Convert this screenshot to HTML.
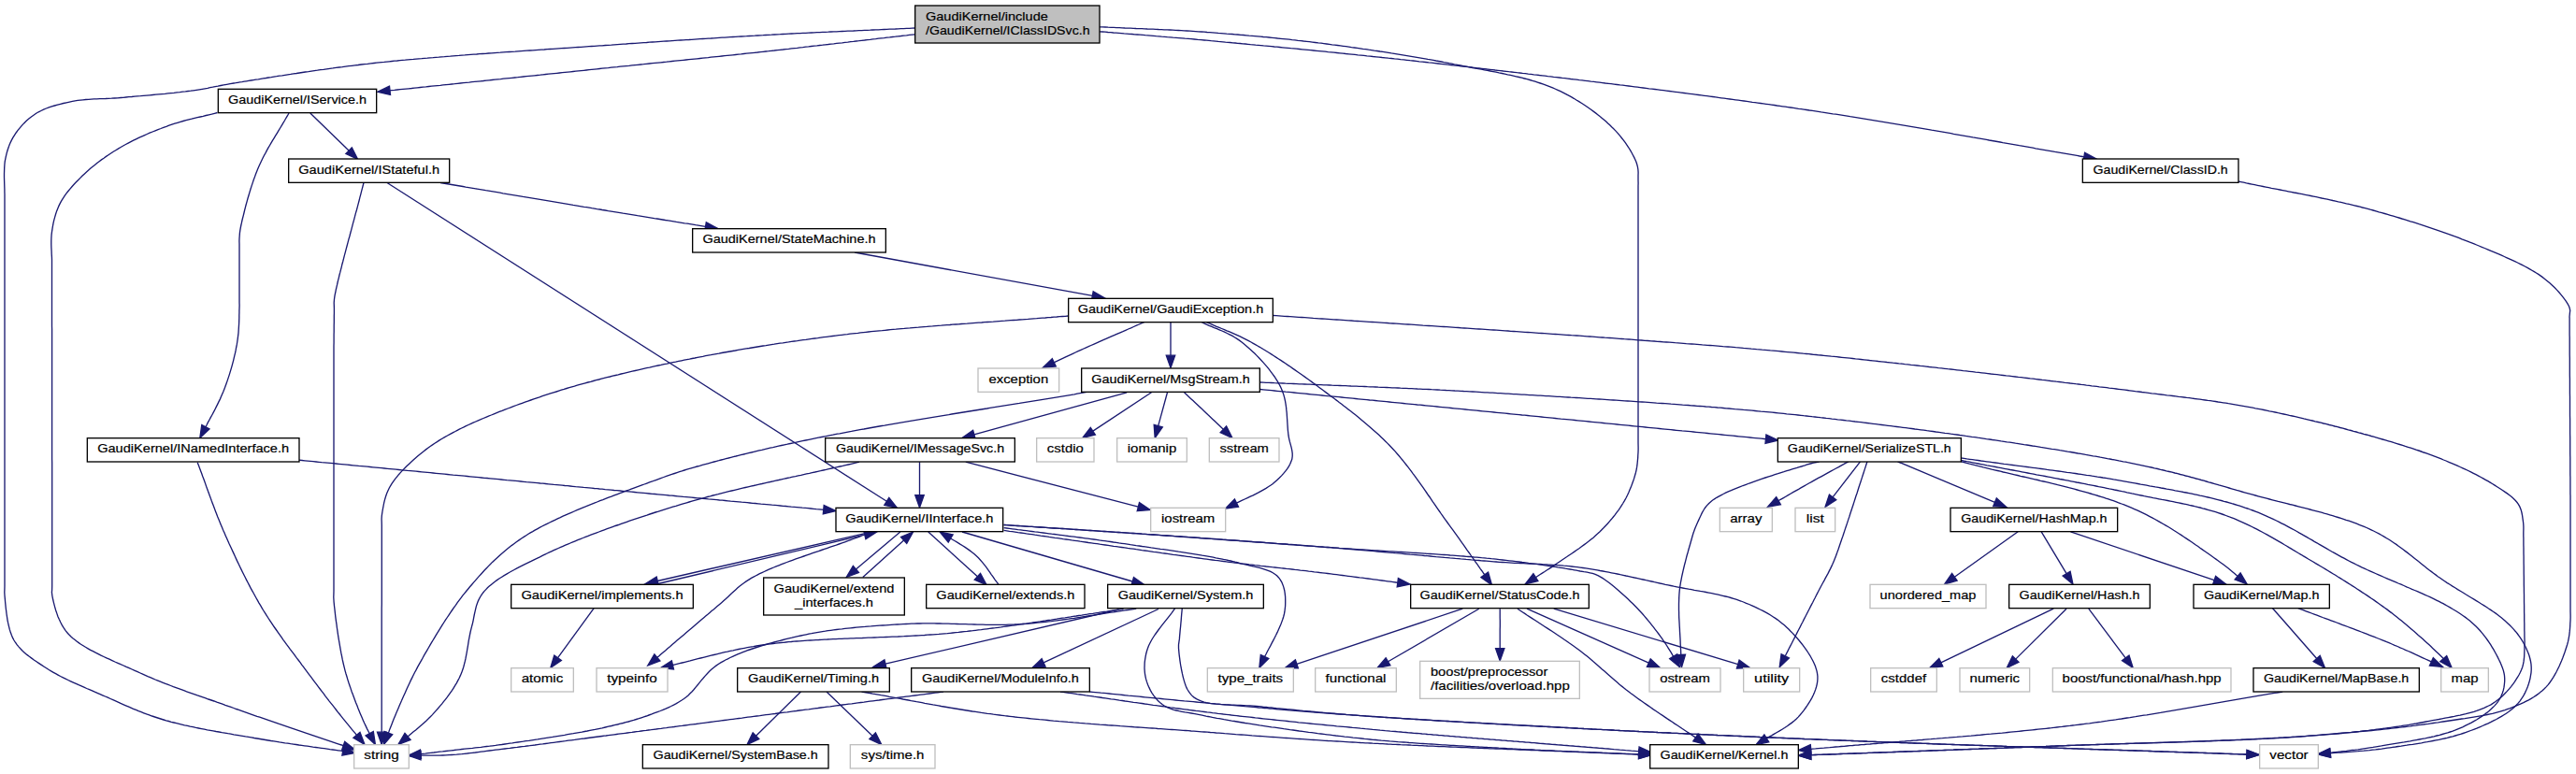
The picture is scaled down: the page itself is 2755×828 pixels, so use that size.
<!DOCTYPE html>
<html><head><meta charset="utf-8"><title>IClassIDSvc.h include graph</title>
<style>
html,body{margin:0;padding:0;background:#fff;}
body{width:2755px;height:828px;overflow:hidden;}
svg{display:block;}
text{font-family:"Liberation Sans",sans-serif;font-size:13.60px;fill:#000;stroke:#000;stroke-width:0.2px;}
rect{stroke-width:1.33;}
.e path{fill:none;stroke:#191970;stroke-width:1.33;}
.e polygon{fill:#191970;stroke:#191970;stroke-width:1.33;stroke-linejoin:miter;}
</style></head>
<body>
<svg width="2755" height="828" viewBox="0 0 2755 828">
<rect x="0" y="0" width="2755" height="828" fill="#ffffff" stroke="none"/>
<g class="e">
<path d="M978.5,30.0 975.5,30.1 972.5,30.3 969.5,30.4 966.5,30.6 963.5,30.7 960.5,30.8 957.5,31.0 954.5,31.1 951.5,31.2 948.5,31.4 945.5,31.5 942.5,31.6 939.5,31.8 936.6,31.9 933.6,32.0 930.6,32.2 927.6,32.3 924.6,32.4 921.6,32.6 918.6,32.7 915.6,32.8 912.7,33.0 909.7,33.1 906.7,33.2 903.7,33.4 900.7,33.5 897.7,33.6 894.7,33.8 891.7,33.9 888.7,34.0 885.7,34.2 882.7,34.3 879.7,34.4 876.7,34.6 873.7,34.7 870.7,34.9 867.7,35.0 864.7,35.1 861.7,35.3 858.6,35.4 855.6,35.6 852.6,35.7 849.5,35.9 846.5,36.0 843.5,36.2 840.4,36.4 837.4,36.5 834.3,36.7 831.3,36.8 828.2,37.0 825.1,37.2 822.1,37.3 819.0,37.5 816.1,37.7 813.1,37.8 810.2,38.0 807.2,38.2 804.3,38.3 801.4,38.5 798.4,38.7 795.5,38.8 792.6,39.0 789.7,39.2 786.7,39.4 783.8,39.5 780.9,39.7 778.0,39.9 775.0,40.1 772.1,40.2 769.2,40.4 766.2,40.6 763.3,40.8 760.4,41.0 757.4,41.1 754.5,41.3 751.6,41.5 748.6,41.7 745.7,41.9 742.7,42.1 739.7,42.3 736.8,42.5 733.8,42.6 730.8,42.8 727.9,43.0 724.9,43.2 721.9,43.4 718.9,43.6 715.9,43.8 712.9,44.0 709.8,44.2 706.8,44.4 703.8,44.6 700.7,44.8 697.7,45.0 694.6,45.2 691.5,45.5 688.4,45.7 685.3,45.9 682.2,46.1 679.1,46.3 676.0,46.5 672.8,46.7 669.7,47.0 666.5,47.2 663.3,47.4 660.2,47.6 657.0,47.8 653.7,48.1 650.5,48.3 647.3,48.5 644.0,48.8 641.2,48.9 638.4,49.1 635.6,49.3 632.8,49.5 629.9,49.7 627.1,49.9 624.2,50.1 621.3,50.3 618.3,50.5 615.4,50.7 612.4,50.9 609.5,51.1 606.5,51.3 603.5,51.5 600.5,51.7 597.4,51.9 594.4,52.1 591.3,52.3 588.3,52.5 585.2,52.7 582.1,53.0 579.0,53.2 575.9,53.4 572.8,53.6 569.7,53.8 566.6,54.0 563.4,54.2 560.3,54.4 557.2,54.6 554.0,54.8 550.9,55.1 547.7,55.3 544.5,55.5 541.4,55.7 538.2,55.9 535.0,56.2 531.9,56.4 528.7,56.6 525.5,56.8 522.4,57.0 519.2,57.3 516.0,57.5 512.9,57.7 509.7,58.0 506.6,58.2 503.4,58.4 500.3,58.6 497.1,58.9 494.0,59.1 490.9,59.4 487.7,59.6 484.6,59.8 481.5,60.1 478.4,60.3 475.3,60.6 472.2,60.8 469.2,61.1 466.1,61.3 463.1,61.6 460.0,61.8 457.0,62.1 454.0,62.3 451.0,62.6 448.0,62.8 445.0,63.1 442.1,63.4 439.1,63.6 436.2,63.9 433.3,64.2 430.4,64.4 427.6,64.7 424.7,65.0 421.9,65.2 419.1,65.5 416.3,65.8 413.5,66.1 410.8,66.4 408.0,66.6 405.3,66.9 402.7,67.2 400.0,67.5 396.6,67.9 393.2,68.3 389.9,68.6 386.5,69.0 383.1,69.5 379.7,69.9 376.3,70.3 372.9,70.7 369.6,71.1 366.2,71.6 362.8,72.0 359.5,72.4 356.1,72.9 352.8,73.3 349.4,73.8 346.1,74.3 342.8,74.7 339.5,75.2 336.3,75.6 333.0,76.1 329.8,76.6 326.5,77.0 323.4,77.5 320.2,78.0 317.0,78.5 313.9,78.9 310.8,79.4 307.8,79.8 304.7,80.3 301.7,80.8 298.7,81.2 295.8,81.7 292.9,82.1 290.0,82.6 287.2,83.0 284.4,83.5 281.6,83.9 278.9,84.3 276.3,84.8 273.6,85.2 271.0,85.6 268.5,86.0 266.0,86.4 263.6,86.8 261.2,87.2 258.8,87.6 256.5,87.9 254.3,88.3 252.1,88.7 250.0,89.0 246.1,89.6 242.5,90.3 239.2,90.9 236.1,91.5 233.1,92.1 230.2,92.6 227.5,93.2 224.7,93.7 222.0,94.3 219.2,94.8 216.3,95.3 213.2,95.8 210.0,96.3 206.6,96.8 203.9,97.2 201.1,97.5 198.3,97.9 195.3,98.2 192.3,98.6 189.2,98.9 186.1,99.3 182.9,99.6 179.7,99.9 176.5,100.3 173.2,100.6 169.9,100.9 166.6,101.2 163.3,101.5 160.1,101.8 156.8,102.1 153.5,102.4 150.3,102.7 147.1,102.9 144.0,103.2 140.9,103.5 137.8,103.7 134.8,104.0 131.9,104.3 129.1,104.5 125.8,104.8 122.5,105.0 119.3,105.2 116.1,105.3 112.9,105.5 109.8,105.6 106.7,105.7 103.6,105.8 100.6,105.9 97.6,106.1 94.7,106.3 91.7,106.5 88.8,106.8 86.0,107.1 83.1,107.4 80.3,107.9 77.5,108.4 74.3,109.1 71.0,109.8 67.8,110.5 64.6,111.3 61.5,112.1 58.4,113.0 55.3,113.9 52.3,114.9 49.4,116.0 46.6,117.2 43.9,118.5 41.2,119.8 38.7,121.3 35.9,123.2 33.1,125.2 30.5,127.3 28.0,129.6 25.6,131.9 23.3,134.4 21.2,136.9 19.1,139.4 17.2,142.0 15.5,144.6 13.9,147.2 12.4,149.9 11.1,152.6 9.9,155.4 8.9,158.2 7.9,161.2 7.1,164.1 6.4,167.2 5.7,170.4 5.2,173.2 4.9,176.2 4.7,179.4 4.6,182.7 4.5,186.1 4.5,189.5 4.6,192.9 4.7,196.2 4.8,199.4 4.9,202.5 4.9,205.3 5.0,207.8 5.0,210.0 5.0,213.3 5.0,215.8 5.0,220.0 5.0,220.9 5.0,221.8 5.0,222.9 5.0,224.0 5.0,225.3 5.0,226.6 5.0,228.0 5.0,229.5 5.0,231.1 5.0,232.8 5.0,234.6 5.0,236.4 5.0,238.3 5.0,240.3 5.0,242.4 5.0,244.6 5.0,246.8 5.0,249.1 5.0,251.5 5.0,253.9 5.0,256.5 5.0,259.0 5.0,261.7 5.0,264.4 5.0,267.2 5.0,270.0 5.0,272.9 5.0,275.9 5.0,278.9 5.0,282.0 5.0,285.1 5.0,288.3 5.0,291.5 5.0,294.8 5.0,298.1 5.0,301.5 5.0,304.9 5.0,308.3 5.0,311.8 5.0,315.4 5.0,319.0 5.0,322.6 5.0,326.3 5.0,330.0 5.0,333.7 5.0,337.5 5.0,341.2 5.0,345.1 5.0,348.9 5.0,352.8 5.0,356.7 5.0,360.6 5.0,364.6 5.0,368.6 5.0,372.5 5.0,376.6 5.0,380.6 5.0,384.6 5.0,388.7 5.0,392.7 5.0,396.8 5.0,400.9 5.0,405.0 5.0,409.1 5.0,413.2 5.0,417.3 5.0,421.4 5.0,425.6 5.0,429.7 5.0,433.8 5.0,437.9 5.0,442.0 5.0,446.1 5.0,450.2 5.0,454.3 5.0,458.3 5.0,462.4 5.0,466.4 5.0,470.4 5.0,474.5 5.0,478.4 5.0,482.4 5.0,486.4 5.0,490.3 5.0,494.2 5.0,498.1 5.0,501.9 5.0,505.8 5.0,509.5 5.0,513.3 5.0,517.0 5.0,520.7 5.0,524.4 5.0,528.0 5.0,531.6 5.0,535.2 5.0,538.7 5.0,542.1 5.0,545.5 5.0,548.9 5.0,552.2 5.0,555.5 5.0,558.7 5.0,561.9 5.0,565.0 5.0,568.1 5.0,571.1 5.0,574.1 5.0,577.0 5.0,579.8 5.0,582.6 5.0,585.3 5.0,588.0 5.0,590.5 5.0,593.1 5.0,595.5 5.0,597.9 5.0,600.2 5.0,602.4 5.0,604.6 5.0,606.7 5.0,608.7 5.0,610.6 5.0,612.4 5.0,614.2 5.0,615.9 5.0,617.5 5.0,619.0 5.0,620.4 5.0,621.7 5.0,623.0 5.0,624.1 5.0,625.2 5.0,626.1 5.0,627.0 4.9,631.1 4.8,633.7 5.0,637.0 5.2,639.1 5.4,641.4 5.6,644.0 5.9,646.9 6.2,650.0 6.6,653.2 7.0,656.5 7.5,659.9 8.0,663.3 8.7,666.7 9.5,670.1 10.3,673.4 11.3,676.6 12.4,679.6 13.6,682.4 15.0,685.0 16.6,687.5 18.3,689.9 20.2,692.1 22.2,694.3 24.3,696.4 26.5,698.4 28.8,700.4 31.3,702.3 33.8,704.1 36.3,706.0 39.0,707.8 41.7,709.6 44.4,711.4 47.2,713.2 50.0,715.0 52.3,716.5 54.6,717.9 57.1,719.3 59.6,720.7 62.1,722.1 64.7,723.5 67.4,724.8 70.1,726.2 72.8,727.5 75.6,728.8 78.4,730.1 81.3,731.4 84.1,732.7 87.0,733.9 89.8,735.2 92.7,736.5 95.6,737.7 98.5,738.9 101.3,740.2 104.1,741.4 107.0,742.6 109.7,743.8 112.5,745.0 115.3,746.2 118.1,747.5 120.8,748.7 123.6,749.9 126.3,751.1 129.0,752.4 131.7,753.6 134.5,754.8 137.2,755.9 139.9,757.1 142.6,758.3 145.4,759.4 148.2,760.6 151.0,761.7 153.8,762.8 156.7,763.9 159.6,764.9 162.6,766.0 165.6,767.0 168.7,768.0 171.8,769.0 175.0,770.0 177.7,770.8 180.4,771.5 183.1,772.3 185.9,773.0 188.7,773.7 191.6,774.4 194.5,775.1 197.4,775.8 200.4,776.4 203.3,777.1 206.3,777.7 209.4,778.4 212.4,779.0 215.5,779.6 218.6,780.2 221.7,780.8 224.8,781.3 227.9,781.9 231.1,782.5 234.2,783.0 237.4,783.6 240.5,784.1 243.7,784.7 246.8,785.2 250.0,785.8 253.2,786.3 256.3,786.8 259.4,787.3 262.6,787.9 265.7,788.4 268.8,788.9 271.9,789.5 275.0,790.0 278.0,790.5 280.9,791.0 283.9,791.5 286.8,792.0 289.8,792.5 292.8,792.9 295.8,793.4 298.8,793.9 301.7,794.3 304.7,794.8 307.7,795.2 310.7,795.7 313.7,796.1 316.7,796.5 319.7,797.0 322.7,797.4 325.7,797.8 328.7,798.2 331.7,798.6 334.7,799.1 337.7,799.5 340.7,799.9 343.8,800.3 346.8,800.7 349.8,801.1 352.8,801.6 355.8,802.0 358.8,802.4 361.8,802.8 364.8,803.2 366.6,803.5"/>
<polygon points="365.9,808.1 379.8,805.4 367.3,798.9"/>
<path d="M978.5,36.8 975.5,37.1 972.5,37.4 969.5,37.8 966.5,38.1 963.5,38.5 960.5,38.8 957.5,39.2 954.5,39.5 951.5,39.9 948.5,40.2 945.5,40.6 942.5,40.9 939.5,41.2 936.6,41.6 933.6,41.9 930.6,42.3 927.6,42.6 924.6,43.0 921.6,43.3 918.6,43.7 915.7,44.0 912.7,44.4 909.7,44.7 906.7,45.1 903.7,45.4 900.7,45.8 897.7,46.1 894.7,46.4 891.7,46.8 888.7,47.1 885.7,47.5 882.7,47.8 879.7,48.2 876.7,48.5 873.7,48.9 870.7,49.2 867.7,49.5 864.7,49.9 861.7,50.2 858.6,50.6 855.6,50.9 852.6,51.3 849.6,51.6 846.5,51.9 843.5,52.3 840.4,52.6 837.4,53.0 834.3,53.3 831.3,53.6 828.2,54.0 825.1,54.3 822.1,54.7 819.0,55.0 816.1,55.3 813.1,55.6 810.2,56.0 807.2,56.3 804.3,56.6 801.4,56.9 798.4,57.2 795.5,57.5 792.6,57.9 789.7,58.2 786.7,58.5 783.8,58.8 780.9,59.1 777.9,59.4 775.0,59.7 772.1,60.0 769.1,60.3 766.2,60.6 763.3,60.9 760.3,61.2 757.4,61.6 754.5,61.9 751.5,62.2 748.6,62.5 745.6,62.8 742.6,63.1 739.7,63.4 736.7,63.7 733.7,64.0 730.8,64.3 727.8,64.6 724.8,64.9 721.8,65.2 718.8,65.5 715.8,65.8 712.8,66.2 709.7,66.5 706.7,66.8 703.7,67.1 700.6,67.4 697.6,67.7 694.5,68.0 691.4,68.3 688.3,68.7 685.3,69.0 682.1,69.3 679.0,69.6 675.9,69.9 672.8,70.3 669.6,70.6 666.5,70.9 663.3,71.2 660.1,71.6 656.9,71.9 653.7,72.2 650.5,72.6 647.2,72.9 644.0,73.2 641.2,73.5 638.4,73.8 635.7,74.1 632.8,74.4 630.0,74.7 627.2,75.0 624.4,75.3 621.5,75.6 618.7,75.9 615.8,76.2 612.9,76.5 610.0,76.8 607.1,77.1 604.2,77.4 601.3,77.7 598.4,78.0 595.5,78.3 592.5,78.6 589.6,78.9 586.6,79.2 583.6,79.5 580.7,79.8 577.7,80.2 574.7,80.5 571.7,80.8 568.7,81.1 565.7,81.4 562.7,81.7 559.7,82.0 556.7,82.3 553.7,82.7 550.6,83.0 547.6,83.3 544.6,83.6 541.5,83.9 538.5,84.2 535.4,84.6 532.4,84.9 529.3,85.2 526.2,85.5 523.2,85.8 520.1,86.1 517.0,86.5 514.0,86.8 510.9,87.1 507.8,87.4 504.8,87.7 501.7,88.1 498.6,88.4 495.5,88.7 492.4,89.0 489.3,89.3 486.3,89.7 483.2,90.0 480.1,90.3 477.0,90.6 473.9,90.9 470.9,91.3 467.8,91.6 464.7,91.9 461.6,92.2 458.6,92.5 455.5,92.9 452.4,93.2 449.3,93.5 446.3,93.8 443.2,94.1 440.2,94.5 437.1,94.8 434.0,95.1 431.0,95.4 427.9,95.7 424.9,96.0 421.9,96.4 418.8,96.7 417.0,96.9"/>
<polygon points="416.5,92.2 403.8,98.2 417.5,101.5"/>
<path d="M1176.0,28.8 1179.0,28.9 1182.0,29.0 1185.1,29.2 1188.1,29.3 1191.1,29.4 1194.1,29.6 1197.1,29.7 1200.1,29.8 1203.1,30.0 1206.1,30.1 1209.1,30.2 1212.1,30.3 1215.1,30.5 1218.1,30.6 1221.1,30.7 1224.1,30.8 1227.1,31.0 1230.1,31.1 1233.1,31.2 1236.1,31.3 1239.2,31.5 1242.2,31.6 1245.2,31.8 1248.2,31.9 1251.2,32.0 1254.3,32.2 1257.3,32.4 1260.3,32.5 1263.4,32.7 1266.4,32.9 1269.5,33.0 1272.6,33.2 1275.6,33.4 1278.7,33.6 1281.8,33.8 1284.9,34.0 1288.0,34.2 1291.0,34.5 1293.9,34.7 1296.9,34.9 1299.9,35.1 1302.9,35.4 1305.9,35.6 1308.9,35.8 1311.9,36.1 1314.8,36.3 1317.9,36.5 1320.9,36.8 1323.9,37.0 1326.9,37.3 1329.9,37.5 1332.9,37.8 1335.9,38.1 1339.0,38.3 1342.0,38.6 1345.0,38.9 1348.1,39.2 1351.1,39.5 1354.2,39.7 1357.2,40.0 1360.3,40.3 1363.4,40.6 1366.4,41.0 1369.5,41.3 1372.6,41.6 1375.7,41.9 1378.7,42.2 1381.8,42.6 1384.9,42.9 1388.0,43.3 1391.1,43.6 1394.2,44.0 1397.4,44.3 1400.5,44.7 1403.6,45.1 1406.7,45.5 1409.9,45.9 1413.0,46.2 1415.9,46.6 1418.8,47.0 1421.7,47.4 1424.6,47.8 1427.6,48.1 1430.5,48.5 1433.5,48.9 1436.5,49.3 1439.5,49.7 1442.5,50.1 1445.5,50.6 1448.5,51.0 1451.5,51.4 1454.6,51.8 1457.6,52.3 1460.6,52.7 1463.7,53.2 1466.7,53.6 1469.8,54.1 1472.8,54.5 1475.9,55.0 1478.9,55.4 1482.0,55.9 1485.0,56.4 1488.1,56.9 1491.1,57.3 1494.1,57.8 1497.2,58.3 1500.2,58.8 1503.2,59.3 1506.2,59.8 1509.2,60.3 1512.2,60.8 1515.2,61.3 1518.2,61.8 1521.1,62.3 1524.1,62.8 1527.0,63.4 1530.0,63.9 1532.9,64.4 1535.8,65.0 1538.6,65.5 1541.5,66.0 1544.3,66.6 1547.2,67.1 1550.0,67.7 1552.7,68.2 1555.5,68.8 1558.7,69.4 1561.9,70.0 1565.1,70.6 1568.3,71.2 1571.6,71.9 1574.8,72.5 1578.0,73.0 1581.1,73.6 1584.3,74.2 1587.5,74.8 1590.7,75.4 1593.8,76.0 1597.0,76.6 1600.1,77.2 1603.2,77.9 1606.3,78.5 1609.4,79.1 1612.4,79.8 1615.5,80.4 1618.5,81.1 1621.5,81.8 1624.5,82.5 1627.4,83.2 1630.4,84.0 1633.2,84.7 1636.1,85.5 1639.0,86.4 1641.8,87.2 1644.5,88.1 1647.3,89.0 1650.0,89.9 1652.7,90.8 1655.3,91.8 1657.9,92.8 1660.5,93.9 1663.0,95.0 1666.0,96.3 1668.9,97.7 1671.8,99.2 1674.7,100.7 1677.6,102.2 1680.4,103.7 1683.2,105.3 1685.9,107.0 1688.7,108.6 1691.3,110.3 1694.0,112.0 1696.6,113.8 1699.1,115.5 1701.6,117.3 1704.1,119.1 1706.5,120.9 1708.8,122.7 1711.1,124.6 1713.4,126.4 1715.6,128.3 1717.7,130.1 1719.7,132.0 1721.7,133.8 1723.6,135.7 1725.5,137.5 1727.8,139.9 1730.1,142.4 1732.2,144.9 1734.3,147.5 1736.4,150.1 1738.3,152.7 1740.1,155.4 1741.9,158.0 1743.5,160.6 1745.0,163.2 1746.3,165.7 1747.6,168.1 1748.7,170.5 1749.7,172.8 1750.5,175.0 1751.4,178.3 1751.9,181.5 1752.1,184.6 1752.0,187.6 1752.0,190.4 1752.0,193.0 1752.1,196.0 1752.0,198.8 1752.0,203.0 1752.0,204.0 1752.0,205.2 1752.0,206.5 1752.0,207.9 1752.0,209.5 1752.0,211.2 1752.0,213.0 1752.0,214.9 1752.0,216.9 1752.0,219.0 1752.0,221.2 1752.0,223.6 1752.0,226.0 1752.0,228.5 1752.0,231.2 1752.0,233.9 1752.0,236.7 1752.0,239.6 1752.0,242.5 1752.0,245.6 1752.0,248.7 1752.0,251.9 1752.0,255.2 1752.0,258.5 1752.0,261.9 1752.0,265.4 1752.0,268.9 1752.0,272.4 1752.0,276.1 1752.0,279.7 1752.0,283.4 1752.0,287.2 1752.0,291.0 1752.0,294.8 1752.0,298.7 1752.0,302.6 1752.0,306.5 1752.0,310.5 1752.0,314.4 1752.0,318.4 1752.0,322.4 1752.0,326.4 1752.0,330.4 1752.0,334.5 1752.0,338.5 1752.0,342.5 1752.0,346.6 1752.0,350.6 1752.0,354.6 1752.0,358.6 1752.0,362.6 1752.0,366.5 1752.0,370.5 1752.0,374.4 1752.0,378.3 1752.0,382.2 1752.0,386.0 1752.0,389.8 1752.0,393.6 1752.0,397.3 1752.0,400.9 1752.0,404.6 1752.0,408.1 1752.0,411.6 1752.0,415.1 1752.0,418.5 1752.0,421.8 1752.0,425.1 1752.0,428.3 1752.0,431.4 1752.0,434.5 1752.0,437.4 1752.0,440.3 1752.0,443.1 1752.0,445.8 1752.0,448.5 1752.0,451.0 1752.0,453.4 1752.0,455.8 1752.0,458.0 1752.0,460.1 1752.0,462.1 1752.0,464.0 1752.0,465.8 1752.0,467.5 1752.0,469.1 1752.0,470.5 1752.0,471.8 1752.0,473.0 1752.0,474.0 1752.1,478.2 1752.1,480.9 1752.0,484.0 1751.8,486.7 1751.7,489.6 1751.4,492.7 1751.1,495.9 1750.7,499.2 1750.1,502.6 1749.3,506.0 1748.5,508.8 1747.7,511.6 1746.7,514.6 1745.6,517.5 1744.5,520.6 1743.2,523.6 1741.9,526.7 1740.5,529.7 1739.0,532.7 1737.4,535.6 1735.7,538.5 1734.2,540.9 1732.6,543.4 1730.9,545.8 1729.1,548.2 1727.3,550.6 1725.4,553.0 1723.5,555.3 1721.5,557.6 1719.5,560.0 1717.4,562.2 1715.2,564.5 1713.0,566.7 1710.8,568.9 1708.5,571.1 1706.3,573.1 1704.0,575.2 1701.6,577.1 1699.1,579.1 1696.6,581.0 1694.0,582.9 1691.4,584.8 1688.8,586.7 1686.1,588.5 1683.5,590.4 1680.8,592.2 1678.1,594.0 1675.5,595.8 1672.9,597.5 1670.3,599.3 1667.8,601.0 1665.1,602.8 1662.5,604.6 1659.9,606.4 1657.3,608.1 1654.6,609.8 1652.0,611.5 1649.4,613.1 1646.8,614.8 1644.2,616.5 1642.4,617.6"/>
<polygon points="1639.9,613.7 1631.2,624.8 1644.9,621.5"/>
<path d="M1176.0,33.8 1179.0,34.0 1182.0,34.2 1184.9,34.5 1187.9,34.7 1190.8,35.0 1193.7,35.2 1196.5,35.4 1199.4,35.6 1202.3,35.9 1205.1,36.1 1207.9,36.3 1210.8,36.5 1213.6,36.8 1216.4,37.0 1219.2,37.2 1222.1,37.4 1224.9,37.7 1227.8,37.9 1230.7,38.1 1233.6,38.3 1236.5,38.6 1239.4,38.8 1242.4,39.1 1245.4,39.3 1248.4,39.6 1251.5,39.8 1254.5,40.1 1257.7,40.3 1260.8,40.6 1264.1,40.9 1267.3,41.2 1270.6,41.4 1274.0,41.7 1277.4,42.0 1280.9,42.4 1284.4,42.7 1288.0,43.0 1290.4,43.2 1292.9,43.4 1295.3,43.7 1297.8,43.9 1300.3,44.1 1302.9,44.4 1305.4,44.6 1308.0,44.8 1310.6,45.1 1313.2,45.3 1315.8,45.5 1318.4,45.8 1321.1,46.0 1323.7,46.3 1326.4,46.5 1329.1,46.8 1331.9,47.0 1334.6,47.3 1337.4,47.6 1340.1,47.8 1342.9,48.1 1345.7,48.3 1348.6,48.6 1351.4,48.9 1354.2,49.1 1357.1,49.4 1360.0,49.7 1362.9,50.0 1365.8,50.2 1368.7,50.5 1371.7,50.8 1374.6,51.1 1377.6,51.4 1380.6,51.7 1383.6,51.9 1386.6,52.2 1389.6,52.5 1392.6,52.8 1395.7,53.1 1398.7,53.4 1401.8,53.7 1404.8,54.0 1407.9,54.3 1411.0,54.6 1414.1,54.9 1417.3,55.2 1420.4,55.6 1423.5,55.9 1426.7,56.2 1429.8,56.5 1433.0,56.8 1436.2,57.1 1439.4,57.5 1442.6,57.8 1445.8,58.1 1449.0,58.4 1452.2,58.8 1455.4,59.1 1458.7,59.4 1461.9,59.8 1465.2,60.1 1468.4,60.5 1471.7,60.8 1474.9,61.1 1478.2,61.5 1481.5,61.8 1484.8,62.2 1488.1,62.5 1491.4,62.9 1494.7,63.2 1498.0,63.6 1501.3,63.9 1504.6,64.3 1508.0,64.7 1511.3,65.0 1514.6,65.4 1517.9,65.8 1521.3,66.1 1524.6,66.5 1528.0,66.9 1531.3,67.2 1534.7,67.6 1538.0,68.0 1540.7,68.3 1543.3,68.6 1546.0,68.9 1548.7,69.2 1551.4,69.5 1554.1,69.8 1556.8,70.1 1559.6,70.4 1562.3,70.8 1565.1,71.1 1567.9,71.4 1570.7,71.7 1573.5,72.0 1576.3,72.3 1579.1,72.7 1581.9,73.0 1584.8,73.3 1587.6,73.6 1590.5,74.0 1593.3,74.3 1596.2,74.6 1599.1,75.0 1602.0,75.3 1604.9,75.6 1607.8,76.0 1610.7,76.3 1613.6,76.7 1616.6,77.0 1619.5,77.3 1622.5,77.7 1625.4,78.0 1628.4,78.4 1631.4,78.7 1634.4,79.1 1637.4,79.4 1640.4,79.8 1643.4,80.1 1646.4,80.5 1649.4,80.8 1652.4,81.2 1655.4,81.6 1658.5,81.9 1661.5,82.3 1664.5,82.6 1667.6,83.0 1670.6,83.4 1673.7,83.7 1676.8,84.1 1679.8,84.5 1682.9,84.8 1686.0,85.2 1689.1,85.6 1692.1,85.9 1695.2,86.3 1698.3,86.7 1701.4,87.1 1704.5,87.4 1707.6,87.8 1710.7,88.2 1713.8,88.6 1716.9,89.0 1720.0,89.3 1723.1,89.7 1726.2,90.1 1729.4,90.5 1732.5,90.9 1735.6,91.2 1738.7,91.6 1741.8,92.0 1744.9,92.4 1748.1,92.8 1751.2,93.2 1754.3,93.6 1757.4,94.0 1760.5,94.4 1763.6,94.8 1766.8,95.1 1769.9,95.5 1773.0,95.9 1776.1,96.3 1779.2,96.7 1782.3,97.1 1785.4,97.5 1788.5,97.9 1791.7,98.3 1794.8,98.7 1797.9,99.1 1801.0,99.5 1804.0,99.9 1807.1,100.3 1810.2,100.7 1813.3,101.1 1816.4,101.5 1819.5,101.9 1822.6,102.3 1825.6,102.7 1828.7,103.1 1831.8,103.5 1834.8,103.9 1837.9,104.4 1840.9,104.8 1844.0,105.2 1847.0,105.6 1850.0,106.0 1853.1,106.4 1856.1,106.8 1859.1,107.2 1862.1,107.6 1865.1,108.0 1868.1,108.4 1871.1,108.8 1874.1,109.3 1877.0,109.7 1880.0,110.1 1883.0,110.5 1885.9,110.9 1888.9,111.3 1891.8,111.7 1894.7,112.1 1897.7,112.5 1900.6,113.0 1903.5,113.4 1906.4,113.8 1909.3,114.2 1912.1,114.6 1915.0,115.0 1917.9,115.4 1920.7,115.8 1923.5,116.3 1926.4,116.7 1929.2,117.1 1932.0,117.5 1935.2,118.0 1938.3,118.4 1941.5,118.9 1944.6,119.4 1947.7,119.9 1950.9,120.3 1954.0,120.8 1957.1,121.3 1960.2,121.8 1963.3,122.2 1966.4,122.7 1969.5,123.2 1972.6,123.7 1975.7,124.2 1978.7,124.7 1981.8,125.1 1984.9,125.6 1987.9,126.1 1991.0,126.6 1994.0,127.1 1997.1,127.6 2000.1,128.1 2003.1,128.6 2006.1,129.1 2009.2,129.6 2012.2,130.1 2015.2,130.6 2018.2,131.1 2021.2,131.6 2024.2,132.1 2027.2,132.6 2030.2,133.1 2033.2,133.6 2036.2,134.1 2039.2,134.6 2042.1,135.1 2045.1,135.6 2048.1,136.1 2051.0,136.6 2054.0,137.1 2057.0,137.6 2059.9,138.1 2062.9,138.6 2065.8,139.2 2068.8,139.7 2071.7,140.2 2074.7,140.7 2077.6,141.2 2080.6,141.7 2083.5,142.2 2086.5,142.7 2089.4,143.3 2092.3,143.8 2095.3,144.3 2098.2,144.8 2101.1,145.3 2104.0,145.8 2107.0,146.3 2109.9,146.9 2112.8,147.4 2115.7,147.9 2118.7,148.4 2121.6,148.9 2124.5,149.4 2127.4,150.0 2130.3,150.5 2133.3,151.0 2136.2,151.5 2139.1,152.0 2142.0,152.6 2144.9,153.1 2147.9,153.6 2150.8,154.1 2153.7,154.6 2156.6,155.1 2159.6,155.7 2162.5,156.2 2165.4,156.7 2168.3,157.2 2171.2,157.7 2174.2,158.2 2177.1,158.8 2180.0,159.3 2183.0,159.8 2185.9,160.3 2188.8,160.8 2191.8,161.3 2194.7,161.8 2197.6,162.4 2200.6,162.9 2203.5,163.4 2206.5,163.9 2209.4,164.4 2212.4,164.9 2215.3,165.4 2218.3,165.9 2221.2,166.4 2224.2,167.0 2227.1,167.5 2228.9,167.8"/>
<polygon points="2228.1,172.4 2242.0,170.0 2229.6,163.2"/>
<path d="M232.5,120.5 229.5,121.3 226.4,122.1 223.4,122.8 220.3,123.5 217.2,124.3 214.2,125.0 211.1,125.7 208.1,126.4 205.0,127.2 202.0,127.9 198.9,128.7 195.9,129.5 192.9,130.4 189.8,131.3 186.8,132.2 183.8,133.2 180.8,134.2 177.9,135.3 174.9,136.3 172.0,137.5 169.0,138.6 166.0,139.8 163.1,141.0 160.1,142.2 157.2,143.5 154.2,144.8 151.3,146.1 148.4,147.4 145.5,148.8 142.7,150.2 139.9,151.6 137.1,153.1 134.4,154.5 131.7,156.0 129.1,157.5 126.4,159.1 123.8,160.7 121.2,162.3 118.6,164.0 116.0,165.7 113.5,167.4 111.0,169.2 108.5,170.9 106.1,172.7 103.7,174.5 101.4,176.4 99.1,178.2 96.9,180.1 94.7,182.0 92.5,184.0 90.4,185.9 88.1,188.1 85.8,190.4 83.5,192.7 81.2,195.0 79.1,197.3 76.9,199.7 74.9,202.1 72.9,204.5 71.0,206.9 69.2,209.4 67.6,211.9 66.0,214.4 64.6,216.9 63.1,219.9 61.8,222.9 60.6,225.9 59.6,229.0 58.7,232.1 57.8,235.3 57.1,238.4 56.5,241.6 56.0,244.7 55.5,247.9 55.1,251.1 54.9,254.5 54.8,258.0 54.8,261.5 54.9,265.0 55.1,268.4 55.2,271.7 55.4,274.7 55.5,277.5 55.5,280.0 55.5,283.2 55.5,285.8 55.5,290.0 55.5,290.9 55.5,292.0 55.5,293.2 55.5,294.4 55.5,295.8 55.5,297.3 55.5,298.9 55.5,300.5 55.5,302.3 55.5,304.2 55.5,306.2 55.5,308.2 55.5,310.4 55.5,312.6 55.5,314.9 55.5,317.3 55.5,319.8 55.5,322.4 55.5,325.0 55.5,327.7 55.5,330.5 55.5,333.4 55.5,336.3 55.5,339.3 55.5,342.4 55.5,345.5 55.5,348.7 55.6,351.9 55.6,355.2 55.6,358.6 55.6,362.0 55.6,365.5 55.6,369.0 55.6,372.5 55.6,376.1 55.6,379.8 55.6,383.5 55.6,387.2 55.6,391.0 55.6,394.7 55.6,398.6 55.6,402.4 55.6,406.3 55.6,410.2 55.6,414.2 55.6,418.1 55.6,422.1 55.6,426.1 55.6,430.1 55.6,434.1 55.6,438.2 55.6,442.2 55.6,446.3 55.6,450.4 55.6,454.4 55.6,458.5 55.6,462.6 55.6,466.6 55.6,470.7 55.6,474.8 55.6,478.8 55.6,482.9 55.6,486.9 55.6,490.9 55.7,494.9 55.7,498.9 55.7,502.8 55.7,506.8 55.7,510.7 55.7,514.6 55.7,518.4 55.7,522.3 55.7,526.0 55.7,529.8 55.7,533.5 55.7,537.2 55.7,540.9 55.7,544.5 55.7,548.0 55.7,551.5 55.7,555.0 55.7,558.4 55.7,561.8 55.7,565.1 55.7,568.3 55.7,571.5 55.7,574.6 55.7,577.7 55.7,580.7 55.7,583.6 55.7,586.5 55.7,589.3 55.7,592.0 55.7,594.6 55.7,597.2 55.7,599.7 55.7,602.1 55.7,604.4 55.7,606.6 55.7,608.8 55.7,610.8 55.7,612.8 55.7,614.7 55.7,616.5 55.7,618.1 55.7,619.7 55.7,621.2 55.7,622.6 55.7,623.8 55.7,625.0 55.7,626.1 55.7,627.0 55.6,631.2 55.4,633.7 55.8,637.0 56.2,639.1 56.7,641.5 57.3,644.1 58.0,646.9 58.8,649.9 59.7,653.0 60.8,656.1 61.9,659.4 63.3,662.6 64.8,665.8 66.4,668.9 68.3,671.9 70.3,674.8 72.5,677.5 74.2,679.3 75.9,681.0 77.8,682.7 79.9,684.3 82.0,686.0 84.2,687.6 86.5,689.2 89.0,690.7 91.5,692.3 94.1,693.8 96.7,695.3 99.4,696.7 102.2,698.2 105.1,699.6 108.0,701.1 110.9,702.5 113.9,703.9 116.9,705.2 119.9,706.6 122.9,708.0 126.0,709.3 129.0,710.7 132.1,712.0 135.1,713.4 138.1,714.7 141.1,716.0 144.1,717.3 147.1,718.7 150.0,720.0 152.6,721.2 155.3,722.4 158.0,723.6 160.7,724.7 163.4,725.8 166.1,727.0 168.8,728.1 171.5,729.2 174.3,730.3 177.0,731.4 179.8,732.4 182.6,733.5 185.4,734.6 188.2,735.6 191.1,736.7 193.9,737.7 196.7,738.7 199.6,739.8 202.5,740.8 205.4,741.8 208.3,742.8 211.2,743.9 214.1,744.9 217.0,745.9 220.0,746.9 222.9,748.0 225.9,749.0 228.9,750.0 231.9,751.1 234.9,752.1 237.9,753.2 240.9,754.3 243.9,755.3 247.0,756.4 250.0,757.5 252.7,758.5 255.4,759.4 258.1,760.4 260.9,761.4 263.7,762.4 266.4,763.3 269.2,764.3 272.0,765.3 274.8,766.3 277.7,767.2 280.5,768.2 283.4,769.2 286.2,770.2 289.1,771.2 292.0,772.2 294.9,773.2 297.8,774.2 300.7,775.1 303.6,776.1 306.5,777.1 309.4,778.1 312.3,779.1 315.3,780.1 318.2,781.1 321.2,782.1 324.1,783.1 327.0,784.1 330.0,785.1 332.9,786.1 335.9,787.1 338.8,788.1 341.8,789.1 344.7,790.1 347.7,791.1 350.6,792.1 353.6,793.1 356.5,794.1 359.4,795.1 362.4,796.1 365.3,797.0 367.2,797.7"/>
<polygon points="365.7,802.1 379.8,802.0 368.7,793.3"/>
<path d="M309.0,121.0 307.5,123.7 305.9,126.3 304.4,129.0 302.8,131.7 301.2,134.3 299.6,137.0 298.0,139.6 296.4,142.3 294.8,144.9 293.2,147.6 291.6,150.2 290.0,152.9 288.5,155.5 286.9,158.2 285.4,160.9 284.0,163.6 282.5,166.3 281.1,169.0 279.8,171.7 278.5,174.5 277.2,177.2 276.0,180.0 274.8,182.9 273.6,186.0 272.5,189.1 271.3,192.3 270.2,195.6 269.1,198.9 268.0,202.3 267.0,205.6 266.0,209.0 265.0,212.3 264.1,215.6 263.2,218.8 262.4,221.9 261.6,225.0 260.9,228.0 260.2,230.8 259.5,233.5 258.9,236.0 258.4,238.4 257.9,240.5 257.5,242.5 256.8,246.3 256.4,249.4 256.2,252.2 256.0,255.0 255.9,258.1 256.0,261.1 256.0,265.0 256.0,267.0 256.0,269.4 256.0,272.1 256.0,275.1 256.0,278.3 256.0,281.7 256.0,285.2 256.0,288.8 256.0,292.5 256.0,296.2 256.0,299.8 256.0,303.3 256.0,306.7 256.0,309.9 256.0,312.9 256.0,315.6 256.0,318.0 256.0,320.0 256.0,323.7 256.1,326.5 256.0,330.0 255.9,332.2 255.9,334.7 255.8,337.3 255.8,340.2 255.7,343.2 255.6,346.3 255.4,349.5 255.2,352.8 255.0,356.1 254.6,359.4 254.2,362.7 253.7,366.0 253.3,368.7 252.7,371.5 252.2,374.4 251.6,377.3 250.9,380.2 250.2,383.1 249.5,386.1 248.7,389.1 247.9,392.1 247.0,395.1 246.1,398.1 245.2,401.1 244.2,404.1 243.2,407.1 242.2,410.1 241.1,413.1 240.0,416.0 238.9,418.8 237.7,421.6 236.5,424.3 235.3,427.1 233.9,429.9 232.6,432.6 231.2,435.4 229.8,438.2 228.4,440.9 226.9,443.7 225.4,446.4 223.9,449.2 222.4,451.9 221.0,454.7 219.9,456.7"/>
<polygon points="215.8,454.5 213.8,468.5 224.0,458.8"/>
<path d="M331.8,121.0 373.0,161.1"/>
<polygon points="369.8,164.5 382.6,170.4 376.3,157.8"/>
<path d="M389.0,195.5 388.2,198.5 387.4,201.6 386.6,204.7 385.8,207.9 384.9,211.2 384.1,214.5 383.2,217.9 382.3,221.3 381.4,224.7 380.4,228.1 379.5,231.6 378.6,235.1 377.6,238.6 376.7,242.1 375.8,245.6 374.8,249.2 373.9,252.7 372.9,256.1 372.0,259.6 371.1,263.0 370.2,266.4 369.3,269.8 368.4,273.1 367.6,276.3 366.8,279.5 365.9,282.7 365.2,285.8 364.4,288.8 363.7,291.7 362.9,294.5 362.3,297.3 361.6,299.9 361.0,302.5 360.5,304.9 359.9,307.3 359.4,309.5 359.0,311.6 358.6,313.5 358.2,315.4 357.9,317.1 357.7,318.6 357.5,320.0 357.2,323.9 357.3,326.6 357.4,330.0 357.4,332.4 357.4,335.1 357.3,338.1 357.3,341.4 357.3,344.8 357.2,348.2 357.2,351.6 357.2,354.9 357.1,357.9 357.1,360.6 357.1,363.0 357.1,366.8 357.0,369.9 357.0,373.0 357.0,375.8 357.0,378.7 357.0,383.0 357.0,384.1 357.0,385.3 357.0,386.6 357.0,388.1 357.0,389.7 357.0,391.5 357.0,393.4 357.0,395.3 357.0,397.5 357.0,399.7 357.0,402.0 357.0,404.4 357.0,407.0 357.0,409.6 357.0,412.3 357.0,415.2 357.0,418.1 357.0,421.1 357.0,424.2 357.0,427.3 357.0,430.6 357.0,433.9 357.0,437.2 357.0,440.7 357.0,444.2 357.0,447.7 357.0,451.3 357.0,455.0 357.0,458.7 357.0,462.5 357.0,466.2 357.0,470.1 357.0,473.9 357.0,477.8 357.0,481.7 357.0,485.7 357.0,489.6 357.0,493.6 357.0,497.6 357.0,501.6 357.0,505.6 357.0,509.6 357.0,513.6 357.0,517.6 357.0,521.6 357.0,525.6 357.0,529.5 357.0,533.5 357.0,537.4 357.0,541.3 357.0,545.1 357.0,549.0 357.0,552.7 357.0,556.5 357.0,560.2 357.0,563.9 357.0,567.5 357.0,571.0 357.0,574.5 357.0,578.0 357.0,581.3 357.0,584.6 357.0,587.9 357.0,591.0 357.0,594.1 357.0,597.1 357.0,600.0 357.0,602.9 357.0,605.6 357.0,608.2 357.0,610.8 357.0,613.2 357.0,615.5 357.0,617.7 357.0,619.9 357.0,621.8 357.0,623.7 357.0,625.5 357.0,627.1 357.0,628.6 357.0,629.9 357.0,631.1 357.0,632.2 356.9,636.2 356.8,638.7 357.0,642.2 357.1,644.0 357.3,645.9 357.5,648.1 357.8,650.5 358.1,653.1 358.4,655.9 358.7,658.8 359.1,661.8 359.5,664.9 360.0,668.1 360.4,671.5 360.9,674.8 361.4,678.3 361.9,681.7 362.5,685.2 363.1,688.7 363.7,692.1 364.3,695.6 364.9,698.9 365.6,702.2 366.2,705.4 366.9,708.5 367.6,711.5 368.3,714.4 369.1,717.6 370.0,720.8 371.0,724.0 371.9,727.1 372.9,730.3 374.0,733.5 375.1,736.6 376.1,739.7 377.3,742.8 378.4,745.8 379.5,748.8 380.6,751.8 381.8,754.6 382.9,757.5 384.0,760.2 385.1,762.9 386.2,765.5 387.3,768.0 388.3,770.4 389.8,773.8 391.3,776.9 392.7,779.9 394.2,782.7 395.2,784.7"/>
<polygon points="391.1,786.9 401.4,796.5 399.3,782.5"/>
<path d="M414.0,195.5 948.3,536.3"/>
<polygon points="945.8,540.3 959.5,543.5 950.8,532.4"/>
<path d="M471.0,195.5 474.0,196.0 477.0,196.5 480.0,197.0 483.0,197.5 486.0,198.0 489.0,198.5 492.1,199.0 495.1,199.5 498.1,200.1 501.2,200.6 504.2,201.1 507.3,201.6 510.3,202.1 513.4,202.6 516.5,203.1 519.5,203.7 522.6,204.2 525.6,204.7 528.7,205.2 531.8,205.7 534.8,206.2 537.9,206.8 541.0,207.3 544.0,207.8 547.1,208.3 550.2,208.8 553.2,209.3 556.3,209.8 559.3,210.4 562.3,210.9 565.4,211.4 568.4,211.9 571.4,212.4 574.5,212.9 577.5,213.4 580.5,213.9 583.5,214.4 586.5,214.9 589.5,215.4 592.4,215.9 595.4,216.4 598.4,216.9 601.3,217.4 604.2,217.9 607.2,218.4 610.1,218.9 613.0,219.4 615.9,219.8 618.8,220.3 621.6,220.8 624.5,221.3 627.3,221.7 630.1,222.2 632.9,222.7 635.7,223.1 638.5,223.6 641.3,224.0 644.0,224.5 647.3,225.0 650.5,225.6 653.7,226.1 656.9,226.6 660.1,227.1 663.2,227.6 666.3,228.2 669.4,228.7 672.5,229.2 675.6,229.7 678.7,230.2 681.7,230.7 684.8,231.1 687.8,231.6 690.8,232.1 693.8,232.6 696.8,233.1 699.8,233.6 702.7,234.0 705.7,234.5 708.6,235.0 711.6,235.5 714.5,235.9 717.5,236.4 720.4,236.9 723.4,237.4 726.3,237.8 729.2,238.3 732.2,238.8 735.1,239.2 738.0,239.7 741.0,240.2 743.9,240.7 746.9,241.1 749.8,241.6 752.8,242.1 754.6,242.4"/>
<polygon points="753.8,247.0 767.8,244.5 755.3,237.8"/>
<path d="M2393.6,194.0 2396.5,194.6 2399.5,195.2 2402.5,195.9 2405.4,196.5 2408.4,197.1 2411.4,197.7 2414.4,198.3 2417.3,198.9 2420.3,199.5 2423.3,200.1 2426.3,200.7 2429.3,201.3 2432.3,201.8 2435.3,202.4 2438.3,203.0 2441.3,203.6 2444.3,204.2 2447.3,204.8 2450.3,205.4 2453.3,206.0 2456.3,206.5 2459.3,207.1 2462.3,207.7 2465.3,208.3 2468.3,208.9 2471.3,209.5 2474.2,210.1 2477.2,210.7 2480.2,211.3 2483.1,212.0 2486.1,212.6 2489.0,213.2 2492.0,213.8 2494.9,214.5 2497.8,215.1 2500.8,215.8 2503.7,216.4 2506.6,217.1 2509.5,217.8 2512.3,218.4 2515.2,219.1 2518.1,219.8 2520.9,220.5 2523.8,221.2 2526.6,222.0 2529.4,222.7 2532.2,223.4 2535.0,224.2 2538.1,225.0 2541.1,225.9 2544.2,226.8 2547.3,227.6 2550.4,228.5 2553.5,229.4 2556.5,230.3 2559.6,231.2 2562.7,232.1 2565.7,233.0 2568.8,234.0 2571.9,234.9 2574.9,235.8 2577.9,236.8 2581.0,237.7 2584.0,238.7 2587.0,239.7 2590.0,240.6 2593.0,241.6 2595.9,242.6 2598.9,243.6 2601.8,244.6 2604.8,245.6 2607.7,246.6 2610.6,247.6 2613.4,248.6 2616.3,249.6 2619.1,250.6 2621.9,251.6 2624.7,252.7 2627.5,253.7 2630.2,254.7 2632.9,255.8 2635.6,256.8 2638.3,257.8 2640.9,258.9 2643.5,259.9 2646.1,260.9 2648.7,262.0 2651.2,263.0 2654.3,264.3 2657.3,265.5 2660.4,266.8 2663.4,268.1 2666.5,269.4 2669.5,270.6 2672.5,271.9 2675.4,273.2 2678.3,274.5 2681.2,275.8 2684.1,277.1 2686.9,278.4 2689.7,279.7 2692.5,281.0 2695.2,282.3 2697.8,283.7 2700.4,285.0 2703.0,286.4 2705.5,287.8 2707.9,289.2 2710.3,290.6 2712.5,292.0 2714.8,293.4 2716.9,294.9 2719.0,296.4 2721.0,297.9 2723.8,300.2 2726.6,302.6 2729.3,305.0 2732.0,307.6 2734.5,310.1 2736.9,312.7 2739.1,315.3 2741.1,317.8 2743.0,320.3 2744.6,322.6 2746.0,324.9 2747.2,327.0 2748.0,328.9 2748.7,332.0 2748.4,334.8 2748.0,338.9 2748.1,340.1 2748.1,341.5 2748.1,343.1 2748.1,344.8 2748.1,346.7 2748.1,348.7 2748.1,350.9 2748.1,353.2 2748.1,355.7 2748.1,358.3 2748.2,361.0 2748.2,363.9 2748.2,366.8 2748.2,369.8 2748.2,373.0 2748.2,376.3 2748.2,379.6 2748.3,383.0 2748.3,386.5 2748.3,390.1 2748.3,393.7 2748.3,397.4 2748.3,401.2 2748.4,405.0 2748.4,408.8 2748.4,412.7 2748.4,416.6 2748.4,420.5 2748.5,424.5 2748.5,428.5 2748.5,432.5 2748.5,436.4 2748.5,440.4 2748.5,444.4 2748.6,448.4 2748.6,452.3 2748.6,456.2 2748.6,460.1 2748.6,463.9 2748.7,467.7 2748.7,471.5 2748.7,475.2 2748.7,478.8 2748.7,482.4 2748.7,485.9 2748.8,489.3 2748.8,492.6 2748.8,495.9 2748.8,499.1 2748.8,502.1 2748.8,505.0 2748.8,507.9 2748.9,510.6 2748.9,513.2 2748.9,515.7 2748.9,518.0 2748.9,520.2 2748.9,522.2 2748.9,524.1 2748.9,525.8 2748.9,527.4 2748.9,528.8 2749.0,530.0 2749.0,534.3 2749.0,537.1 2749.0,540.0 2749.0,542.9 2749.0,545.9 2749.0,550.0 2749.0,551.6 2749.0,553.4 2749.0,555.5 2749.0,557.9 2749.0,560.4 2749.0,563.2 2749.0,566.1 2749.0,569.3 2749.0,572.5 2749.0,575.9 2749.0,579.4 2749.0,583.0 2749.0,586.7 2749.0,590.5 2749.0,594.3 2749.0,598.1 2749.0,602.0 2749.0,605.9 2749.0,609.7 2749.0,613.5 2749.0,617.3 2749.0,621.0 2749.0,624.6 2749.0,628.1 2749.0,631.5 2749.0,634.7 2749.0,637.9 2749.0,640.8 2749.0,643.6 2749.0,646.1 2749.0,648.5 2749.0,650.6 2749.0,652.4 2749.0,654.0 2749.1,657.9 2749.1,660.7 2749.0,664.0 2748.8,666.6 2748.7,669.5 2748.5,672.6 2748.2,675.9 2747.8,679.3 2747.2,682.8 2746.5,686.4 2745.5,690.0 2744.7,692.5 2743.8,695.2 2742.9,698.0 2741.8,700.9 2740.7,703.9 2739.5,706.9 2738.2,709.9 2736.9,713.0 2735.4,716.0 2733.9,719.0 2732.3,721.9 2730.7,724.7 2728.9,727.4 2727.1,730.0 2725.3,732.4 2723.3,734.6 2721.2,736.7 2719.1,738.7 2716.8,740.6 2714.5,742.4 2712.1,744.1 2709.6,745.8 2707.0,747.3 2704.4,748.8 2701.7,750.2 2698.9,751.6 2696.0,752.9 2693.1,754.1 2690.1,755.4 2687.1,756.6 2684.0,757.8 2681.5,758.7 2679.0,759.6 2676.4,760.4 2673.8,761.2 2671.2,761.9 2668.5,762.6 2665.7,763.3 2663.0,763.9 2660.1,764.5 2657.3,765.1 2654.4,765.6 2651.4,766.1 2648.4,766.6 2645.4,767.1 2642.3,767.6 2639.2,768.1 2636.1,768.6 2632.9,769.0 2629.6,769.5 2626.3,770.0 2623.0,770.5 2619.6,771.0 2616.2,771.5 2612.7,772.0 2610.2,772.4 2607.6,772.8 2605.1,773.1 2602.5,773.5 2599.9,773.9 2597.2,774.3 2594.6,774.6 2591.9,775.0 2589.2,775.3 2586.4,775.7 2583.7,776.1 2580.9,776.4 2578.1,776.8 2575.3,777.1 2572.4,777.5 2569.5,777.8 2566.6,778.2 2563.7,778.5 2560.8,778.8 2557.8,779.2 2554.9,779.5 2551.9,779.8 2548.8,780.2 2545.8,780.5 2542.7,780.8 2539.6,781.1 2536.5,781.5 2533.4,781.8 2530.2,782.1 2527.0,782.4 2523.9,782.7 2520.6,783.0 2517.4,783.3 2514.1,783.6 2510.9,783.9 2507.6,784.2 2504.3,784.5 2500.9,784.8 2497.6,785.0 2494.2,785.3 2490.8,785.6 2487.4,785.9 2483.9,786.1 2480.5,786.4 2477.0,786.7 2473.5,786.9 2470.0,787.2 2467.5,787.4 2464.9,787.6 2462.3,787.7 2459.7,787.9 2457.1,788.1 2454.5,788.3 2451.8,788.4 2449.2,788.6 2446.5,788.8 2443.8,788.9 2441.1,789.1 2438.3,789.2 2435.6,789.4 2432.8,789.5 2430.0,789.7 2427.2,789.8 2424.4,790.0 2421.5,790.1 2418.7,790.3 2415.8,790.4 2413.0,790.5 2410.1,790.7 2407.2,790.8 2404.2,790.9 2401.3,791.1 2398.4,791.2 2395.4,791.3 2392.4,791.4 2389.5,791.6 2386.5,791.7 2383.5,791.8 2380.5,791.9 2377.5,792.0 2374.4,792.2 2371.4,792.3 2368.3,792.4 2365.3,792.5 2362.2,792.6 2359.1,792.7 2356.1,792.8 2353.0,792.9 2349.9,793.1 2346.8,793.2 2343.7,793.3 2340.6,793.4 2337.5,793.5 2334.3,793.6 2331.2,793.7 2328.1,793.8 2324.9,793.9 2321.8,794.0 2318.7,794.1 2315.5,794.2 2312.4,794.3 2309.2,794.4 2306.1,794.5 2302.9,794.6 2299.7,794.7 2296.6,794.8 2293.4,794.9 2290.3,795.0 2287.1,795.1 2283.9,795.2 2280.8,795.3 2277.6,795.4 2274.5,795.5 2271.3,795.6 2268.2,795.7 2265.0,795.8 2261.9,795.9 2258.7,796.0 2255.6,796.1 2252.4,796.2 2249.3,796.3 2246.2,796.4 2243.1,796.5 2239.9,796.6 2236.8,796.7 2233.7,796.8 2230.6,796.9 2227.5,797.0 2224.4,797.1 2221.3,797.2 2218.3,797.3 2215.2,797.4 2212.1,797.5 2209.1,797.7 2206.1,797.8 2203.0,797.9 2200.0,798.0 2197.0,798.1 2194.0,798.2 2191.0,798.3 2188.0,798.5 2185.0,798.6 2182.1,798.7 2179.1,798.8 2176.1,798.9 2173.1,799.0 2170.1,799.1 2167.1,799.3 2164.1,799.4 2161.1,799.5 2158.1,799.6 2155.1,799.7 2152.1,799.8 2149.1,799.9 2146.1,800.0 2143.1,800.2 2140.1,800.3 2137.1,800.4 2134.1,800.5 2131.1,800.6 2128.1,800.7 2125.1,800.8 2122.1,800.9 2119.1,801.0 2116.1,801.2 2113.1,801.3 2110.1,801.4 2107.0,801.5 2104.0,801.6 2101.0,801.7 2098.0,801.8 2095.0,801.9 2092.0,802.0 2089.0,802.2 2086.0,802.3 2083.0,802.4 2080.0,802.5 2077.0,802.6 2074.0,802.7 2070.9,802.8 2067.9,802.9 2064.9,803.0 2061.9,803.1 2058.9,803.3 2055.9,803.4 2052.9,803.5 2049.9,803.6 2046.9,803.7 2043.8,803.8 2040.8,803.9 2037.8,804.0 2034.8,804.1 2031.8,804.2 2028.8,804.4 2025.8,804.5 2022.8,804.6 2019.7,804.7 2016.7,804.8 2013.7,804.9 2010.7,805.0 2007.7,805.1 2004.7,805.2 2001.7,805.3 1998.7,805.4 1995.6,805.6 1992.6,805.7 1989.6,805.8 1986.6,805.9 1983.6,806.0 1980.6,806.1 1977.6,806.2 1974.6,806.3 1971.5,806.4 1968.5,806.5 1965.5,806.7 1962.5,806.8 1959.5,806.9 1956.5,807.0 1953.5,807.1 1950.5,807.2 1947.5,807.3 1944.5,807.4 1941.4,807.5 1938.4,807.6 1936.7,807.7"/>
<polygon points="1936.5,803.0 1923.4,808.2 1936.9,812.4"/>
<path d="M914.0,270.0 1168.4,316.4"/>
<polygon points="1167.5,321.0 1181.5,318.8 1169.2,311.8"/>
<path d="M1142.2,338.0 1139.2,338.3 1136.2,338.5 1133.2,338.7 1130.1,339.0 1127.1,339.2 1124.0,339.5 1120.9,339.7 1117.9,340.0 1114.8,340.2 1111.7,340.4 1108.7,340.7 1105.6,340.9 1102.5,341.1 1099.4,341.4 1096.3,341.6 1093.2,341.8 1090.2,342.0 1087.1,342.3 1084.0,342.5 1080.9,342.7 1077.8,342.9 1074.7,343.2 1071.6,343.4 1068.5,343.6 1065.4,343.8 1062.2,344.1 1059.1,344.3 1056.0,344.5 1052.9,344.7 1049.8,345.0 1046.7,345.2 1043.6,345.4 1040.5,345.6 1037.4,345.8 1034.3,346.1 1031.2,346.3 1028.1,346.5 1025.1,346.8 1022.0,347.0 1018.9,347.2 1015.8,347.5 1012.7,347.7 1009.7,347.9 1006.6,348.2 1003.5,348.4 1000.5,348.6 997.4,348.9 994.3,349.1 991.3,349.4 988.3,349.6 985.2,349.8 982.2,350.1 979.2,350.3 976.2,350.6 973.1,350.9 970.1,351.1 967.1,351.4 964.1,351.6 961.2,351.9 958.2,352.2 955.2,352.4 952.3,352.7 949.3,353.0 946.4,353.3 943.4,353.6 940.5,353.8 937.6,354.1 934.7,354.4 931.8,354.7 928.9,355.0 926.0,355.3 923.2,355.6 920.3,355.9 917.5,356.3 914.6,356.6 911.8,356.9 909.0,357.2 906.2,357.6 903.4,357.9 900.2,358.3 896.9,358.7 893.7,359.1 890.5,359.5 887.3,359.9 884.1,360.3 880.9,360.7 877.7,361.1 874.5,361.6 871.4,362.0 868.2,362.4 865.1,362.8 862.0,363.3 858.9,363.7 855.7,364.1 852.6,364.6 849.5,365.0 846.5,365.4 843.4,365.9 840.3,366.3 837.3,366.8 834.2,367.2 831.2,367.7 828.1,368.2 825.1,368.6 822.1,369.1 819.1,369.6 816.1,370.0 813.1,370.5 810.1,371.0 807.1,371.5 804.1,372.0 801.2,372.5 798.2,372.9 795.2,373.4 792.3,373.9 789.4,374.4 786.4,375.0 783.5,375.5 780.6,376.0 777.7,376.5 774.7,377.0 771.8,377.5 768.9,378.1 766.1,378.6 763.2,379.1 760.3,379.7 757.4,380.2 754.5,380.7 751.7,381.3 748.8,381.8 745.9,382.4 743.1,383.0 740.2,383.5 737.4,384.1 734.6,384.6 731.7,385.2 728.9,385.8 725.8,386.4 722.6,387.1 719.5,387.7 716.3,388.4 713.2,389.1 710.1,389.7 707.0,390.4 703.9,391.0 700.8,391.7 697.7,392.4 694.6,393.1 691.5,393.7 688.5,394.4 685.4,395.1 682.3,395.8 679.3,396.5 676.2,397.2 673.2,397.9 670.2,398.6 667.2,399.3 664.2,400.0 661.2,400.8 658.2,401.5 655.2,402.2 652.2,403.0 649.2,403.7 646.3,404.4 643.3,405.2 640.4,406.0 637.5,406.7 634.6,407.5 631.7,408.3 628.8,409.0 625.9,409.8 623.0,410.6 620.1,411.4 617.3,412.2 614.4,413.1 611.6,413.9 608.8,414.7 606.0,415.5 603.2,416.4 600.4,417.2 597.6,418.1 594.9,419.0 592.1,419.8 589.4,420.7 586.3,421.7 583.2,422.7 580.1,423.7 577.0,424.8 573.9,425.8 570.8,426.9 567.7,428.0 564.6,429.1 561.5,430.2 558.4,431.3 555.3,432.4 552.3,433.5 549.2,434.7 546.2,435.8 543.1,437.0 540.1,438.1 537.1,439.3 534.1,440.4 531.2,441.6 528.3,442.8 525.4,444.0 522.5,445.1 519.7,446.3 516.9,447.5 514.2,448.7 511.4,449.8 508.8,451.0 506.1,452.2 503.5,453.4 501.0,454.5 498.5,455.7 496.1,456.9 493.7,458.0 491.3,459.2 489.1,460.3 486.9,461.5 484.7,462.6 481.5,464.3 478.5,466.0 475.6,467.6 472.8,469.3 470.1,470.9 467.5,472.6 464.9,474.2 462.5,475.9 460.1,477.5 457.7,479.2 455.5,480.9 453.2,482.7 451.0,484.4 448.8,486.2 446.6,488.1 444.4,490.0 442.1,492.1 439.7,494.2 437.4,496.4 435.1,498.6 432.9,500.8 430.6,503.1 428.5,505.4 426.4,507.7 424.5,510.1 422.6,512.4 420.8,514.8 419.2,517.2 417.7,519.6 416.3,522.0 414.9,525.0 413.6,528.1 412.5,531.3 411.5,534.6 410.7,537.8 410.1,541.0 409.5,544.1 409.0,547.0 408.6,549.6 408.3,552.0 408.1,555.3 408.2,557.9 408.3,562.0 408.3,563.3 408.3,564.7 408.3,566.4 408.3,568.2 408.3,570.2 408.3,572.3 408.3,574.6 408.3,577.1 408.3,579.7 408.3,582.4 408.3,585.3 408.3,588.2 408.3,591.3 408.3,594.5 408.3,597.8 408.3,601.2 408.3,604.6 408.3,608.2 408.3,611.8 408.3,615.5 408.3,619.2 408.3,623.0 408.3,626.9 408.3,630.8 408.3,634.7 408.3,638.6 408.3,642.6 408.3,646.5 408.2,650.5 408.2,654.4 408.2,658.4 408.2,662.3 408.2,666.2 408.2,670.1 408.2,674.0 408.2,677.8 408.2,681.5 408.2,685.2 408.2,688.8 408.2,692.4 408.2,695.8 408.2,699.2 408.2,702.5 408.2,705.7 408.2,708.8 408.2,711.7 408.2,714.6 408.2,717.3 408.2,719.9 408.2,722.4 408.2,724.7 408.2,726.8 408.2,728.8 408.2,730.6 408.2,732.3 408.2,733.7 408.2,735.0 408.2,739.2 408.2,742.1 408.2,745.0 408.2,748.1 408.2,751.3 408.2,755.0 408.2,757.5 408.2,760.5 408.2,763.7 408.2,767.2 408.2,770.8 408.2,774.3 408.2,777.8 408.2,781.0 408.2,783.2"/>
<polygon points="403.5,783.2 408.2,796.5 412.9,783.2"/>
<path d="M1224.0,344.5 1221.2,345.7 1218.3,347.0 1215.4,348.2 1212.5,349.5 1209.6,350.8 1206.7,352.0 1203.8,353.3 1200.9,354.6 1198.0,355.8 1195.0,357.1 1192.1,358.4 1189.2,359.6 1186.3,360.9 1183.5,362.1 1180.6,363.4 1177.8,364.6 1175.0,365.9 1172.3,367.1 1169.5,368.3 1166.8,369.5 1164.2,370.7 1161.6,371.8 1159.0,373.0 1156.0,374.4 1153.1,375.7 1150.2,377.0 1147.4,378.3 1144.7,379.6 1141.9,380.9 1139.2,382.2 1136.6,383.4 1133.9,384.7 1131.3,385.9 1128.6,387.2 1127.3,387.8"/>
<polygon points="1125.3,383.6 1115.2,393.5 1129.3,392.0"/>
<path d="M1252.0,344.5 1252.0,347.6 1252.0,350.8 1252.0,354.5 1252.0,357.1 1252.0,360.2 1252.0,363.6 1252.0,367.2 1252.0,370.8 1252.0,374.4 1252.0,377.8 1252.0,380.2"/>
<polygon points="1247.3,380.2 1252.0,393.5 1256.7,380.2"/>
<path d="M1285.0,344.5 1287.7,345.8 1290.4,347.1 1293.1,348.3 1295.9,349.4 1298.6,350.6 1301.4,351.7 1304.1,352.8 1306.9,354.0 1309.6,355.2 1312.3,356.5 1315.0,357.8 1317.7,359.2 1320.3,360.8 1322.9,362.4 1325.5,364.1 1328.0,366.0 1330.2,367.8 1332.5,369.7 1334.8,371.7 1337.1,373.7 1339.5,375.9 1341.8,378.1 1344.1,380.4 1346.4,382.8 1348.7,385.2 1350.9,387.6 1353.1,390.1 1355.3,392.6 1357.3,395.2 1359.3,397.8 1361.2,400.4 1363.1,403.0 1364.8,405.6 1366.4,408.2 1367.9,410.8 1369.3,413.4 1370.5,416.0 1371.7,419.0 1372.8,422.1 1373.7,425.3 1374.4,428.5 1375.0,431.8 1375.5,435.1 1375.8,438.4 1376.2,441.7 1376.4,445.0 1376.6,448.3 1376.8,451.5 1377.0,454.6 1377.2,457.6 1377.4,460.5 1377.7,463.3 1378.0,466.0 1378.7,469.6 1379.5,472.9 1380.4,476.1 1381.2,479.2 1381.8,482.2 1382.2,485.1 1382.2,488.0 1381.8,491.0 1380.9,493.6 1379.8,496.3 1378.4,498.8 1376.8,501.4 1374.9,503.9 1372.8,506.4 1370.6,508.9 1368.2,511.3 1365.6,513.7 1363.0,516.0 1361.0,517.7 1358.8,519.3 1356.4,520.8 1354.0,522.4 1351.4,523.9 1348.7,525.4 1345.9,526.9 1343.1,528.3 1340.2,529.8 1337.2,531.2 1334.2,532.6 1331.2,534.0 1328.1,535.4 1325.1,536.8 1322.4,538.1"/>
<polygon points="1320.4,533.9 1310.5,544.0 1324.5,542.3"/>
<path d="M1290.0,344.5 1292.8,345.7 1295.6,346.9 1298.4,348.1 1301.1,349.3 1303.9,350.4 1306.6,351.5 1309.4,352.6 1312.1,353.8 1314.9,354.9 1317.7,356.1 1320.5,357.3 1323.3,358.6 1326.2,359.9 1329.0,361.3 1332.0,362.8 1335.0,364.4 1338.0,366.0 1340.3,367.3 1342.6,368.6 1345.0,370.0 1347.3,371.3 1349.7,372.8 1352.2,374.3 1354.6,375.8 1357.1,377.3 1359.6,378.9 1362.1,380.5 1364.6,382.1 1367.1,383.7 1369.7,385.4 1372.3,387.1 1374.8,388.8 1377.4,390.6 1380.0,392.3 1382.5,394.1 1385.1,395.9 1387.7,397.7 1390.3,399.5 1392.8,401.3 1395.4,403.1 1398.0,405.0 1400.5,406.8 1403.0,408.6 1405.6,410.5 1408.1,412.3 1410.5,414.2 1413.0,416.0 1415.4,417.8 1417.8,419.6 1420.2,421.4 1422.6,423.2 1425.1,425.0 1427.5,426.8 1429.9,428.6 1432.3,430.5 1434.8,432.3 1437.2,434.2 1439.6,436.0 1442.0,437.9 1444.5,439.8 1446.9,441.7 1449.3,443.6 1451.7,445.5 1454.1,447.5 1456.4,449.4 1458.8,451.4 1461.2,453.4 1463.5,455.4 1465.8,457.4 1468.1,459.4 1470.4,461.4 1472.7,463.5 1475.0,465.6 1477.2,467.7 1479.4,469.8 1481.6,472.0 1483.8,474.1 1485.9,476.3 1488.0,478.5 1490.1,480.7 1492.1,482.9 1494.1,485.2 1496.1,487.5 1498.0,489.8 1500.0,492.2 1501.9,494.6 1503.8,497.0 1505.7,499.4 1507.6,501.8 1509.5,504.3 1511.3,506.8 1513.2,509.3 1515.0,511.8 1516.8,514.3 1518.6,516.8 1520.4,519.4 1522.2,521.9 1523.9,524.4 1525.7,527.0 1527.4,529.5 1529.2,532.0 1530.9,534.6 1532.6,537.1 1534.4,539.6 1536.1,542.1 1537.8,544.6 1539.5,547.0 1541.2,549.5 1542.9,551.9 1544.6,554.3 1546.3,556.7 1548.0,559.0 1549.9,561.6 1551.7,564.1 1553.6,566.7 1555.4,569.2 1557.2,571.7 1559.0,574.2 1560.8,576.7 1562.5,579.2 1564.3,581.7 1566.1,584.1 1567.8,586.6 1569.5,589.1 1571.3,591.5 1573.0,594.0 1574.7,596.4 1576.5,598.8 1578.2,601.3 1579.9,603.7 1581.6,606.1 1583.3,608.6 1585.1,611.0 1586.8,613.5 1587.8,614.9"/>
<polygon points="1584.0,617.6 1595.5,625.8 1591.6,612.2"/>
<path d="M1361.8,337.5 1364.8,337.7 1367.8,337.9 1370.8,338.1 1373.8,338.3 1376.9,338.5 1379.9,338.7 1383.0,338.9 1386.0,339.1 1389.1,339.3 1392.2,339.5 1395.3,339.7 1398.4,339.9 1401.4,340.1 1404.5,340.4 1407.7,340.6 1410.8,340.8 1413.9,341.0 1417.0,341.2 1420.1,341.4 1423.3,341.6 1426.4,341.8 1429.6,342.0 1432.7,342.2 1435.9,342.4 1439.0,342.6 1442.2,342.8 1445.4,343.0 1448.5,343.3 1451.7,343.5 1454.9,343.7 1458.0,343.9 1461.2,344.1 1464.4,344.3 1467.6,344.5 1470.8,344.7 1474.0,344.9 1477.1,345.1 1480.3,345.3 1483.5,345.5 1486.7,345.8 1489.9,346.0 1493.1,346.2 1496.3,346.4 1499.5,346.6 1502.7,346.8 1505.9,347.0 1509.1,347.2 1512.3,347.4 1515.5,347.6 1518.6,347.8 1521.8,348.1 1525.0,348.3 1528.2,348.5 1531.4,348.7 1534.6,348.9 1537.7,349.1 1540.9,349.3 1544.1,349.5 1547.3,349.7 1550.4,349.9 1553.6,350.1 1556.7,350.3 1559.9,350.5 1563.1,350.8 1566.2,351.0 1569.3,351.2 1572.5,351.4 1575.6,351.6 1578.7,351.8 1581.9,352.0 1585.0,352.2 1588.1,352.4 1591.2,352.6 1594.3,352.8 1597.4,353.0 1600.5,353.2 1603.6,353.4 1606.6,353.6 1609.7,353.8 1612.8,354.0 1615.8,354.3 1618.9,354.5 1621.9,354.7 1624.9,354.9 1628.0,355.1 1631.0,355.3 1634.0,355.5 1637.0,355.7 1640.0,355.9 1642.9,356.1 1645.9,356.3 1648.9,356.5 1651.8,356.7 1654.7,356.9 1657.7,357.1 1660.6,357.3 1663.5,357.5 1666.4,357.7 1669.3,357.9 1672.1,358.1 1675.0,358.3 1677.8,358.5 1680.7,358.7 1683.5,358.8 1686.3,359.0 1689.1,359.2 1691.9,359.4 1694.7,359.6 1697.4,359.8 1700.2,360.0 1702.9,360.2 1705.6,360.4 1708.3,360.6 1711.0,360.8 1713.7,361.0 1716.4,361.2 1719.0,361.3 1721.7,361.5 1724.3,361.7 1726.9,361.9 1729.5,362.1 1732.0,362.3 1734.6,362.5 1737.1,362.7 1739.6,362.8 1742.1,363.0 1744.6,363.2 1747.1,363.4 1749.6,363.6 1752.0,363.8 1755.5,364.0 1759.0,364.3 1762.5,364.5 1765.9,364.8 1769.2,365.0 1772.5,365.3 1775.8,365.5 1779.0,365.8 1782.2,366.0 1785.3,366.2 1788.4,366.4 1791.5,366.7 1794.5,366.9 1797.5,367.1 1800.5,367.3 1803.4,367.6 1806.3,367.8 1809.2,368.0 1812.1,368.2 1814.9,368.4 1817.8,368.6 1820.6,368.9 1823.4,369.1 1826.2,369.3 1828.9,369.5 1831.7,369.7 1834.4,369.9 1837.2,370.1 1839.9,370.3 1842.7,370.6 1845.4,370.8 1848.1,371.0 1850.9,371.2 1853.6,371.4 1856.3,371.7 1859.1,371.9 1861.9,372.1 1864.6,372.4 1867.4,372.6 1870.2,372.8 1873.0,373.1 1875.9,373.3 1878.7,373.6 1881.6,373.8 1884.5,374.1 1887.4,374.3 1890.4,374.6 1893.4,374.9 1896.4,375.1 1899.4,375.4 1902.5,375.7 1905.6,376.0 1908.8,376.3 1911.9,376.6 1915.2,376.9 1918.4,377.2 1921.8,377.5 1925.1,377.8 1928.5,378.2 1932.0,378.5 1934.5,378.7 1937.1,379.0 1939.7,379.3 1942.3,379.5 1944.9,379.8 1947.6,380.0 1950.3,380.3 1953.0,380.6 1955.7,380.9 1958.5,381.2 1961.3,381.4 1964.1,381.7 1966.9,382.0 1969.8,382.3 1972.7,382.6 1975.6,382.9 1978.5,383.2 1981.4,383.5 1984.4,383.9 1987.4,384.2 1990.4,384.5 1993.4,384.8 1996.4,385.1 1999.5,385.5 2002.6,385.8 2005.7,386.1 2008.8,386.5 2011.9,386.8 2015.0,387.1 2018.1,387.5 2021.3,387.8 2024.5,388.2 2027.7,388.5 2030.8,388.9 2034.0,389.2 2037.3,389.6 2040.5,389.9 2043.7,390.3 2047.0,390.6 2050.2,391.0 2053.5,391.4 2056.7,391.7 2060.0,392.1 2063.3,392.5 2066.6,392.8 2069.9,393.2 2073.1,393.6 2076.4,393.9 2079.7,394.3 2083.0,394.7 2086.3,395.0 2089.7,395.4 2093.0,395.8 2096.3,396.2 2099.6,396.6 2102.9,396.9 2106.2,397.3 2109.5,397.7 2112.8,398.1 2116.1,398.4 2119.4,398.8 2122.7,399.2 2126.0,399.6 2129.3,400.0 2132.5,400.3 2135.8,400.7 2139.1,401.1 2142.3,401.5 2145.6,401.9 2148.8,402.2 2152.1,402.6 2155.3,403.0 2158.5,403.4 2161.7,403.7 2164.9,404.1 2168.1,404.5 2171.3,404.9 2174.4,405.2 2177.6,405.6 2180.7,406.0 2183.9,406.4 2187.0,406.7 2190.0,407.1 2193.1,407.5 2196.2,407.8 2199.2,408.2 2202.2,408.5 2205.3,408.9 2208.2,409.3 2211.2,409.6 2214.2,410.0 2217.1,410.3 2220.0,410.7 2222.9,411.0 2225.8,411.4 2228.6,411.7 2231.4,412.1 2234.2,412.4 2237.0,412.8 2239.7,413.1 2242.5,413.4 2245.2,413.8 2247.8,414.1 2250.5,414.4 2253.1,414.7 2255.7,415.1 2258.3,415.4 2260.8,415.7 2263.3,416.0 2265.8,416.3 2268.2,416.6 2270.7,416.9 2273.0,417.2 2275.4,417.5 2277.7,417.8 2280.0,418.1 2283.7,418.6 2287.3,419.0 2290.9,419.5 2294.4,419.9 2297.9,420.3 2301.3,420.8 2304.6,421.2 2307.9,421.6 2311.2,422.0 2314.4,422.4 2317.5,422.8 2320.7,423.1 2323.7,423.5 2326.8,423.9 2329.8,424.3 2332.7,424.6 2335.7,425.0 2338.6,425.4 2341.5,425.7 2344.4,426.1 2347.2,426.5 2350.0,426.8 2352.8,427.2 2355.6,427.6 2358.4,428.0 2361.2,428.4 2363.9,428.7 2366.7,429.1 2369.5,429.5 2372.2,430.0 2375.0,430.4 2377.8,430.8 2380.5,431.2 2383.3,431.7 2386.1,432.1 2388.9,432.6 2391.8,433.1 2394.6,433.6 2397.5,434.1 2400.4,434.6 2403.3,435.1 2406.2,435.6 2409.2,436.2 2412.2,436.8 2415.1,437.3 2418.1,437.9 2421.1,438.5 2424.1,439.1 2427.2,439.8 2430.2,440.4 2433.2,441.0 2436.3,441.7 2439.3,442.3 2442.4,443.0 2445.5,443.7 2448.5,444.4 2451.6,445.0 2454.7,445.7 2457.7,446.4 2460.8,447.1 2463.9,447.9 2466.9,448.6 2470.0,449.3 2473.0,450.0 2476.1,450.8 2479.1,451.5 2482.1,452.2 2485.1,453.0 2488.1,453.7 2491.1,454.5 2494.0,455.2 2497.0,456.0 2499.9,456.7 2502.8,457.5 2505.7,458.2 2508.6,459.0 2511.5,459.8 2514.3,460.5 2517.1,461.3 2519.9,462.0 2522.6,462.8 2525.3,463.5 2528.0,464.3 2530.7,465.0 2533.3,465.7 2535.9,466.5 2538.5,467.2 2541.7,468.1 2545.0,469.1 2548.1,470.0 2551.3,470.9 2554.4,471.8 2557.5,472.7 2560.5,473.7 2563.5,474.6 2566.5,475.5 2569.5,476.4 2572.4,477.4 2575.3,478.3 2578.2,479.2 2581.1,480.1 2583.9,481.1 2586.7,482.0 2589.5,483.0 2592.2,484.0 2595.0,484.9 2597.7,485.9 2600.4,486.9 2603.0,487.9 2605.7,488.9 2608.3,489.9 2610.9,490.9 2613.4,492.0 2616.0,493.0 2619.0,494.3 2622.1,495.6 2625.1,496.9 2628.0,498.2 2631.0,499.5 2633.9,500.8 2636.8,502.2 2639.7,503.5 2642.5,504.9 2645.3,506.3 2648.0,507.7 2650.7,509.1 2653.3,510.5 2655.8,511.9 2658.3,513.3 2660.8,514.7 2663.2,516.1 2665.5,517.5 2667.7,518.9 2670.6,520.7 2673.4,522.5 2676.1,524.3 2678.8,526.1 2681.4,527.9 2683.9,529.8 2686.2,531.6 2688.3,533.5 2690.3,535.5 2692.0,537.5 2693.5,539.6 2695.0,542.4 2696.2,545.4 2697.0,548.5 2697.6,551.6 2698.0,554.6 2698.4,557.4 2698.7,560.0 2698.9,563.2 2698.9,566.0 2698.8,570.0 2698.8,571.5 2698.8,573.4 2698.9,575.4 2698.9,577.7 2698.9,580.2 2698.9,582.9 2699.0,585.7 2699.0,588.8 2699.0,592.0 2699.1,595.3 2699.1,598.7 2699.1,602.3 2699.2,605.9 2699.2,609.7 2699.2,613.4 2699.3,617.3 2699.3,621.1 2699.3,625.0 2699.4,628.9 2699.4,632.7 2699.5,636.6 2699.5,640.3 2699.5,644.1 2699.6,647.7 2699.6,651.3 2699.6,654.7 2699.7,658.0 2699.7,661.2 2699.7,664.3 2699.8,667.1 2699.8,669.8 2699.8,672.3 2699.8,674.6 2699.9,676.6 2699.9,678.5 2699.9,680.0 2700.0,684.0 2700.1,686.7 2700.0,690.0 2699.9,692.4 2699.9,695.1 2699.8,698.0 2699.7,701.0 2699.5,704.2 2699.1,707.4 2698.5,710.6 2697.7,713.7 2696.5,716.8 2695.4,719.2 2694.1,721.7 2692.7,724.2 2691.1,726.7 2689.4,729.3 2687.6,731.9 2685.7,734.4 2683.6,736.9 2681.4,739.4 2679.1,741.8 2676.7,744.2 2674.2,746.4 2671.6,748.5 2669.0,750.5 2666.2,752.4 2664.0,753.8 2661.6,755.0 2659.2,756.2 2656.7,757.4 2654.1,758.4 2651.5,759.4 2648.7,760.4 2645.9,761.3 2643.1,762.1 2640.2,762.9 2637.2,763.7 2634.1,764.4 2631.1,765.1 2627.9,765.7 2624.8,766.4 2621.5,767.0 2618.3,767.6 2615.0,768.2 2611.7,768.8 2608.4,769.5 2605.0,770.1 2601.6,770.7 2598.2,771.3 2594.8,772.0 2592.2,772.5 2589.6,773.0 2586.9,773.5 2584.3,774.0 2581.6,774.4 2578.9,774.9 2576.2,775.4 2573.5,775.8 2570.7,776.2 2567.9,776.7 2565.2,777.1 2562.4,777.5 2559.5,777.9 2556.7,778.3 2553.8,778.7 2550.9,779.1 2548.0,779.5 2545.1,779.8 2542.1,780.2 2539.2,780.6 2536.1,780.9 2533.1,781.3 2530.1,781.6 2527.0,781.9 2523.9,782.3 2520.7,782.6 2517.6,782.9 2514.4,783.3 2511.1,783.6 2507.9,783.9 2504.6,784.2 2501.3,784.5 2497.9,784.8 2494.6,785.1 2491.2,785.4 2487.7,785.7 2484.2,786.0 2480.7,786.3 2477.2,786.6 2473.6,786.9 2470.0,787.2 2467.6,787.4 2465.1,787.6 2462.6,787.8 2460.1,788.0 2457.6,788.1 2455.0,788.3 2452.4,788.5 2449.8,788.7 2447.2,788.8 2444.6,789.0 2441.9,789.2 2439.2,789.3 2436.5,789.5 2433.8,789.6 2431.0,789.8 2428.3,789.9 2425.5,790.1 2422.7,790.2 2419.9,790.4 2417.0,790.5 2414.2,790.7 2411.3,790.8 2408.4,790.9 2405.5,791.1 2402.6,791.2 2399.7,791.3 2396.7,791.5 2393.7,791.6 2390.8,791.7 2387.8,791.8 2384.8,792.0 2381.8,792.1 2378.7,792.2 2375.7,792.3 2372.7,792.4 2369.6,792.5 2366.5,792.6 2363.5,792.8 2360.4,792.9 2357.3,793.0 2354.2,793.1 2351.1,793.2 2347.9,793.3 2344.8,793.4 2341.7,793.5 2338.5,793.6 2335.4,793.7 2332.2,793.8 2329.1,793.9 2325.9,794.0 2322.7,794.1 2319.6,794.2 2316.4,794.3 2313.2,794.4 2310.0,794.5 2306.8,794.6 2303.6,794.7 2300.5,794.8 2297.3,794.9 2294.1,795.0 2290.9,795.1 2287.7,795.1 2284.5,795.2 2281.3,795.3 2278.1,795.4 2274.9,795.5 2271.7,795.6 2268.6,795.7 2265.4,795.8 2262.2,795.9 2259.0,796.0 2255.9,796.1 2252.7,796.2 2249.5,796.3 2246.4,796.4 2243.2,796.5 2240.1,796.6 2237.0,796.7 2233.8,796.8 2230.7,796.9 2227.6,797.0 2224.5,797.1 2221.4,797.2 2218.3,797.3 2215.2,797.4 2212.2,797.5 2209.1,797.7 2206.1,797.8 2203.0,797.9 2200.0,798.0 2197.0,798.1 2194.0,798.2 2191.0,798.3 2188.0,798.5 2185.0,798.6 2182.1,798.7 2179.1,798.8 2176.1,798.9 2173.1,799.0 2170.1,799.1 2167.1,799.3 2164.1,799.4 2161.1,799.5 2158.1,799.6 2155.1,799.7 2152.1,799.8 2149.1,799.9 2146.1,800.0 2143.1,800.2 2140.1,800.3 2137.1,800.4 2134.1,800.5 2131.1,800.6 2128.1,800.7 2125.1,800.8 2122.1,800.9 2119.1,801.0 2116.1,801.2 2113.1,801.3 2110.1,801.4 2107.0,801.5 2104.0,801.6 2101.0,801.7 2098.0,801.8 2095.0,801.9 2092.0,802.0 2089.0,802.2 2086.0,802.3 2083.0,802.4 2080.0,802.5 2077.0,802.6 2074.0,802.7 2070.9,802.8 2067.9,802.9 2064.9,803.0 2061.9,803.1 2058.9,803.3 2055.9,803.4 2052.9,803.5 2049.9,803.6 2046.9,803.7 2043.8,803.8 2040.8,803.9 2037.8,804.0 2034.8,804.1 2031.8,804.2 2028.8,804.4 2025.8,804.5 2022.8,804.6 2019.7,804.7 2016.7,804.8 2013.7,804.9 2010.7,805.0 2007.7,805.1 2004.7,805.2 2001.7,805.3 1998.7,805.4 1995.6,805.6 1992.6,805.7 1989.6,805.8 1986.6,805.9 1983.6,806.0 1980.6,806.1 1977.6,806.2 1974.6,806.3 1971.5,806.4 1968.5,806.5 1965.5,806.7 1962.5,806.8 1959.5,806.9 1956.5,807.0 1953.5,807.1 1950.5,807.2 1947.5,807.3 1944.5,807.4 1941.4,807.5 1938.4,807.6 1936.7,807.7"/>
<polygon points="1936.5,803.0 1923.4,808.2 1936.9,812.4"/>
<path d="M1164.0,419.2 1161.0,419.7 1158.1,420.2 1155.1,420.7 1152.1,421.2 1149.1,421.8 1146.0,422.3 1143.0,422.8 1140.0,423.3 1136.9,423.8 1133.8,424.3 1130.8,424.8 1127.7,425.3 1124.6,425.8 1121.5,426.3 1118.4,426.8 1115.3,427.3 1112.2,427.8 1109.1,428.3 1105.9,428.8 1102.8,429.3 1099.7,429.8 1096.5,430.3 1093.4,430.8 1090.2,431.4 1087.1,431.9 1083.9,432.4 1080.8,432.9 1077.6,433.4 1074.5,433.9 1071.3,434.4 1068.1,434.9 1065.0,435.4 1061.8,435.9 1058.7,436.4 1055.5,437.0 1052.3,437.5 1049.2,438.0 1046.0,438.5 1042.9,439.0 1039.7,439.5 1036.6,440.0 1033.5,440.5 1030.3,441.0 1027.2,441.5 1024.1,442.0 1020.9,442.5 1017.8,443.0 1014.7,443.6 1011.6,444.1 1008.5,444.6 1005.4,445.1 1002.4,445.6 999.3,446.1 996.2,446.6 993.2,447.1 990.2,447.6 987.1,448.1 984.1,448.6 981.1,449.1 978.1,449.6 975.1,450.1 972.1,450.6 969.2,451.1 966.2,451.6 963.3,452.1 960.4,452.6 957.5,453.1 954.6,453.6 951.7,454.1 948.8,454.6 946.0,455.1 943.2,455.5 940.4,456.0 937.6,456.5 934.8,457.0 932.0,457.5 929.3,458.0 926.6,458.5 923.9,459.0 921.2,459.4 918.5,459.9 915.9,460.4 913.2,460.9 910.6,461.4 908.1,461.8 905.5,462.3 903.0,462.8 900.5,463.3 898.0,463.8 895.5,464.2 893.1,464.7 890.7,465.2 888.3,465.6 885.9,466.1 882.3,466.8 878.8,467.5 875.3,468.2 871.8,468.9 868.4,469.6 865.0,470.3 861.6,471.0 858.3,471.7 855.0,472.4 851.7,473.1 848.5,473.8 845.2,474.5 842.1,475.2 838.9,475.8 835.8,476.5 832.7,477.2 829.7,477.9 826.6,478.6 823.6,479.2 820.7,479.9 817.7,480.6 814.8,481.3 811.9,481.9 809.0,482.6 806.2,483.3 803.4,484.0 800.6,484.6 797.8,485.3 795.1,486.0 792.3,486.6 789.6,487.3 787.0,488.0 784.3,488.6 781.7,489.3 779.1,490.0 776.5,490.6 773.9,491.3 771.3,492.0 768.8,492.7 766.3,493.3 763.8,494.0 760.5,494.9 757.3,495.8 754.2,496.6 751.2,497.4 748.3,498.3 745.5,499.0 742.7,499.8 740.0,500.6 737.3,501.4 734.6,502.2 732.0,503.0 729.3,503.9 726.7,504.7 724.0,505.6 721.3,506.5 718.5,507.4 715.6,508.4 712.7,509.4 709.7,510.5 706.6,511.6 703.4,512.8 700.0,514.0 697.7,514.9 695.3,515.7 692.9,516.6 690.4,517.5 687.9,518.5 685.3,519.4 682.6,520.4 679.9,521.4 677.2,522.4 674.4,523.4 671.6,524.5 668.7,525.5 665.8,526.6 662.9,527.7 659.9,528.8 656.9,529.9 653.9,531.1 650.9,532.2 647.8,533.4 644.8,534.6 641.7,535.7 638.6,537.0 635.6,538.2 632.5,539.4 629.4,540.6 626.3,541.9 623.2,543.1 620.2,544.4 617.1,545.7 614.1,547.0 611.0,548.3 608.0,549.6 605.1,550.9 602.1,552.2 599.2,553.6 596.3,554.9 593.4,556.3 590.6,557.6 587.8,559.0 585.1,560.3 582.4,561.7 579.7,563.0 577.1,564.4 574.6,565.8 572.1,567.2 569.7,568.6 567.3,569.9 565.0,571.3 562.8,572.7 560.6,574.1 557.7,576.0 555.0,577.9 552.3,579.8 549.7,581.7 547.1,583.6 544.6,585.6 542.2,587.5 539.8,589.4 537.5,591.4 535.2,593.4 533.0,595.4 530.8,597.4 528.6,599.4 526.5,601.4 524.5,603.5 522.4,605.6 520.4,607.7 518.4,609.8 516.4,612.0 514.4,614.2 512.4,616.4 510.4,618.6 508.5,620.9 506.5,623.1 504.5,625.5 502.5,627.8 500.5,630.2 498.6,632.5 496.7,634.8 494.8,637.2 493.0,639.7 491.1,642.2 489.2,644.7 487.4,647.3 485.5,649.9 483.7,652.5 481.9,655.1 480.1,657.8 478.3,660.5 476.5,663.2 474.7,666.0 473.0,668.7 471.3,671.4 469.6,674.2 467.9,676.9 466.2,679.6 464.6,682.3 463.0,685.0 461.4,687.7 459.8,690.4 458.3,693.0 456.8,695.6 455.3,698.2 453.8,700.7 452.4,703.2 451.1,705.7 449.7,708.1 448.4,710.4 446.7,713.4 445.2,716.4 443.6,719.3 442.1,722.2 440.7,725.1 439.3,727.9 438.0,730.7 436.7,733.5 435.4,736.2 434.2,739.0 433.0,741.7 431.8,744.3 430.6,747.0 429.5,749.6 428.3,752.2 427.2,754.8 426.1,757.4 425.0,760.0 423.7,763.0 422.5,765.9 421.3,768.8 420.2,771.6 419.1,774.4 418.0,777.2 416.9,779.9 415.9,782.7 415.3,784.1"/>
<polygon points="411.0,782.4 410.5,796.5 419.7,785.8"/>
<path d="M1205.2,419.8 1041.8,464.9"/>
<polygon points="1040.6,460.4 1029.0,468.5 1043.1,469.4"/>
<path d="M1231.5,419.8 1168.9,461.1"/>
<polygon points="1166.3,457.3 1157.8,468.5 1171.4,465.0"/>
<path d="M1248.5,419.8 1238.7,455.6"/>
<polygon points="1234.2,454.4 1235.2,468.5 1243.3,456.9"/>
<path d="M1266.5,419.8 1268.9,422.0 1271.2,424.2 1273.5,426.4 1275.9,428.6 1278.2,430.8 1280.6,433.0 1283.0,435.3 1285.5,437.6 1288.0,440.0 1290.1,442.0 1292.3,444.1 1294.6,446.2 1296.9,448.4 1299.2,450.6 1301.5,452.8 1303.9,455.1 1306.2,457.3 1308.3,459.3"/>
<polygon points="1305.1,462.7 1318.0,468.5 1311.6,455.9"/>
<path d="M1348.0,416.5 1351.0,416.8 1354.0,417.1 1357.0,417.4 1360.0,417.7 1363.0,418.0 1366.0,418.3 1369.0,418.6 1372.0,418.9 1375.0,419.2 1378.0,419.4 1381.0,419.7 1384.0,420.0 1387.0,420.3 1390.0,420.6 1393.0,420.9 1396.0,421.2 1399.0,421.5 1402.0,421.8 1405.0,422.1 1408.0,422.4 1411.0,422.7 1414.0,423.0 1417.0,423.3 1420.0,423.6 1423.0,423.8 1425.9,424.1 1428.9,424.4 1431.9,424.7 1434.9,425.0 1437.9,425.3 1440.9,425.6 1443.9,425.9 1446.9,426.2 1449.9,426.5 1452.9,426.8 1455.8,427.1 1458.8,427.4 1461.8,427.7 1464.8,428.0 1467.8,428.2 1470.8,428.5 1473.8,428.8 1476.8,429.1 1479.8,429.4 1482.8,429.7 1485.8,430.0 1488.8,430.3 1491.8,430.6 1494.8,430.9 1497.8,431.2 1500.8,431.5 1503.8,431.8 1506.8,432.1 1509.8,432.4 1512.8,432.7 1515.8,433.0 1518.8,433.2 1521.8,433.5 1524.8,433.8 1527.8,434.1 1530.9,434.4 1533.9,434.7 1536.9,435.0 1539.9,435.3 1542.9,435.6 1546.0,435.9 1549.0,436.2 1552.0,436.5 1555.0,436.8 1558.1,437.1 1561.1,437.4 1564.1,437.7 1567.2,438.0 1570.2,438.3 1573.2,438.6 1576.3,438.9 1579.3,439.2 1582.4,439.5 1585.4,439.8 1588.5,440.1 1591.5,440.4 1594.6,440.7 1597.7,441.0 1600.7,441.3 1603.8,441.6 1606.9,441.9 1609.9,442.2 1613.0,442.5 1615.9,442.8 1618.9,443.1 1621.8,443.4 1624.8,443.7 1627.7,444.0 1630.7,444.2 1633.7,444.5 1636.6,444.8 1639.6,445.1 1642.6,445.4 1645.5,445.7 1648.5,446.0 1651.5,446.3 1654.5,446.6 1657.4,446.9 1660.4,447.2 1663.4,447.5 1666.4,447.8 1669.4,448.1 1672.3,448.3 1675.3,448.6 1678.3,448.9 1681.3,449.2 1684.3,449.5 1687.3,449.8 1690.3,450.1 1693.3,450.4 1696.3,450.7 1699.3,451.0 1702.3,451.3 1705.3,451.6 1708.3,451.9 1711.3,452.2 1714.4,452.5 1717.4,452.8 1720.4,453.1 1723.4,453.4 1726.4,453.7 1729.4,454.0 1732.4,454.3 1735.5,454.6 1738.5,454.9 1741.5,455.2 1744.5,455.5 1747.5,455.8 1750.6,456.1 1753.6,456.4 1756.6,456.7 1759.6,457.0 1762.7,457.3 1765.7,457.6 1768.7,457.9 1771.7,458.2 1774.8,458.5 1777.8,458.8 1780.8,459.1 1783.8,459.4 1786.9,459.7 1789.9,460.0 1792.9,460.3 1796.0,460.6 1799.0,460.9 1802.0,461.1 1805.0,461.4 1808.1,461.7 1811.1,462.0 1814.1,462.3 1817.2,462.6 1820.2,462.9 1823.2,463.2 1826.2,463.5 1829.3,463.8 1832.3,464.1 1835.3,464.4 1838.4,464.7 1841.4,465.0 1844.4,465.3 1847.4,465.6 1850.5,465.9 1853.5,466.2 1856.5,466.5 1859.5,466.8 1862.6,467.1 1865.6,467.4 1868.6,467.7 1871.6,468.0 1874.6,468.3 1877.6,468.6 1880.7,468.9 1883.7,469.2 1886.7,469.5 1888.5,469.7"/>
<polygon points="1888.0,474.3 1901.8,471.0 1888.9,465.0"/>
<path d="M1348.0,409.0 1351.0,409.1 1354.0,409.3 1357.0,409.4 1359.9,409.5 1362.9,409.7 1365.9,409.8 1368.9,409.9 1371.8,410.0 1374.8,410.2 1377.7,410.3 1380.7,410.4 1383.6,410.5 1386.5,410.6 1389.5,410.8 1392.4,410.9 1395.3,411.0 1398.2,411.1 1401.2,411.2 1404.1,411.4 1407.0,411.5 1409.9,411.6 1412.8,411.7 1415.7,411.8 1418.7,411.9 1421.6,412.0 1424.5,412.2 1427.4,412.3 1430.3,412.4 1433.2,412.5 1436.1,412.6 1439.0,412.7 1441.9,412.8 1444.9,413.0 1447.8,413.1 1450.7,413.2 1453.6,413.3 1456.5,413.4 1459.5,413.5 1462.4,413.7 1465.3,413.8 1468.3,413.9 1471.2,414.0 1474.1,414.2 1477.1,414.3 1480.0,414.4 1483.0,414.5 1485.9,414.6 1488.9,414.8 1491.9,414.9 1494.9,415.0 1497.8,415.2 1500.8,415.3 1503.8,415.4 1506.8,415.6 1509.8,415.7 1512.9,415.8 1515.9,416.0 1518.9,416.1 1521.9,416.3 1525.0,416.4 1528.0,416.5 1531.1,416.7 1534.2,416.8 1537.3,417.0 1540.3,417.2 1543.4,417.3 1546.6,417.5 1549.7,417.6 1552.8,417.8 1555.9,418.0 1559.1,418.1 1562.3,418.3 1565.4,418.5 1568.6,418.6 1571.8,418.8 1575.0,419.0 1578.3,419.2 1581.5,419.4 1584.7,419.6 1588.0,419.8 1590.8,419.9 1593.5,420.1 1596.3,420.2 1599.1,420.4 1601.9,420.6 1604.7,420.7 1607.5,420.9 1610.3,421.1 1613.1,421.2 1615.9,421.4 1618.8,421.6 1621.6,421.7 1624.5,421.9 1627.3,422.1 1630.2,422.2 1633.1,422.4 1636.0,422.6 1638.9,422.7 1641.8,422.9 1644.7,423.1 1647.6,423.2 1650.5,423.4 1653.4,423.6 1656.4,423.7 1659.3,423.9 1662.3,424.1 1665.2,424.3 1668.2,424.4 1671.1,424.6 1674.1,424.8 1677.1,425.0 1680.1,425.2 1683.1,425.3 1686.1,425.5 1689.1,425.7 1692.1,425.9 1695.1,426.1 1698.1,426.3 1701.1,426.4 1704.1,426.6 1707.2,426.8 1710.2,427.0 1713.2,427.2 1716.3,427.4 1719.3,427.6 1722.4,427.8 1725.4,428.0 1728.5,428.2 1731.5,428.4 1734.6,428.6 1737.7,428.8 1740.7,429.0 1743.8,429.2 1746.9,429.4 1750.0,429.6 1753.0,429.8 1756.1,430.0 1759.2,430.2 1762.3,430.4 1765.4,430.6 1768.5,430.8 1771.6,431.1 1774.7,431.3 1777.8,431.5 1780.9,431.7 1784.0,431.9 1787.1,432.2 1790.2,432.4 1793.3,432.6 1796.4,432.8 1799.5,433.1 1802.6,433.3 1805.7,433.5 1808.8,433.8 1811.9,434.0 1815.0,434.3 1818.1,434.5 1821.2,434.7 1824.3,435.0 1827.4,435.2 1830.5,435.5 1833.6,435.7 1836.8,436.0 1839.9,436.2 1843.0,436.5 1846.1,436.8 1849.2,437.0 1852.3,437.3 1855.4,437.6 1858.5,437.8 1861.6,438.1 1864.6,438.4 1867.7,438.6 1870.8,438.9 1873.9,439.2 1877.0,439.5 1880.1,439.8 1883.2,440.1 1886.2,440.3 1889.3,440.6 1892.4,440.9 1895.5,441.2 1898.5,441.5 1901.6,441.8 1904.6,442.1 1907.7,442.4 1910.8,442.8 1913.8,443.1 1916.8,443.4 1919.9,443.7 1922.9,444.0 1926.0,444.3 1929.0,444.7 1932.0,445.0 1935.0,445.3 1938.0,445.7 1941.0,446.0 1944.0,446.3 1947.0,446.7 1950.0,447.0 1953.1,447.4 1956.1,447.7 1959.2,448.1 1962.3,448.4 1965.4,448.8 1968.5,449.1 1971.6,449.5 1974.7,449.9 1977.8,450.2 1980.9,450.6 1984.1,451.0 1987.2,451.3 1990.4,451.7 1993.5,452.1 1996.7,452.5 1999.9,452.9 2003.0,453.3 2006.2,453.7 2009.4,454.1 2012.6,454.5 2015.8,454.9 2019.0,455.3 2022.2,455.7 2025.4,456.1 2028.6,456.5 2031.8,456.9 2035.0,457.3 2038.2,457.7 2041.4,458.1 2044.6,458.5 2047.9,459.0 2051.1,459.4 2054.3,459.8 2057.5,460.2 2060.7,460.7 2063.9,461.1 2067.2,461.5 2070.4,462.0 2073.6,462.4 2076.8,462.8 2080.0,463.3 2083.2,463.7 2086.4,464.2 2089.6,464.6 2092.8,465.0 2096.0,465.5 2099.2,465.9 2102.4,466.4 2105.6,466.8 2108.7,467.3 2111.9,467.7 2115.1,468.2 2118.2,468.6 2121.4,469.1 2124.5,469.6 2127.7,470.0 2130.8,470.5 2133.9,470.9 2137.0,471.4 2140.1,471.9 2143.2,472.3 2146.3,472.8 2149.4,473.2 2152.5,473.7 2155.5,474.2 2158.6,474.6 2161.6,475.1 2164.7,475.6 2167.7,476.0 2170.7,476.5 2173.7,477.0 2176.7,477.4 2179.6,477.9 2182.6,478.4 2185.5,478.8 2188.5,479.3 2191.4,479.8 2194.3,480.3 2197.2,480.7 2200.0,481.2 2202.9,481.7 2205.7,482.1 2208.6,482.6 2211.4,483.1 2214.2,483.5 2216.9,484.0 2219.7,484.5 2222.4,485.0 2225.2,485.4 2227.9,485.9 2230.6,486.4 2233.2,486.8 2235.9,487.3 2238.5,487.8 2241.1,488.2 2243.7,488.7 2246.3,489.2 2248.8,489.6 2251.4,490.1 2253.9,490.6 2256.4,491.0 2258.8,491.5 2261.3,491.9 2263.7,492.4 2266.1,492.9 2268.5,493.3 2270.8,493.8 2273.2,494.2 2275.5,494.7 2277.7,495.1 2280.0,495.6 2283.6,496.3 2287.2,497.1 2290.7,497.8 2294.2,498.6 2297.6,499.3 2300.9,500.0 2304.2,500.8 2307.5,501.5 2310.6,502.3 2313.8,503.0 2316.9,503.8 2319.9,504.5 2323.0,505.2 2325.9,506.0 2328.9,506.7 2331.8,507.5 2334.7,508.2 2337.5,509.0 2340.4,509.7 2343.2,510.5 2345.9,511.2 2348.7,512.0 2351.4,512.7 2354.2,513.5 2356.9,514.2 2359.6,515.0 2362.3,515.8 2365.0,516.5 2367.7,517.3 2370.4,518.1 2373.1,518.9 2375.8,519.6 2378.5,520.4 2381.2,521.2 2383.9,522.0 2386.6,522.8 2389.4,523.6 2392.1,524.4 2394.9,525.1 2397.7,526.0 2400.5,526.8 2403.4,527.6 2406.3,528.4 2409.2,529.2 2412.2,530.0 2415.1,530.8 2418.1,531.6 2421.1,532.4 2424.2,533.2 2427.2,534.0 2430.3,534.8 2433.3,535.6 2436.4,536.4 2439.5,537.1 2442.6,537.9 2445.7,538.7 2448.8,539.5 2451.9,540.2 2455.0,541.0 2458.1,541.8 2461.2,542.6 2464.3,543.4 2467.4,544.2 2470.5,545.0 2473.5,545.8 2476.6,546.6 2479.6,547.4 2482.7,548.2 2485.7,549.1 2488.7,549.9 2491.7,550.8 2494.7,551.7 2497.6,552.6 2500.6,553.5 2503.5,554.4 2506.4,555.3 2509.2,556.3 2512.1,557.2 2514.9,558.2 2517.6,559.2 2520.4,560.2 2523.1,561.3 2525.7,562.3 2528.4,563.4 2531.0,564.5 2533.5,565.7 2536.0,566.8 2538.5,568.0 2541.4,569.5 2544.2,570.9 2547.0,572.5 2549.8,574.1 2552.4,575.7 2555.1,577.3 2557.7,579.0 2560.2,580.7 2562.8,582.4 2565.2,584.2 2567.7,586.0 2570.1,587.8 2572.5,589.6 2574.9,591.4 2577.2,593.2 2579.5,595.0 2581.9,596.9 2584.2,598.7 2586.5,600.6 2588.8,602.4 2591.0,604.2 2593.3,606.1 2595.6,607.9 2597.9,609.7 2600.2,611.4 2602.6,613.2 2604.9,614.9 2607.2,616.7 2609.6,618.3 2612.0,620.0 2614.6,621.8 2617.3,623.6 2620.1,625.3 2622.9,627.1 2625.7,628.8 2628.5,630.6 2631.3,632.3 2634.2,634.0 2637.0,635.8 2639.8,637.5 2642.7,639.2 2645.5,640.9 2648.3,642.6 2651.0,644.3 2653.7,646.0 2656.4,647.6 2659.0,649.3 2661.5,651.0 2664.0,652.6 2666.4,654.3 2668.8,655.9 2671.0,657.5 2673.2,659.2 2675.2,660.8 2677.2,662.4 2679.0,664.0 2681.6,666.4 2684.1,668.8 2686.4,671.1 2688.5,673.4 2690.5,675.7 2692.4,678.0 2694.1,680.4 2695.7,682.7 2697.3,685.1 2698.7,687.5 2700.0,690.0 2701.4,692.8 2702.7,695.7 2703.9,698.6 2705.0,701.5 2705.8,704.5 2706.5,707.5 2707.0,710.6 2707.2,713.7 2707.2,716.8 2707.0,719.6 2706.5,722.6 2706.0,725.6 2705.2,728.7 2704.3,731.8 2703.2,735.0 2701.9,738.1 2700.5,741.1 2698.9,744.1 2697.1,747.0 2695.1,749.8 2693.0,752.4 2691.2,754.3 2689.3,756.2 2687.3,758.0 2685.1,759.7 2682.8,761.5 2680.4,763.2 2677.9,764.8 2675.3,766.4 2672.6,767.9 2669.8,769.5 2666.9,770.9 2664.0,772.4 2661.1,773.8 2658.0,775.2 2655.0,776.5 2651.9,777.8 2648.8,779.1 2645.7,780.3 2642.5,781.5 2639.4,782.7 2636.8,783.6 2634.2,784.5 2631.5,785.4 2628.8,786.2 2626.0,787.0 2623.1,787.8 2620.2,788.5 2617.3,789.3 2614.3,790.0 2611.3,790.6 2608.3,791.3 2605.2,791.9 2602.1,792.5 2599.0,793.1 2595.9,793.7 2592.8,794.2 2589.7,794.8 2586.5,795.3 2583.4,795.8 2580.3,796.3 2577.2,796.7 2574.1,797.2 2571.0,797.6 2568.0,798.1 2564.9,798.5 2561.9,799.0 2559.0,799.4 2556.0,799.8 2553.1,800.2 2550.3,800.6 2547.1,801.1 2543.8,801.5 2540.6,801.9 2537.5,802.2 2534.3,802.6 2531.2,802.9 2528.0,803.2 2524.9,803.4 2521.8,803.7 2518.8,803.9 2515.7,804.2 2512.6,804.4 2509.6,804.6 2506.5,804.8 2503.4,805.0 2500.4,805.2 2497.3,805.4 2494.3,805.6 2492.2,805.8"/>
<polygon points="2491.8,801.1 2478.9,806.8 2492.6,810.4"/>
<path d="M211.2,494.8 212.3,497.6 213.4,500.5 214.5,503.4 215.6,506.3 216.6,509.2 217.7,512.1 218.8,515.0 219.8,517.9 220.8,520.8 221.9,523.7 222.9,526.6 224.0,529.5 225.1,532.4 226.1,535.3 227.2,538.2 228.3,541.1 229.4,544.0 230.5,546.9 231.6,549.8 232.7,552.7 233.9,555.6 235.1,558.5 236.3,561.4 237.5,564.3 238.7,567.2 240.0,570.1 241.2,572.9 242.4,575.6 243.7,578.4 244.9,581.2 246.2,584.0 247.5,586.8 248.8,589.6 250.1,592.4 251.4,595.3 252.7,598.1 254.0,600.9 255.4,603.7 256.7,606.5 258.1,609.4 259.5,612.2 260.9,615.0 262.3,617.8 263.7,620.6 265.1,623.3 266.6,626.1 268.0,628.9 269.5,631.6 271.0,634.3 272.5,637.0 274.0,639.7 275.5,642.4 277.0,645.1 278.6,647.7 280.1,650.3 281.7,653.0 283.4,655.7 285.1,658.3 286.8,661.0 288.5,663.6 290.2,666.2 292.0,668.9 293.8,671.5 295.6,674.0 297.4,676.6 299.2,679.2 301.0,681.7 302.8,684.3 304.7,686.8 306.5,689.3 308.4,691.8 310.2,694.3 312.1,696.8 313.9,699.2 315.7,701.7 317.5,704.1 319.4,706.5 321.2,708.9 322.9,711.3 324.7,713.7 326.5,716.1 328.2,718.4 330.2,721.1 332.2,723.7 334.2,726.4 336.2,729.1 338.2,731.7 340.2,734.4 342.2,737.0 344.2,739.6 346.2,742.2 348.1,744.8 350.1,747.3 352.0,749.8 354.0,752.3 355.9,754.7 357.8,757.1 359.6,759.5 361.4,761.8 363.2,764.0 364.9,766.2 366.6,768.3 368.3,770.4 370.5,773.1 372.6,775.7 374.6,778.2 376.6,780.6 378.6,782.9 380.5,785.2 381.4,786.3"/>
<polygon points="377.8,789.3 390.0,796.5 385.0,783.3"/>
<path d="M320.0,492.2 323.0,492.5 326.0,492.8 329.0,493.1 332.0,493.4 335.0,493.7 338.1,494.0 341.1,494.3 344.1,494.6 347.1,494.8 350.2,495.1 353.2,495.4 356.2,495.7 359.3,496.0 362.3,496.3 365.3,496.6 368.4,496.9 371.4,497.2 374.5,497.5 377.5,497.8 380.6,498.1 383.6,498.4 386.7,498.6 389.7,498.9 392.8,499.2 395.9,499.5 398.9,499.8 402.0,500.1 405.0,500.4 408.1,500.7 411.2,501.0 414.2,501.3 417.3,501.6 420.4,501.9 423.4,502.2 426.5,502.5 429.6,502.8 432.6,503.1 435.7,503.4 438.7,503.6 441.8,503.9 444.9,504.2 447.9,504.5 451.0,504.8 454.1,505.1 457.1,505.4 460.2,505.7 463.2,506.0 466.3,506.3 469.4,506.6 472.4,506.9 475.5,507.2 478.5,507.5 481.6,507.8 484.6,508.1 487.7,508.3 490.7,508.6 493.8,508.9 496.8,509.2 499.8,509.5 502.9,509.8 505.9,510.1 508.9,510.4 512.0,510.7 515.0,511.0 518.0,511.3 521.0,511.5 524.1,511.8 527.1,512.1 530.1,512.4 533.1,512.7 536.1,513.0 539.1,513.3 542.1,513.6 545.1,513.8 548.1,514.1 551.1,514.4 554.1,514.7 557.0,515.0 560.0,515.3 563.0,515.6 565.9,515.8 568.9,516.1 571.9,516.4 574.8,516.7 577.8,517.0 580.7,517.2 583.6,517.5 586.6,517.8 589.5,518.1 592.4,518.4 595.3,518.6 598.3,518.9 601.2,519.2 604.1,519.5 607.0,519.7 609.8,520.0 612.7,520.3 615.6,520.6 618.5,520.8 621.3,521.1 624.2,521.4 627.0,521.6 629.9,521.9 632.7,522.2 635.6,522.5 638.4,522.7 641.2,523.0 644.0,523.2 647.2,523.6 650.4,523.9 653.6,524.2 656.8,524.5 659.9,524.7 663.1,525.0 666.2,525.3 669.4,525.6 672.5,525.9 675.6,526.2 678.7,526.5 681.9,526.8 685.0,527.1 688.1,527.4 691.1,527.7 694.2,528.0 697.3,528.3 700.4,528.5 703.4,528.8 706.5,529.1 709.5,529.4 712.6,529.7 715.6,530.0 718.7,530.2 721.7,530.5 724.7,530.8 727.7,531.1 730.7,531.4 733.7,531.6 736.7,531.9 739.7,532.2 742.7,532.5 745.7,532.8 748.7,533.0 751.7,533.3 754.7,533.6 757.7,533.9 760.6,534.1 763.6,534.4 766.6,534.7 769.5,535.0 772.5,535.2 775.5,535.5 778.4,535.8 781.4,536.1 784.3,536.3 787.3,536.6 790.2,536.9 793.2,537.2 796.1,537.4 799.1,537.7 802.0,538.0 805.0,538.3 807.9,538.5 810.9,538.8 813.8,539.1 816.8,539.3 819.7,539.6 822.7,539.9 825.6,540.2 828.6,540.4 831.5,540.7 834.5,541.0 837.4,541.3 840.4,541.5 843.3,541.8 846.3,542.1 849.3,542.3 852.2,542.6 855.2,542.9 858.1,543.2 861.1,543.4 864.1,543.7 867.1,544.0 870.0,544.3 873.0,544.6 876.0,544.8 879.0,545.1 880.7,545.3"/>
<polygon points="880.3,549.9 894.0,546.5 881.2,540.6"/>
<path d="M919.0,494.2 916.1,494.9 913.1,495.6 910.2,496.3 907.3,497.0 904.3,497.7 901.3,498.4 898.4,499.0 895.4,499.7 892.5,500.4 889.5,501.0 886.5,501.7 883.5,502.4 880.6,503.0 877.6,503.7 874.6,504.3 871.6,505.0 868.6,505.6 865.6,506.3 862.6,506.9 859.6,507.6 856.6,508.3 853.7,508.9 850.7,509.6 847.7,510.2 844.7,510.9 841.7,511.5 838.7,512.2 835.7,512.8 832.7,513.5 829.7,514.1 826.8,514.8 823.8,515.5 820.8,516.1 817.8,516.8 814.9,517.5 811.9,518.1 808.9,518.8 806.0,519.5 803.0,520.1 800.1,520.8 797.1,521.5 794.2,522.2 791.3,522.9 788.4,523.6 785.4,524.3 782.5,525.0 779.6,525.7 776.7,526.4 773.8,527.1 771.0,527.8 768.1,528.6 765.2,529.3 762.4,530.0 759.5,530.8 756.7,531.5 753.9,532.3 751.0,533.1 748.2,533.8 745.4,534.6 742.7,535.4 739.9,536.2 737.1,537.0 734.4,537.8 731.6,538.6 728.9,539.4 725.8,540.3 722.8,541.3 719.7,542.2 716.6,543.2 713.5,544.1 710.4,545.1 707.3,546.1 704.2,547.1 701.1,548.0 698.1,549.0 695.0,550.0 691.9,551.1 688.8,552.1 685.7,553.1 682.6,554.1 679.5,555.2 676.5,556.2 673.4,557.2 670.3,558.3 667.3,559.3 664.3,560.4 661.3,561.5 658.2,562.5 655.2,563.6 652.3,564.7 649.3,565.7 646.3,566.8 643.4,567.9 640.5,569.0 637.6,570.1 634.7,571.2 631.9,572.2 629.0,573.3 626.2,574.4 623.4,575.5 620.7,576.6 617.9,577.7 615.2,578.8 612.6,579.9 609.9,581.0 607.3,582.1 604.7,583.2 602.1,584.3 599.6,585.4 597.1,586.5 594.6,587.6 592.2,588.7 589.8,589.8 587.4,590.9 585.1,592.0 582.8,593.1 580.6,594.2 577.4,595.8 574.2,597.3 571.1,598.8 568.0,600.4 564.9,601.9 561.8,603.4 558.8,604.9 555.8,606.4 552.9,607.9 550.0,609.5 547.2,611.0 544.5,612.5 541.8,614.1 539.2,615.6 536.7,617.2 534.2,618.8 531.8,620.4 529.6,622.0 527.4,623.7 525.3,625.4 523.3,627.1 521.4,628.8 519.7,630.6 518.0,632.4 516.5,634.2 514.5,637.0 512.9,639.8 511.5,642.6 510.4,645.5 509.4,648.4 508.7,651.4 508.0,654.4 507.3,657.5 506.7,660.6 506.1,663.8 505.4,667.0 504.5,670.3 503.8,673.1 503.1,676.0 502.5,679.0 501.9,682.1 501.3,685.2 500.8,688.4 500.3,691.6 499.7,694.8 499.2,698.0 498.6,701.2 498.0,704.4 497.3,707.5 496.5,710.6 495.7,713.7 494.7,716.7 493.7,719.6 492.5,722.4 491.2,725.2 489.8,727.9 488.4,730.6 486.8,733.2 485.2,735.8 483.6,738.4 481.8,740.9 480.0,743.4 478.2,745.9 476.3,748.3 474.4,750.7 472.5,753.1 470.5,755.4 468.5,757.8 466.4,760.1 464.4,762.4 462.4,764.6 460.3,766.7 458.2,768.8 456.0,770.9 453.8,772.9 451.5,775.0 449.2,776.9 446.9,778.9 444.6,780.9 442.2,782.8 439.9,784.7 437.5,786.7 436.1,787.9"/>
<polygon points="433.0,784.3 425.9,796.5 439.1,791.4"/>
<path d="M983.5,494.2 983.5,497.4 983.5,500.5 983.5,504.2 983.5,506.9 983.5,509.9 983.5,513.3 983.5,516.8 983.5,520.4 983.5,524.0 983.5,527.3 983.5,529.7"/>
<polygon points="978.8,529.7 983.5,543.0 988.2,529.7"/>
<path d="M1032.8,494.2 1217.3,542.2"/>
<polygon points="1216.2,546.7 1230.2,545.5 1218.5,537.6"/>
<path d="M1945.8,493.8 1942.6,494.5 1939.6,495.2 1936.3,496.0 1932.0,497.2 1930.4,497.8 1928.5,498.3 1926.5,499.0 1924.3,499.6 1921.9,500.4 1919.4,501.1 1916.7,501.9 1913.9,502.8 1910.9,503.7 1907.9,504.7 1904.8,505.6 1901.5,506.7 1898.2,507.7 1894.9,508.8 1891.5,509.9 1888.0,511.0 1884.6,512.2 1881.1,513.4 1877.6,514.6 1874.2,515.8 1870.8,517.0 1867.4,518.3 1864.0,519.5 1860.7,520.8 1857.5,522.1 1854.4,523.4 1851.4,524.7 1848.4,525.9 1845.6,527.2 1843.0,528.5 1840.5,529.8 1838.1,531.1 1835.9,532.3 1833.9,533.6 1832.1,534.8 1830.5,536.0 1827.7,538.5 1825.4,540.9 1823.4,543.5 1821.8,546.0 1820.3,548.6 1819.1,551.2 1817.9,553.8 1816.7,556.4 1815.5,559.0 1814.2,561.9 1813.0,564.7 1812.0,567.5 1811.0,570.3 1810.1,573.3 1809.2,576.5 1808.2,580.0 1807.5,582.5 1806.7,585.2 1805.9,588.0 1805.1,591.0 1804.2,594.0 1803.4,597.2 1802.6,600.4 1801.7,603.7 1800.9,607.0 1800.1,610.3 1799.4,613.5 1798.7,616.7 1798.1,619.9 1797.5,622.9 1797.0,625.8 1796.6,628.5 1796.2,632.1 1795.9,635.7 1795.7,639.2 1795.6,642.7 1795.5,646.0 1795.5,649.2 1795.5,652.2 1795.6,655.0 1795.6,657.5 1795.7,661.0 1795.9,663.9 1796.1,667.5 1796.2,669.8 1796.4,672.5 1796.5,675.5 1796.7,678.7 1796.9,682.1 1797.1,685.6 1797.2,689.1 1797.4,692.5 1797.6,695.7 1797.7,698.7 1797.8,700.4"/>
<polygon points="1793.1,700.6 1798.5,713.7 1802.5,700.1"/>
<path d="M1977.0,493.8 1974.3,495.2 1971.7,496.7 1969.0,498.1 1966.4,499.6 1963.7,501.0 1961.0,502.5 1958.4,503.9 1955.7,505.4 1953.0,506.9 1950.4,508.3 1947.7,509.8 1945.1,511.2 1942.4,512.7 1939.8,514.1 1937.2,515.6 1934.6,517.0 1932.0,518.5 1929.2,520.1 1926.4,521.7 1923.6,523.3 1920.8,524.8 1918.0,526.4 1915.3,528.0 1912.5,529.6 1909.8,531.2 1907.0,532.8 1904.3,534.3 1902.1,535.6"/>
<polygon points="1899.7,531.6 1890.5,542.2 1904.4,539.7"/>
<path d="M1989.5,493.8 1960.1,531.9"/>
<polygon points="1956.4,529.1 1952.0,542.5 1963.8,534.8"/>
<path d="M1997.0,493.8 1996.0,496.7 1995.1,499.6 1994.1,502.6 1993.1,505.7 1992.1,508.8 1991.1,511.9 1990.1,515.0 1989.0,518.2 1988.0,521.3 1987.0,524.5 1986.0,527.7 1984.9,530.8 1983.9,534.0 1982.9,537.1 1981.9,540.2 1980.9,543.2 1979.9,546.3 1978.9,549.3 1978.0,552.2 1977.0,555.1 1976.1,557.9 1975.2,560.6 1974.3,563.3 1973.4,565.9 1972.6,568.4 1971.8,570.8 1971.0,573.2 1970.2,575.4 1969.5,577.5 1968.3,581.0 1967.2,584.2 1966.2,587.2 1965.2,589.9 1964.3,592.6 1963.3,595.2 1962.3,597.8 1961.2,600.5 1960.0,603.3 1958.8,605.9 1957.6,608.4 1956.3,610.9 1955.1,613.4 1953.7,615.9 1952.3,618.4 1950.9,621.1 1949.4,623.8 1947.8,626.7 1946.2,629.7 1944.5,633.0 1943.4,635.1 1942.3,637.2 1941.2,639.5 1940.0,641.8 1938.8,644.2 1937.5,646.6 1936.2,649.1 1934.9,651.7 1933.6,654.3 1932.2,657.0 1930.8,659.7 1929.4,662.4 1928.0,665.2 1926.5,668.0 1925.1,670.9 1923.6,673.7 1922.1,676.6 1920.7,679.5 1919.2,682.4 1917.7,685.3 1916.2,688.2 1914.7,691.1 1913.2,694.0 1911.8,696.9 1910.3,699.8 1909.3,701.8"/>
<polygon points="1905.1,699.7 1903.2,713.7 1913.4,704.0"/>
<path d="M2029.5,493.8 2133.5,537.3"/>
<polygon points="2131.7,541.7 2145.8,542.5 2135.3,533.0"/>
<path d="M2097.5,493.8 2100.4,494.5 2103.3,495.3 2106.3,496.1 2109.2,496.8 2112.2,497.6 2115.2,498.4 2118.2,499.1 2121.2,499.9 2124.2,500.6 2127.2,501.3 2130.2,502.1 2133.3,502.8 2136.3,503.5 2139.4,504.2 2142.4,505.0 2145.5,505.7 2148.6,506.4 2151.7,507.1 2154.7,507.8 2157.8,508.5 2160.9,509.3 2164.0,510.0 2167.1,510.7 2170.1,511.4 2173.2,512.1 2176.3,512.8 2179.4,513.5 2182.4,514.3 2185.5,515.0 2188.5,515.7 2191.6,516.4 2194.6,517.2 2197.6,517.9 2200.6,518.7 2203.6,519.4 2206.6,520.1 2209.6,520.9 2212.6,521.7 2215.5,522.4 2218.5,523.2 2221.4,524.0 2224.3,524.8 2227.2,525.6 2230.1,526.4 2232.9,527.2 2235.7,528.0 2238.5,528.8 2241.3,529.6 2244.1,530.5 2246.8,531.3 2249.6,532.2 2252.3,533.1 2254.9,533.9 2257.6,534.8 2260.2,535.7 2262.8,536.6 2265.3,537.6 2267.8,538.5 2270.3,539.5 2272.8,540.4 2275.2,541.4 2277.6,542.4 2280.0,543.4 2283.2,544.8 2286.3,546.2 2289.4,547.7 2292.5,549.2 2295.6,550.7 2298.7,552.3 2301.7,553.9 2304.7,555.5 2307.6,557.1 2310.6,558.8 2313.5,560.5 2316.3,562.1 2319.2,563.8 2322.0,565.5 2324.7,567.3 2327.5,569.0 2330.2,570.7 2332.8,572.4 2335.5,574.2 2338.0,575.9 2340.6,577.6 2343.1,579.3 2345.6,581.0 2348.0,582.7 2350.4,584.3 2352.7,586.0 2355.0,587.6 2357.3,589.2 2359.5,590.7 2361.7,592.3 2363.8,593.8 2365.9,595.3 2367.9,596.7 2369.9,598.1 2371.8,599.5 2374.8,601.7 2377.7,603.8 2380.3,605.8 2382.9,607.8 2385.3,609.8 2387.6,611.7 2389.8,613.6 2392.0,615.5 2393.1,616.4"/>
<polygon points="2390.1,620.0 2403.2,625.0 2396.1,612.8"/>
<path d="M2097.5,492.5 2100.5,493.1 2103.5,493.7 2106.5,494.2 2109.6,494.8 2112.6,495.4 2115.7,496.0 2118.7,496.6 2121.8,497.2 2124.9,497.8 2128.0,498.3 2131.1,498.9 2134.2,499.5 2137.3,500.1 2140.4,500.7 2143.6,501.3 2146.7,501.9 2149.8,502.5 2153.0,503.0 2156.1,503.6 2159.2,504.2 2162.4,504.8 2165.5,505.4 2168.6,506.0 2171.7,506.6 2174.9,507.2 2178.0,507.8 2181.1,508.3 2184.2,508.9 2187.4,509.5 2190.5,510.1 2193.6,510.7 2196.6,511.3 2199.7,511.9 2202.8,512.5 2205.9,513.0 2208.9,513.6 2212.0,514.2 2215.0,514.8 2218.0,515.4 2221.0,516.0 2224.0,516.5 2227.0,517.1 2230.0,517.7 2232.9,518.3 2235.8,518.8 2238.8,519.4 2241.7,520.0 2244.5,520.6 2247.4,521.1 2250.2,521.7 2253.1,522.3 2255.9,522.9 2258.6,523.4 2261.4,524.0 2264.1,524.5 2266.8,525.1 2269.5,525.7 2272.2,526.2 2274.8,526.8 2277.4,527.3 2280.0,527.9 2283.4,528.6 2286.7,529.3 2290.0,530.0 2293.2,530.7 2296.4,531.3 2299.6,531.9 2302.8,532.6 2305.9,533.2 2309.0,533.8 2312.1,534.4 2315.1,534.9 2318.2,535.5 2321.1,536.1 2324.1,536.7 2327.1,537.3 2330.0,537.9 2332.9,538.5 2335.8,539.1 2338.7,539.7 2341.5,540.4 2344.4,541.0 2347.2,541.7 2350.0,542.3 2352.9,543.0 2355.7,543.8 2358.5,544.5 2361.2,545.3 2364.0,546.1 2366.8,546.9 2369.6,547.7 2372.3,548.6 2375.1,549.5 2377.9,550.5 2380.6,551.5 2383.4,552.5 2386.2,553.6 2389.1,554.7 2391.9,555.9 2394.6,557.1 2397.4,558.3 2400.2,559.6 2402.9,560.8 2405.6,562.1 2408.4,563.5 2411.1,564.8 2413.7,566.2 2416.4,567.6 2419.1,569.0 2421.8,570.5 2424.4,571.9 2427.0,573.4 2429.7,574.9 2432.3,576.4 2434.9,577.9 2437.5,579.4 2440.2,580.9 2442.8,582.5 2445.4,584.0 2448.0,585.6 2450.6,587.1 2453.1,588.7 2455.7,590.2 2458.3,591.8 2460.9,593.3 2463.5,594.9 2466.1,596.4 2468.7,598.0 2471.3,599.5 2473.9,601.0 2476.5,602.6 2479.1,604.1 2481.8,605.7 2484.4,607.3 2487.1,608.9 2489.7,610.5 2492.4,612.1 2495.0,613.7 2497.7,615.3 2500.3,617.0 2503.0,618.6 2505.6,620.3 2508.2,621.9 2510.9,623.6 2513.5,625.2 2516.1,626.9 2518.7,628.5 2521.2,630.2 2523.8,631.9 2526.3,633.6 2528.9,635.2 2531.4,636.9 2533.9,638.6 2536.3,640.3 2538.8,641.9 2541.2,643.6 2543.5,645.3 2545.9,647.0 2548.2,648.6 2550.5,650.3 2552.8,651.9 2555.0,653.6 2557.7,655.6 2560.4,657.7 2563.0,659.8 2565.7,661.9 2568.4,664.1 2571.0,666.3 2573.7,668.5 2576.3,670.7 2578.9,672.9 2581.4,675.1 2583.9,677.2 2586.3,679.4 2588.7,681.5 2591.1,683.6 2593.4,685.7 2595.6,687.7 2597.7,689.6 2599.8,691.6 2601.7,693.4 2603.6,695.2 2605.4,696.9 2607.1,698.5 2608.7,700.0 2611.5,702.8 2613.3,704.6"/>
<polygon points="2609.8,707.7 2622.2,714.5 2616.7,701.5"/>
<path d="M2097.5,490.0 2100.5,490.4 2103.5,490.9 2106.5,491.3 2109.5,491.7 2112.6,492.1 2115.6,492.5 2118.6,493.0 2121.7,493.4 2124.7,493.8 2127.8,494.2 2130.8,494.6 2133.9,495.0 2137.0,495.4 2140.0,495.8 2143.1,496.3 2146.2,496.7 2149.3,497.1 2152.4,497.5 2155.4,497.9 2158.5,498.3 2161.6,498.7 2164.7,499.1 2167.8,499.5 2170.8,499.9 2173.9,500.3 2177.0,500.7 2180.1,501.1 2183.1,501.5 2186.2,501.9 2189.3,502.4 2192.3,502.8 2195.4,503.2 2198.4,503.6 2201.5,504.0 2204.5,504.4 2207.5,504.8 2210.6,505.3 2213.6,505.7 2216.6,506.1 2219.6,506.5 2222.6,507.0 2225.6,507.4 2228.5,507.8 2231.5,508.3 2234.5,508.7 2237.4,509.2 2240.3,509.6 2243.3,510.1 2246.2,510.5 2249.1,511.0 2252.0,511.4 2254.8,511.9 2257.7,512.4 2260.5,512.9 2263.4,513.3 2266.2,513.8 2269.0,514.3 2271.7,514.8 2274.5,515.3 2277.3,515.8 2280.0,516.3 2283.2,516.9 2286.4,517.5 2289.5,518.1 2292.7,518.6 2295.8,519.2 2298.9,519.8 2302.0,520.3 2305.1,520.9 2308.2,521.4 2311.3,522.0 2314.3,522.5 2317.3,523.1 2320.4,523.6 2323.4,524.2 2326.4,524.8 2329.4,525.3 2332.3,525.9 2335.3,526.5 2338.2,527.0 2341.2,527.6 2344.1,528.2 2347.0,528.8 2349.9,529.4 2352.8,530.1 2355.7,530.7 2358.6,531.3 2361.5,532.0 2364.3,532.7 2367.2,533.4 2370.0,534.1 2372.9,534.8 2375.7,535.5 2378.5,536.3 2381.3,537.0 2384.2,537.8 2387.0,538.7 2389.8,539.5 2392.6,540.3 2395.3,541.2 2398.1,542.1 2400.9,543.1 2403.7,544.0 2406.4,545.0 2409.2,546.0 2412.1,547.1 2414.9,548.2 2417.8,549.4 2420.6,550.6 2423.4,551.8 2426.2,553.1 2429.0,554.3 2431.8,555.7 2434.6,557.0 2437.4,558.4 2440.1,559.8 2442.9,561.2 2445.6,562.6 2448.3,564.1 2451.1,565.6 2453.8,567.0 2456.5,568.5 2459.2,570.1 2461.9,571.6 2464.5,573.1 2467.2,574.6 2469.9,576.2 2472.5,577.7 2475.2,579.3 2477.9,580.8 2480.5,582.4 2483.2,583.9 2485.8,585.4 2488.4,586.9 2491.1,588.5 2493.7,590.0 2496.3,591.4 2499.0,592.9 2501.6,594.4 2504.2,595.8 2506.9,597.2 2509.5,598.6 2512.1,600.0 2514.7,601.4 2517.4,602.7 2520.0,604.0 2522.9,605.4 2525.8,606.8 2528.7,608.1 2531.6,609.5 2534.6,610.8 2537.6,612.2 2540.6,613.5 2543.7,614.9 2546.7,616.2 2549.7,617.5 2552.8,618.8 2555.8,620.1 2558.8,621.4 2561.9,622.7 2564.9,624.0 2567.9,625.2 2570.9,626.5 2573.8,627.8 2576.7,629.0 2579.6,630.3 2582.5,631.5 2585.3,632.7 2588.1,633.9 2590.9,635.1 2593.5,636.3 2596.2,637.5 2598.8,638.7 2601.3,639.9 2603.8,641.1 2606.2,642.3 2608.5,643.4 2610.7,644.6 2612.9,645.7 2615.0,646.9 2617.0,648.0 2620.3,649.9 2623.4,651.8 2626.4,653.5 2629.2,655.3 2631.8,657.0 2634.3,658.7 2636.7,660.4 2639.1,662.2 2641.4,664.0 2643.6,665.9 2645.8,667.9 2648.0,670.0 2650.2,672.2 2652.3,674.5 2654.3,676.9 2656.3,679.4 2658.3,681.9 2660.2,684.5 2662.0,687.1 2663.7,689.7 2665.3,692.3 2666.9,694.9 2668.3,697.5 2669.7,700.0 2671.2,702.9 2672.6,705.7 2674.0,708.6 2675.2,711.4 2676.3,714.3 2677.3,717.1 2678.0,720.0 2678.5,722.9 2678.7,725.7 2678.7,728.8 2678.4,732.0 2678.0,735.2 2677.3,738.4 2676.3,741.5 2675.0,744.6 2673.4,747.7 2671.5,750.6 2670.0,752.6 2668.2,754.6 2666.3,756.6 2664.3,758.5 2662.1,760.5 2659.7,762.4 2657.2,764.2 2654.6,766.1 2651.8,767.9 2649.0,769.7 2646.1,771.4 2643.1,773.1 2640.0,774.7 2636.9,776.2 2633.7,777.8 2630.5,779.2 2628.1,780.2 2625.6,781.2 2623.1,782.1 2620.4,783.0 2617.7,783.9 2614.9,784.7 2612.0,785.5 2609.1,786.3 2606.1,787.0 2603.1,787.8 2600.0,788.5 2596.9,789.1 2593.7,789.8 2590.6,790.4 2587.4,791.0 2584.2,791.6 2581.0,792.2 2577.7,792.8 2574.5,793.3 2571.3,793.9 2568.2,794.4 2565.0,794.9 2561.9,795.4 2558.8,795.9 2555.7,796.4 2552.7,796.9 2549.8,797.4 2546.9,797.9 2544.1,798.3 2541.3,798.8 2537.9,799.4 2534.6,799.9 2531.4,800.4 2528.1,800.9 2525.0,801.3 2521.8,801.8 2518.7,802.2 2515.6,802.5 2512.5,802.9 2509.4,803.3 2506.4,803.6 2503.4,804.0 2500.3,804.3 2497.3,804.6 2494.3,805.0 2492.1,805.2"/>
<polygon points="2491.6,800.6 2478.9,806.8 2492.7,809.9"/>
<path d="M924.0,570.8 703.2,621.5"/>
<polygon points="702.2,617.0 690.2,624.5 704.3,626.1"/>
<path d="M701.5,625.0 924.8,572.1"/>
<polygon points="925.9,576.6 937.8,569.0 923.7,567.5"/>
<path d="M921.5,573.2 918.6,574.3 915.7,575.4 912.7,576.5 909.7,577.6 906.7,578.7 903.6,579.8 900.5,580.9 897.4,582.0 894.3,583.1 891.2,584.1 888.0,585.2 884.9,586.3 881.7,587.4 878.5,588.5 875.4,589.6 872.2,590.6 869.1,591.7 865.9,592.8 862.8,593.9 859.7,595.0 856.6,596.1 853.5,597.2 850.5,598.2 847.5,599.3 844.5,600.4 841.5,601.5 838.6,602.6 835.8,603.7 833.0,604.8 830.2,605.9 827.5,607.0 824.8,608.1 822.3,609.2 819.7,610.4 817.3,611.5 814.9,612.6 812.5,613.7 810.3,614.8 808.1,616.0 806.0,617.1 804.0,618.2 800.9,620.1 798.1,621.9 795.5,623.7 793.1,625.5 790.8,627.3 788.7,629.1 786.7,630.9 784.7,632.7 782.7,634.6 780.6,636.5 778.6,638.4 776.4,640.5 774.1,642.6 771.7,644.7 769.0,647.0 767.1,648.6 765.2,650.2 763.2,651.9 761.1,653.6 759.0,655.4 756.9,657.2 754.7,659.0 752.5,660.9 750.3,662.8 748.0,664.7 745.7,666.7 743.4,668.7 741.1,670.7 738.7,672.7 736.3,674.7 733.9,676.8 731.5,678.9 729.0,681.0 726.6,683.0 724.1,685.1 721.7,687.2 719.2,689.3 716.8,691.5 714.3,693.6 711.9,695.7 709.4,697.7 707.0,699.8 704.6,701.9 702.9,703.3"/>
<polygon points="699.9,699.8 692.8,712.0 705.9,706.9"/>
<path d="M962.8,569.0 915.4,608.9"/>
<polygon points="912.4,605.3 905.2,617.5 918.5,612.5"/>
<path d="M922.8,617.5 966.6,577.9"/>
<polygon points="969.7,581.4 976.5,569.0 963.5,574.5"/>
<path d="M992.8,569.0 1045.4,616.8"/>
<polygon points="1042.2,620.2 1055.2,625.8 1048.5,613.3"/>
<path d="M1067.8,625.0 1065.8,622.4 1063.9,619.8 1062.1,617.2 1060.2,614.6 1058.4,611.9 1056.6,609.3 1054.7,606.7 1052.7,604.2 1050.7,601.6 1048.6,599.2 1046.4,596.8 1044.0,594.5 1041.8,592.6 1039.5,590.7 1037.1,588.9 1034.6,587.1 1032.1,585.4 1029.5,583.7 1026.8,582.1 1024.1,580.4 1021.4,578.8 1018.7,577.2 1016.6,576.0"/>
<polygon points="1019.1,572.0 1005.2,569.0 1014.2,580.0"/>
<path d="M1029.0,569.0 1211.2,622.0"/>
<polygon points="1209.9,626.5 1224.0,625.8 1212.5,617.5"/>
<path d="M1073.6,564.6 1076.6,565.0 1079.6,565.4 1082.6,565.8 1085.6,566.2 1088.6,566.6 1091.6,566.9 1094.6,567.3 1097.6,567.7 1100.6,568.1 1103.6,568.5 1106.6,568.9 1109.6,569.2 1112.6,569.6 1115.7,570.0 1118.7,570.4 1121.7,570.8 1124.7,571.2 1127.7,571.5 1130.7,571.9 1133.7,572.3 1136.7,572.7 1139.7,573.1 1142.7,573.5 1145.7,573.8 1148.7,574.2 1151.7,574.6 1154.7,575.0 1157.7,575.4 1160.7,575.8 1163.7,576.2 1166.7,576.6 1169.7,577.0 1172.7,577.4 1175.7,577.9 1178.7,578.3 1181.7,578.7 1184.7,579.1 1187.7,579.5 1190.7,580.0 1193.7,580.4 1196.7,580.9 1199.7,581.3 1202.7,581.7 1205.8,582.2 1208.9,582.7 1212.0,583.1 1215.1,583.6 1218.3,584.0 1221.5,584.5 1224.7,584.9 1227.9,585.4 1231.2,585.9 1234.4,586.3 1237.7,586.8 1241.0,587.3 1244.2,587.7 1247.5,588.2 1250.8,588.7 1254.0,589.2 1257.3,589.7 1260.5,590.2 1263.7,590.6 1266.9,591.1 1270.1,591.6 1273.3,592.1 1276.4,592.6 1279.6,593.1 1282.6,593.6 1285.7,594.2 1288.7,594.7 1291.7,595.2 1294.6,595.7 1297.5,596.2 1300.3,596.8 1303.1,597.3 1305.9,597.8 1308.5,598.4 1311.2,598.9 1313.7,599.5 1316.2,600.0 1318.6,600.6 1321.0,601.2 1323.3,601.7 1325.5,602.3 1329.3,603.3 1333.1,604.2 1336.7,605.0 1340.3,605.8 1343.7,606.6 1347.1,607.4 1350.2,608.3 1353.2,609.3 1356.1,610.3 1358.8,611.4 1361.3,612.7 1363.5,614.2 1365.6,615.8 1367.4,617.7 1369.2,620.1 1370.7,622.6 1371.9,625.4 1372.9,628.4 1373.7,631.5 1374.2,634.7 1374.6,638.1 1374.7,641.5 1374.7,645.0 1374.6,648.5 1374.2,652.0 1373.9,654.5 1373.4,657.0 1372.7,659.7 1371.9,662.3 1370.9,665.1 1369.9,667.8 1368.7,670.6 1367.4,673.5 1366.1,676.4 1364.7,679.3 1363.2,682.2 1361.7,685.1 1360.1,688.1 1358.6,691.1 1357.0,694.0 1355.4,697.0 1353.9,700.0 1352.5,702.5"/>
<polygon points="1348.3,700.5 1346.8,714.5 1356.8,704.5"/>
<path d="M1073.6,567.4 1076.6,567.8 1079.6,568.3 1082.6,568.7 1085.6,569.1 1088.7,569.6 1091.7,570.0 1094.7,570.4 1097.7,570.9 1100.8,571.3 1103.8,571.7 1106.8,572.2 1109.8,572.6 1112.9,573.1 1115.9,573.5 1118.9,573.9 1122.0,574.4 1125.0,574.8 1128.0,575.3 1131.1,575.7 1134.1,576.1 1137.1,576.6 1140.1,577.0 1143.2,577.4 1146.2,577.9 1149.2,578.3 1152.2,578.7 1155.2,579.2 1158.2,579.6 1161.2,580.0 1164.2,580.5 1167.2,580.9 1170.2,581.3 1173.2,581.7 1176.2,582.2 1179.1,582.6 1182.1,583.0 1185.0,583.4 1188.0,583.8 1190.9,584.3 1193.9,584.7 1196.8,585.1 1199.7,585.5 1202.8,585.9 1205.9,586.4 1209.0,586.8 1212.1,587.2 1215.2,587.7 1218.2,588.1 1221.3,588.6 1224.3,589.0 1227.4,589.4 1230.4,589.8 1233.5,590.3 1236.5,590.7 1239.5,591.1 1242.6,591.6 1245.6,592.0 1248.6,592.4 1251.6,592.8 1254.6,593.3 1257.6,593.7 1260.6,594.1 1263.6,594.5 1266.6,594.9 1269.6,595.3 1272.6,595.7 1275.6,596.2 1278.6,596.6 1281.6,597.0 1284.6,597.4 1287.6,597.8 1290.5,598.2 1293.5,598.6 1296.5,599.0 1299.5,599.4 1302.5,599.7 1305.5,600.1 1308.5,600.5 1311.5,600.9 1314.5,601.3 1317.6,601.7 1320.6,602.0 1323.7,602.4 1326.7,602.8 1329.8,603.1 1332.9,603.5 1335.9,603.9 1339.0,604.2 1342.1,604.6 1345.1,604.9 1348.2,605.3 1351.3,605.6 1354.3,606.0 1357.4,606.3 1360.5,606.7 1363.5,607.0 1366.6,607.3 1369.6,607.7 1372.6,608.0 1375.7,608.4 1378.7,608.7 1381.7,609.0 1384.7,609.4 1387.7,609.7 1390.7,610.1 1393.7,610.4 1396.7,610.7 1399.6,611.1 1402.6,611.4 1405.5,611.8 1408.5,612.1 1411.4,612.5 1414.3,612.8 1417.1,613.1 1420.0,613.5 1423.2,613.9 1426.3,614.3 1429.5,614.7 1432.6,615.1 1435.7,615.5 1438.8,615.9 1441.9,616.3 1444.9,616.7 1448.0,617.1 1451.0,617.5 1454.1,617.9 1457.1,618.2 1460.1,618.6 1463.1,619.0 1466.1,619.4 1469.1,619.8 1472.1,620.2 1475.0,620.6 1478.0,621.0 1481.0,621.4 1484.0,621.8 1487.0,622.2 1490.0,622.6 1492.9,623.0 1494.8,623.3"/>
<polygon points="1494.2,627.9 1508.0,625.0 1495.4,618.6"/>
<path d="M1073.6,561.5 1076.6,561.7 1079.6,561.9 1082.6,562.1 1085.6,562.3 1088.6,562.5 1091.6,562.7 1094.6,562.9 1097.6,563.1 1100.6,563.3 1103.6,563.4 1106.5,563.6 1109.5,563.8 1112.5,564.0 1115.4,564.2 1118.4,564.4 1121.4,564.6 1124.3,564.8 1127.3,565.0 1130.3,565.2 1133.2,565.4 1136.2,565.5 1139.2,565.7 1142.1,565.9 1145.1,566.1 1148.1,566.3 1151.1,566.5 1154.1,566.7 1157.0,566.9 1160.0,567.1 1163.0,567.3 1166.0,567.5 1169.0,567.7 1172.1,567.9 1175.1,568.1 1178.1,568.3 1181.1,568.5 1184.2,568.7 1187.2,568.9 1190.3,569.1 1193.3,569.3 1196.4,569.5 1199.5,569.7 1202.6,569.9 1205.7,570.1 1208.8,570.3 1211.9,570.5 1215.0,570.7 1218.2,570.9 1221.3,571.2 1224.5,571.4 1227.7,571.6 1230.5,571.8 1233.4,572.0 1236.3,572.2 1239.1,572.4 1242.0,572.6 1244.9,572.8 1247.8,573.0 1250.8,573.2 1253.7,573.4 1256.6,573.6 1259.6,573.8 1262.5,574.0 1265.5,574.3 1268.5,574.5 1271.4,574.7 1274.4,574.9 1277.4,575.1 1280.4,575.3 1283.4,575.5 1286.4,575.8 1289.5,576.0 1292.5,576.2 1295.5,576.4 1298.5,576.6 1301.6,576.9 1304.6,577.1 1307.7,577.3 1310.7,577.5 1313.8,577.8 1316.8,578.0 1319.9,578.2 1322.9,578.4 1326.0,578.7 1329.0,578.9 1332.1,579.1 1335.2,579.3 1338.2,579.5 1341.3,579.8 1344.4,580.0 1347.4,580.2 1350.5,580.4 1353.5,580.7 1356.6,580.9 1359.7,581.1 1362.7,581.3 1365.8,581.6 1368.8,581.8 1371.9,582.0 1374.9,582.2 1378.0,582.5 1381.0,582.7 1384.0,582.9 1387.1,583.1 1390.1,583.3 1393.1,583.6 1396.1,583.8 1399.1,584.0 1402.1,584.2 1405.1,584.4 1408.1,584.6 1411.1,584.9 1414.1,585.1 1417.0,585.3 1420.0,585.5 1423.1,585.7 1426.1,585.9 1429.2,586.1 1432.3,586.4 1435.4,586.6 1438.5,586.8 1441.6,587.0 1444.8,587.2 1447.9,587.4 1451.1,587.6 1454.2,587.8 1457.4,588.0 1460.5,588.2 1463.7,588.4 1466.9,588.6 1470.0,588.8 1473.2,589.0 1476.4,589.2 1479.6,589.4 1482.7,589.6 1485.9,589.8 1489.1,589.9 1492.3,590.1 1495.4,590.3 1498.6,590.5 1501.7,590.7 1504.9,590.9 1508.0,591.1 1511.1,591.3 1514.3,591.5 1517.4,591.7 1520.5,591.9 1523.6,592.1 1526.6,592.3 1529.7,592.5 1532.8,592.7 1535.8,592.9 1538.8,593.1 1541.8,593.3 1544.8,593.5 1547.8,593.7 1550.8,594.0 1553.7,594.2 1556.6,594.4 1559.5,594.6 1562.4,594.8 1565.2,595.0 1568.1,595.3 1570.9,595.5 1573.7,595.7 1576.4,596.0 1579.2,596.2 1581.9,596.4 1584.5,596.7 1587.2,596.9 1589.8,597.2 1592.4,597.4 1595.0,597.7 1597.5,597.9 1600.0,598.2 1603.5,598.6 1607.0,599.0 1610.6,599.4 1614.1,599.8 1617.6,600.2 1621.1,600.6 1624.5,601.0 1628.0,601.5 1631.4,601.9 1634.8,602.4 1638.1,602.8 1641.4,603.2 1644.7,603.7 1647.9,604.2 1651.1,604.6 1654.2,605.1 1657.3,605.5 1660.3,606.0 1663.2,606.4 1666.1,606.9 1668.9,607.3 1671.6,607.7 1674.2,608.2 1676.7,608.6 1679.2,609.0 1681.6,609.4 1683.8,609.8 1686.0,610.2 1688.0,610.6 1690.0,611.0 1694.0,611.7 1697.4,612.2 1700.4,612.8 1703.2,613.4 1706.1,614.4 1709.4,615.9 1711.6,617.1 1713.8,618.4 1716.2,620.0 1718.6,621.7 1721.1,623.5 1723.6,625.5 1726.1,627.5 1728.7,629.7 1731.3,631.9 1733.8,634.2 1736.4,636.5 1738.9,638.8 1741.3,641.1 1743.7,643.4 1746.0,645.6 1748.2,647.8 1750.4,650.0 1752.5,652.2 1754.6,654.5 1756.7,656.8 1758.7,659.1 1760.7,661.5 1762.7,663.8 1764.6,666.2 1766.5,668.6 1768.4,670.9 1770.2,673.3 1772.0,675.7 1773.8,678.0 1775.5,680.4 1777.2,682.7 1779.0,685.3 1780.8,687.9 1782.5,690.5 1784.1,693.1 1785.7,695.6 1787.3,698.2 1788.8,700.8 1789.7,702.3"/>
<polygon points="1785.7,704.7 1796.6,713.7 1793.7,699.9"/>
<path d="M1073.6,561.5 1076.6,561.7 1079.6,561.9 1082.6,562.1 1085.6,562.3 1088.6,562.5 1091.6,562.7 1094.6,562.9 1097.6,563.1 1100.6,563.3 1103.6,563.4 1106.5,563.6 1109.5,563.8 1112.5,564.0 1115.4,564.2 1118.4,564.4 1121.4,564.6 1124.3,564.8 1127.3,565.0 1130.3,565.2 1133.2,565.4 1136.2,565.5 1139.2,565.7 1142.1,565.9 1145.1,566.1 1148.1,566.3 1151.1,566.5 1154.1,566.7 1157.0,566.9 1160.0,567.1 1163.0,567.3 1166.0,567.5 1169.0,567.7 1172.1,567.9 1175.1,568.1 1178.1,568.3 1181.1,568.5 1184.2,568.7 1187.2,568.9 1190.3,569.1 1193.3,569.3 1196.4,569.5 1199.5,569.7 1202.6,569.9 1205.7,570.1 1208.8,570.3 1211.9,570.5 1215.0,570.7 1218.2,570.9 1221.3,571.2 1224.5,571.4 1227.7,571.6 1230.5,571.8 1233.4,572.0 1236.3,572.2 1239.1,572.4 1242.0,572.6 1244.9,572.8 1247.8,573.0 1250.8,573.2 1253.7,573.4 1256.6,573.6 1259.6,573.8 1262.5,574.0 1265.5,574.2 1268.5,574.4 1271.4,574.6 1274.4,574.8 1277.4,575.0 1280.4,575.2 1283.4,575.5 1286.4,575.7 1289.5,575.9 1292.5,576.1 1295.5,576.3 1298.5,576.5 1301.6,576.7 1304.6,576.9 1307.7,577.2 1310.7,577.4 1313.8,577.6 1316.8,577.8 1319.9,578.0 1322.9,578.2 1326.0,578.5 1329.0,578.7 1332.1,578.9 1335.2,579.1 1338.2,579.3 1341.3,579.6 1344.4,579.8 1347.4,580.0 1350.5,580.2 1353.6,580.5 1356.6,580.7 1359.7,580.9 1362.7,581.1 1365.8,581.4 1368.8,581.6 1371.9,581.8 1374.9,582.0 1378.0,582.3 1381.0,582.5 1384.0,582.7 1387.1,583.0 1390.1,583.2 1393.1,583.4 1396.1,583.6 1399.1,583.9 1402.1,584.1 1405.1,584.3 1408.1,584.6 1411.1,584.8 1414.1,585.0 1417.0,585.3 1420.0,585.5 1423.1,585.7 1426.1,586.0 1429.2,586.2 1432.3,586.5 1435.4,586.7 1438.5,587.0 1441.6,587.3 1444.8,587.5 1447.9,587.8 1451.1,588.1 1454.2,588.3 1457.4,588.6 1460.5,588.9 1463.7,589.1 1466.9,589.4 1470.0,589.7 1473.2,590.0 1476.4,590.3 1479.6,590.5 1482.7,590.8 1485.9,591.1 1489.1,591.4 1492.2,591.7 1495.4,591.9 1498.6,592.2 1501.7,592.5 1504.8,592.8 1508.0,593.1 1511.1,593.3 1514.2,593.6 1517.3,593.9 1520.4,594.2 1523.5,594.5 1526.6,594.7 1529.7,595.0 1532.7,595.3 1535.8,595.6 1538.8,595.8 1541.8,596.1 1544.8,596.4 1547.8,596.6 1550.7,596.9 1553.7,597.1 1556.6,597.4 1559.5,597.6 1562.4,597.9 1565.2,598.1 1568.0,598.4 1570.9,598.6 1573.6,598.9 1576.4,599.1 1579.1,599.3 1581.8,599.5 1584.5,599.8 1587.2,600.0 1589.8,600.2 1592.4,600.4 1595.0,600.6 1597.5,600.8 1600.0,601.0 1603.5,601.3 1606.9,601.5 1610.2,601.7 1613.5,601.9 1616.8,602.1 1619.9,602.3 1623.1,602.4 1626.1,602.6 1629.2,602.7 1632.2,602.9 1635.2,603.0 1638.1,603.1 1641.0,603.3 1643.9,603.4 1646.8,603.5 1649.6,603.7 1652.5,603.8 1655.3,604.0 1658.1,604.1 1661.0,604.3 1663.8,604.5 1666.6,604.7 1669.5,604.9 1672.3,605.2 1675.2,605.4 1678.1,605.7 1681.0,606.0 1684.0,606.3 1687.0,606.7 1690.0,607.1 1693.0,607.5 1696.0,607.9 1699.0,608.4 1702.1,608.9 1705.1,609.4 1708.2,609.9 1711.2,610.5 1714.3,611.0 1717.4,611.6 1720.4,612.2 1723.5,612.8 1726.6,613.4 1729.7,614.0 1732.8,614.7 1735.9,615.3 1739.0,616.0 1742.0,616.6 1745.1,617.3 1748.2,618.0 1751.2,618.6 1754.3,619.3 1757.3,620.0 1760.4,620.7 1763.4,621.3 1766.4,622.0 1769.4,622.7 1772.3,623.3 1775.3,624.0 1778.2,624.6 1781.1,625.3 1784.0,625.9 1786.9,626.5 1790.1,627.2 1793.2,627.8 1796.4,628.4 1799.5,629.0 1802.7,629.6 1805.9,630.2 1809.0,630.7 1812.1,631.3 1815.3,631.8 1818.4,632.4 1821.5,632.9 1824.6,633.5 1827.6,634.1 1830.7,634.7 1833.7,635.3 1836.6,635.9 1839.6,636.6 1842.5,637.3 1845.4,638.0 1848.3,638.7 1851.1,639.5 1853.9,640.3 1856.6,641.2 1859.3,642.1 1861.9,643.0 1864.5,644.0 1867.6,645.3 1870.7,646.5 1873.7,647.8 1876.6,649.2 1879.6,650.6 1882.4,652.0 1885.3,653.4 1888.1,654.9 1890.8,656.4 1893.5,658.0 1896.1,659.7 1898.7,661.4 1901.2,663.1 1903.6,665.0 1906.0,666.9 1908.4,668.8 1910.7,670.9 1912.9,673.0 1915.0,675.2 1917.2,677.4 1919.4,679.8 1921.6,682.3 1923.8,684.8 1926.0,687.5 1928.1,690.2 1930.1,692.9 1932.1,695.7 1934.0,698.5 1935.8,701.3 1937.4,704.2 1938.9,707.0 1940.2,709.8 1941.4,712.6 1942.3,715.4 1943.1,718.1 1943.6,720.8 1943.9,723.4 1943.9,726.3 1943.7,729.2 1943.2,732.1 1942.5,735.0 1941.6,737.9 1940.5,740.8 1939.2,743.7 1937.8,746.6 1936.2,749.4 1934.5,752.1 1932.7,754.9 1930.9,757.5 1929.0,760.1 1927.0,762.6 1925.0,765.0 1923.1,767.1 1921.0,769.2 1918.7,771.2 1916.4,773.1 1913.9,774.9 1911.4,776.7 1908.7,778.5 1906.0,780.2 1903.2,781.9 1900.4,783.5 1897.5,785.1 1894.7,786.8 1891.8,788.4 1889.4,789.8"/>
<polygon points="1886.9,785.8 1878.0,796.8 1891.8,793.8"/>
<path d="M2158.2,568.8 2090.3,617.3"/>
<polygon points="2087.6,613.5 2079.5,625.0 2093.1,621.1"/>
<path d="M2183.2,568.8 2210.1,613.6"/>
<polygon points="2206.1,616.0 2217.0,625.0 2214.1,611.2"/>
<path d="M2214.5,568.8 2368.1,620.7"/>
<polygon points="2366.6,625.2 2380.8,625.0 2369.6,616.3"/>
<path d="M635.0,650.8 596.6,703.7"/>
<polygon points="592.8,701.0 588.8,714.5 600.4,706.5"/>
<path d="M1215.2,651.2 1212.2,651.7 1209.2,652.1 1206.2,652.5 1203.1,652.9 1200.1,653.4 1197.1,653.8 1194.1,654.3 1191.0,654.8 1188.0,655.2 1185.0,655.7 1182.0,656.2 1179.0,656.6 1175.9,657.1 1172.9,657.6 1169.9,658.1 1166.9,658.5 1163.8,659.0 1160.8,659.5 1157.8,659.9 1154.8,660.4 1151.8,660.8 1148.7,661.3 1145.7,661.7 1142.7,662.2 1139.6,662.6 1136.6,663.0 1133.6,663.4 1130.6,663.8 1127.5,664.2 1124.5,664.6 1121.4,664.9 1118.4,665.3 1115.4,665.6 1112.3,665.9 1109.3,666.2 1106.2,666.5 1103.2,666.8 1100.1,667.1 1097.1,667.3 1094.0,667.5 1091.0,667.7 1087.9,667.8 1084.9,668.0 1081.9,668.1 1078.8,668.2 1075.8,668.3 1072.7,668.3 1069.7,668.3 1066.6,668.4 1063.5,668.3 1060.5,668.3 1057.4,668.3 1054.3,668.3 1051.2,668.2 1048.2,668.1 1045.1,668.1 1042.0,668.0 1038.9,667.9 1035.8,667.8 1032.8,667.7 1029.7,667.6 1026.6,667.6 1023.5,667.5 1020.5,667.4 1017.4,667.3 1014.3,667.2 1011.3,667.1 1008.2,667.1 1005.2,667.0 1002.1,667.0 999.1,666.9 996.0,666.9 993.0,666.9 990.0,666.9 986.9,666.9 983.9,667.0 980.9,667.0 977.9,667.1 974.9,667.2 972.0,667.3 969.0,667.5 965.9,667.7 962.7,667.9 959.6,668.0 956.5,668.2 953.3,668.4 950.2,668.6 947.1,668.8 944.0,669.0 940.8,669.2 937.7,669.4 934.6,669.6 931.5,669.9 928.3,670.1 925.2,670.4 922.1,670.6 919.0,670.9 915.9,671.2 912.9,671.5 909.8,671.8 906.7,672.1 903.7,672.4 900.6,672.8 897.6,673.1 894.6,673.5 891.5,673.9 888.5,674.3 885.6,674.7 882.6,675.2 879.6,675.6 876.7,676.1 873.7,676.6 870.8,677.1 867.9,677.7 865.0,678.2 862.2,678.8 859.3,679.4 856.5,680.0 853.4,680.7 850.2,681.4 847.0,682.2 843.8,682.9 840.6,683.7 837.4,684.5 834.3,685.3 831.1,686.1 827.9,687.0 824.7,687.9 821.6,688.7 818.5,689.7 815.3,690.6 812.3,691.5 809.2,692.5 806.2,693.5 803.2,694.5 800.2,695.5 797.3,696.6 794.5,697.7 791.6,698.8 788.9,699.9 786.2,701.1 783.5,702.3 780.9,703.5 778.4,704.8 775.9,706.0 773.6,707.3 771.2,708.6 769.0,710.0 766.2,711.9 763.5,713.9 761.0,716.1 758.6,718.3 756.3,720.7 754.1,723.1 752.1,725.5 750.0,727.9 748.0,730.3 746.1,732.8 744.1,735.1 742.2,737.5 740.2,739.7 738.1,741.8 736.0,743.9 733.8,745.8 731.5,747.5 728.8,749.3 726.0,751.0 723.3,752.6 720.5,754.1 717.7,755.5 714.9,756.8 712.0,758.1 709.1,759.3 706.2,760.5 703.2,761.6 700.2,762.7 697.1,763.9 694.0,765.0 691.3,766.0 688.6,766.9 685.9,767.8 683.2,768.7 680.5,769.5 677.7,770.4 675.0,771.2 672.1,772.0 669.3,772.7 666.4,773.5 663.4,774.2 660.4,775.0 657.2,775.7 654.1,776.5 650.8,777.2 647.4,778.0 644.0,778.8 641.5,779.3 639.0,779.8 636.4,780.4 633.7,780.9 630.9,781.4 628.1,782.0 625.2,782.5 622.3,783.1 619.3,783.6 616.3,784.1 613.2,784.7 610.1,785.2 607.0,785.7 603.8,786.3 600.6,786.8 597.4,787.3 594.2,787.8 591.0,788.4 587.8,788.9 584.6,789.4 581.4,789.9 578.2,790.4 575.1,790.9 571.9,791.3 568.8,791.8 565.7,792.3 562.6,792.7 559.6,793.2 556.6,793.6 553.7,794.0 550.8,794.4 548.0,794.9 545.3,795.2 542.6,795.6 540.0,796.0 536.6,796.5 533.3,796.9 530.0,797.4 526.8,797.8 523.6,798.2 520.5,798.5 517.4,798.9 514.4,799.3 511.4,799.6 508.4,799.9 505.4,800.3 502.5,800.6 499.6,800.9 496.8,801.2 493.9,801.5 491.1,801.8 488.3,802.1 485.5,802.5 482.8,802.8 480.0,803.1 476.7,803.5 473.4,803.9 470.3,804.2 467.1,804.6 464.0,805.0 460.9,805.3 457.9,805.7 454.9,806.1 451.9,806.4 449.9,806.6"/>
<polygon points="449.4,802.0 436.7,808.2 450.5,811.3"/>
<path d="M1201.5,651.5 1198.5,651.9 1195.5,652.3 1192.5,652.8 1189.6,653.2 1186.6,653.6 1183.6,654.1 1180.6,654.5 1177.6,654.9 1174.7,655.4 1171.7,655.8 1168.7,656.3 1165.7,656.7 1162.8,657.2 1159.8,657.6 1156.8,658.1 1153.9,658.5 1150.9,659.0 1147.9,659.4 1145.0,659.9 1142.0,660.3 1139.0,660.8 1136.1,661.2 1133.1,661.7 1130.1,662.2 1127.2,662.6 1124.2,663.1 1121.2,663.5 1118.2,664.0 1115.3,664.4 1112.3,664.9 1109.3,665.3 1106.4,665.7 1103.4,666.2 1100.4,666.6 1097.4,667.1 1094.4,667.5 1091.5,667.9 1088.5,668.4 1085.5,668.8 1082.5,669.2 1079.5,669.6 1076.5,670.0 1073.5,670.4 1070.5,670.9 1067.5,671.3 1064.5,671.7 1061.5,672.0 1058.5,672.4 1055.5,672.8 1052.5,673.2 1049.4,673.6 1046.4,673.9 1043.4,674.3 1040.4,674.7 1037.3,675.0 1034.3,675.4 1031.2,675.7 1028.2,676.0 1025.1,676.4 1022.1,676.7 1019.0,677.0 1016.0,677.3 1013.1,677.6 1010.1,677.8 1007.0,678.1 1004.0,678.4 1001.0,678.6 997.9,678.8 994.8,679.0 991.8,679.2 988.7,679.5 985.6,679.6 982.4,679.8 979.3,680.0 976.2,680.2 973.0,680.4 969.9,680.5 966.7,680.7 963.6,680.8 960.4,681.0 957.2,681.1 954.1,681.2 950.9,681.4 947.7,681.5 944.5,681.6 941.3,681.7 938.2,681.9 935.0,682.0 931.8,682.1 928.6,682.2 925.4,682.3 922.3,682.5 919.1,682.6 915.9,682.7 912.8,682.8 909.6,682.9 906.5,683.1 903.4,683.2 900.2,683.3 897.1,683.4 894.0,683.6 890.9,683.7 887.8,683.8 884.7,684.0 881.7,684.1 878.6,684.3 875.6,684.5 872.6,684.6 869.6,684.8 866.6,685.0 863.6,685.2 860.7,685.4 857.7,685.6 854.8,685.8 851.9,686.0 849.0,686.2 846.2,686.5 843.4,686.7 840.6,687.0 837.8,687.3 835.0,687.5 832.3,687.8 829.6,688.1 826.9,688.5 824.2,688.8 821.6,689.1 819.0,689.5 815.6,690.0 812.3,690.5 809.0,691.0 805.7,691.6 802.5,692.1 799.3,692.7 796.2,693.3 793.1,693.9 790.0,694.5 787.0,695.1 784.0,695.8 781.0,696.4 778.0,697.1 775.1,697.7 772.1,698.4 769.2,699.1 766.4,699.8 763.5,700.5 760.6,701.2 757.8,701.9 755.0,702.6 752.1,703.3 749.3,704.0 746.5,704.7 743.7,705.4 740.9,706.1 738.1,706.9 735.2,707.6 732.4,708.3 729.6,709.0 726.8,709.7 723.9,710.4 721.0,711.1 719.5,711.5"/>
<polygon points="718.4,706.9 706.5,714.5 720.5,716.0"/>
<path d="M1196.5,652.0 947.0,710.2"/>
<polygon points="945.9,705.7 934.0,713.2 948.0,714.8"/>
<path d="M1239.0,651.5 1116.1,708.9"/>
<polygon points="1114.1,704.6 1104.0,714.5 1118.1,713.1"/>
<path d="M1256.6,650.8 1254.8,653.3 1253.0,655.8 1251.1,658.3 1249.1,660.9 1247.1,663.4 1245.1,665.9 1243.1,668.4 1241.2,670.9 1239.2,673.5 1237.4,676.0 1235.6,678.5 1233.9,681.0 1232.3,683.5 1230.9,686.0 1229.6,688.5 1228.4,690.9 1227.5,693.4 1226.5,696.5 1225.7,699.5 1225.1,702.6 1224.6,705.7 1224.2,708.8 1224.1,711.8 1224.0,714.9 1224.2,717.8 1224.5,720.8 1225.0,723.6 1225.6,726.4 1226.5,729.4 1227.6,732.4 1228.9,735.4 1230.3,738.4 1232.0,741.3 1233.9,744.1 1235.9,746.7 1238.1,749.2 1240.5,751.5 1243.0,753.5 1245.2,755.0 1247.6,756.3 1250.0,757.4 1252.6,758.4 1255.3,759.3 1258.1,760.0 1261.1,760.7 1264.1,761.3 1267.3,761.9 1270.7,762.4 1274.2,763.0 1277.9,763.7 1281.7,764.4 1285.7,765.2 1287.7,765.6 1289.9,766.1 1292.0,766.5 1294.3,766.9 1296.6,767.4 1299.0,767.8 1301.4,768.3 1303.9,768.7 1306.5,769.2 1309.1,769.7 1311.8,770.1 1314.5,770.6 1317.3,771.1 1320.1,771.5 1322.9,772.0 1325.8,772.5 1328.8,773.0 1331.7,773.5 1334.8,773.9 1337.8,774.4 1340.9,774.9 1344.0,775.4 1347.1,775.9 1350.3,776.3 1353.5,776.8 1356.7,777.3 1359.9,777.8 1363.2,778.2 1366.4,778.7 1369.7,779.2 1373.0,779.7 1376.3,780.1 1379.6,780.6 1382.9,781.0 1386.2,781.5 1389.5,782.0 1392.9,782.4 1396.2,782.8 1399.5,783.3 1402.8,783.7 1406.1,784.1 1409.3,784.6 1412.6,785.0 1415.9,785.4 1419.1,785.8 1422.3,786.2 1425.5,786.6 1428.7,787.0 1431.8,787.3 1434.9,787.7 1438.0,788.1 1441.1,788.4 1444.1,788.7 1447.1,789.1 1450.0,789.4 1453.1,789.7 1456.1,790.0 1459.2,790.4 1462.2,790.7 1465.2,791.0 1468.2,791.3 1471.3,791.5 1474.3,791.8 1477.3,792.1 1480.3,792.3 1483.3,792.6 1486.3,792.9 1489.2,793.1 1492.2,793.3 1495.2,793.6 1498.2,793.8 1501.2,794.0 1504.1,794.2 1507.1,794.5 1510.1,794.7 1513.0,794.9 1516.0,795.1 1519.0,795.3 1521.9,795.5 1524.9,795.7 1527.9,795.9 1530.8,796.0 1533.8,796.2 1536.8,796.4 1539.7,796.6 1542.7,796.8 1545.7,796.9 1548.7,797.1 1551.6,797.3 1554.6,797.4 1557.6,797.6 1560.6,797.8 1563.6,797.9 1566.6,798.1 1569.6,798.3 1572.6,798.5 1575.6,798.6 1578.7,798.8 1581.7,799.0 1584.7,799.1 1587.8,799.3 1590.8,799.5 1593.9,799.6 1596.9,799.8 1600.0,800.0 1602.9,800.2 1605.9,800.3 1608.8,800.5 1611.8,800.7 1614.8,800.8 1617.7,801.0 1620.7,801.1 1623.7,801.3 1626.7,801.5 1629.7,801.6 1632.7,801.8 1635.6,801.9 1638.6,802.0 1641.7,802.2 1644.7,802.3 1647.7,802.5 1650.7,802.6 1653.7,802.8 1656.7,802.9 1659.7,803.0 1662.8,803.2 1665.8,803.3 1668.8,803.4 1671.8,803.6 1674.9,803.7 1677.9,803.8 1680.9,804.0 1684.0,804.1 1687.0,804.2 1690.1,804.4 1693.1,804.5 1696.1,804.6 1699.2,804.7 1702.2,804.9 1705.3,805.0 1708.3,805.1 1711.4,805.2 1714.4,805.4 1717.5,805.5 1720.5,805.6 1723.5,805.8 1726.6,805.9 1729.6,806.0 1732.7,806.1 1735.7,806.3 1738.7,806.4 1741.8,806.5 1744.8,806.7 1747.8,806.8 1750.9,806.9 1752.7,807.0"/>
<polygon points="1752.5,811.7 1766.0,807.6 1752.9,802.3"/>
<path d="M1264.3,650.8 1264.0,654.0 1263.7,657.1 1263.4,660.8 1263.2,663.6 1262.9,666.8 1262.6,670.3 1262.2,673.9 1261.9,677.4 1261.6,680.6 1261.4,683.4 1260.9,686.8 1260.5,689.7 1260.5,693.4 1260.7,695.5 1260.9,698.0 1261.2,700.8 1261.6,703.8 1262.0,707.1 1262.5,710.5 1263.1,714.0 1263.8,717.5 1264.5,720.9 1265.3,724.3 1266.2,727.6 1267.1,730.6 1268.1,733.4 1269.1,735.9 1270.2,738.0 1272.3,741.2 1274.5,743.9 1277.1,746.1 1280.0,747.9 1283.7,749.7 1285.7,750.4 1287.8,751.1 1290.1,751.7 1292.5,752.1 1295.1,752.6 1297.8,752.9 1300.7,753.2 1303.6,753.4 1306.7,753.6 1309.8,753.8 1313.1,753.9 1316.3,754.1 1319.7,754.2 1323.1,754.3 1326.5,754.4 1330.0,754.6 1333.4,754.8 1336.9,755.0 1340.4,755.2 1343.8,755.5 1346.4,755.7 1349.0,756.0 1351.7,756.3 1354.3,756.5 1357.0,756.8 1359.7,757.0 1362.4,757.3 1365.1,757.6 1367.9,757.8 1370.6,758.1 1373.4,758.4 1376.3,758.7 1379.1,758.9 1382.0,759.2 1384.9,759.5 1387.8,759.8 1390.7,760.1 1393.7,760.4 1396.7,760.6 1399.8,760.9 1402.8,761.2 1406.0,761.5 1409.1,761.8 1412.3,762.1 1415.5,762.4 1418.8,762.7 1422.1,762.9 1425.4,763.2 1428.8,763.5 1432.2,763.8 1435.7,764.1 1439.2,764.4 1442.7,764.6 1446.3,764.9 1450.0,765.2 1452.4,765.4 1454.8,765.6 1457.3,765.7 1459.7,765.9 1462.2,766.1 1464.8,766.3 1467.3,766.5 1469.9,766.6 1472.5,766.8 1475.2,767.0 1477.8,767.2 1480.5,767.4 1483.2,767.5 1486.0,767.7 1488.7,767.9 1491.5,768.1 1494.3,768.3 1497.1,768.4 1499.9,768.6 1502.8,768.8 1505.7,769.0 1508.6,769.2 1511.5,769.3 1514.4,769.5 1517.4,769.7 1520.3,769.9 1523.3,770.1 1526.3,770.3 1529.3,770.4 1532.4,770.6 1535.4,770.8 1538.5,771.0 1541.5,771.2 1544.6,771.3 1547.7,771.5 1550.8,771.7 1553.9,771.9 1557.1,772.1 1560.2,772.3 1563.4,772.4 1566.5,772.6 1569.7,772.8 1572.8,773.0 1576.0,773.1 1579.2,773.3 1582.4,773.5 1585.6,773.7 1588.8,773.9 1592.0,774.0 1595.2,774.2 1598.4,774.4 1601.6,774.6 1604.9,774.7 1608.1,774.9 1611.3,775.1 1614.5,775.3 1617.8,775.5 1621.0,775.6 1624.2,775.8 1627.4,776.0 1630.7,776.1 1633.9,776.3 1637.1,776.5 1640.3,776.7 1643.5,776.8 1646.7,777.0 1649.9,777.2 1653.1,777.3 1656.3,777.5 1659.5,777.7 1662.6,777.8 1665.8,778.0 1669.0,778.2 1672.1,778.3 1675.3,778.5 1678.4,778.7 1681.5,778.8 1684.6,779.0 1687.7,779.2 1690.8,779.3 1693.9,779.5 1697.0,779.6 1700.0,779.8 1703.0,780.0 1706.0,780.1 1708.9,780.3 1711.9,780.4 1714.9,780.6 1717.8,780.7 1720.8,780.9 1723.7,781.0 1726.6,781.2 1729.6,781.3 1732.5,781.5 1735.4,781.6 1738.3,781.8 1741.2,781.9 1744.1,782.1 1747.0,782.2 1749.9,782.3 1752.8,782.5 1755.7,782.6 1758.6,782.8 1761.5,782.9 1764.4,783.1 1767.3,783.2 1770.1,783.3 1773.0,783.5 1775.9,783.6 1778.8,783.8 1781.7,783.9 1784.6,784.0 1787.4,784.2 1790.3,784.3 1793.2,784.4 1796.1,784.6 1799.0,784.7 1801.9,784.9 1804.8,785.0 1807.7,785.1 1810.6,785.3 1813.5,785.4 1816.4,785.5 1819.3,785.7 1822.2,785.8 1825.1,785.9 1828.1,786.1 1831.0,786.2 1833.9,786.3 1836.9,786.5 1839.8,786.6 1842.8,786.7 1845.8,786.9 1848.7,787.0 1851.7,787.1 1854.7,787.3 1857.7,787.4 1860.7,787.5 1863.7,787.7 1866.7,787.8 1869.8,787.9 1872.8,788.1 1875.9,788.2 1878.9,788.3 1882.0,788.5 1885.1,788.6 1888.2,788.7 1891.3,788.9 1894.4,789.0 1897.6,789.1 1900.7,789.3 1903.9,789.4 1907.1,789.5 1910.3,789.7 1913.5,789.8 1916.7,789.9 1919.9,790.1 1923.2,790.2 1926.4,790.3 1929.7,790.5 1933.0,790.6 1936.3,790.7 1939.7,790.9 1943.0,791.0 1946.4,791.1 1949.7,791.3 1953.1,791.4 1956.6,791.6 1960.0,791.7 1962.6,791.8 1965.2,791.9 1967.8,792.0 1970.4,792.1 1973.0,792.2 1975.7,792.3 1978.3,792.4 1981.0,792.5 1983.7,792.6 1986.4,792.7 1989.0,792.8 1991.7,792.9 1994.5,793.0 1997.2,793.2 1999.9,793.3 2002.7,793.4 2005.4,793.5 2008.2,793.6 2010.9,793.7 2013.7,793.8 2016.5,793.9 2019.3,794.0 2022.1,794.1 2024.9,794.2 2027.7,794.3 2030.5,794.4 2033.4,794.5 2036.2,794.6 2039.1,794.7 2041.9,794.8 2044.8,794.9 2047.7,795.0 2050.6,795.1 2053.5,795.2 2056.4,795.3 2059.3,795.4 2062.2,795.5 2065.1,795.6 2068.0,795.8 2071.0,795.9 2073.9,796.0 2076.8,796.1 2079.8,796.2 2082.8,796.3 2085.7,796.4 2088.7,796.5 2091.7,796.6 2094.7,796.7 2097.6,796.8 2100.6,796.9 2103.6,797.0 2106.6,797.1 2109.7,797.2 2112.7,797.3 2115.7,797.4 2118.7,797.5 2121.8,797.6 2124.8,797.7 2127.8,797.8 2130.9,797.9 2133.9,798.0 2137.0,798.1 2140.0,798.2 2143.1,798.3 2146.2,798.5 2149.2,798.6 2152.3,798.7 2155.4,798.8 2158.5,798.9 2161.6,799.0 2164.7,799.1 2167.8,799.2 2170.8,799.3 2173.9,799.4 2177.0,799.5 2180.2,799.6 2183.3,799.7 2186.4,799.8 2189.5,799.9 2192.6,800.0 2195.7,800.1 2198.8,800.2 2202.0,800.3 2205.1,800.4 2208.2,800.5 2211.3,800.6 2214.5,800.7 2217.6,800.8 2220.7,800.9 2223.9,801.1 2227.0,801.2 2230.1,801.3 2233.3,801.4 2236.4,801.5 2239.6,801.6 2242.7,801.7 2245.8,801.8 2249.0,801.9 2252.1,802.0 2255.3,802.1 2258.4,802.2 2261.5,802.3 2264.7,802.4 2267.8,802.5 2271.0,802.6 2274.1,802.7 2277.2,802.8 2280.4,802.9 2283.5,803.0 2286.7,803.1 2289.8,803.2 2292.9,803.3 2296.1,803.4 2299.2,803.5 2302.3,803.7 2305.5,803.8 2308.6,803.9 2311.7,804.0 2314.8,804.1 2318.0,804.2 2321.1,804.3 2324.2,804.4 2327.3,804.5 2330.4,804.6 2333.6,804.7 2336.7,804.8 2339.8,804.9 2342.9,805.0 2346.0,805.1 2349.1,805.2 2352.2,805.3 2355.3,805.4 2358.3,805.5 2361.4,805.6 2364.5,805.7 2367.6,805.8 2370.7,805.9 2373.7,806.0 2376.8,806.1 2379.9,806.3 2382.9,806.4 2386.0,806.5 2389.0,806.6 2392.1,806.7 2395.1,806.8 2398.1,806.9 2401.2,807.0 2402.9,807.0"/>
<polygon points="2402.8,811.7 2416.2,807.5 2403.1,802.4"/>
<path d="M1564.2,651.2 1386.9,710.3"/>
<polygon points="1385.4,705.9 1374.2,714.5 1388.4,714.7"/>
<path d="M1581.8,651.2 1484.5,707.8"/>
<polygon points="1482.2,703.8 1473.0,714.5 1486.9,711.8"/>
<path d="M1604.2,651.2 1604.2,654.4 1604.2,657.5 1604.2,661.2 1604.3,663.8 1604.3,666.7 1604.3,670.0 1604.2,673.6 1604.2,677.3 1604.2,681.0 1604.2,684.7 1604.2,688.2 1604.2,691.5 1604.2,693.7"/>
<polygon points="1599.6,693.7 1604.2,707.0 1608.9,693.7"/>
<path d="M1623.0,651.2 1625.6,653.0 1628.2,654.7 1630.8,656.4 1633.4,658.2 1636.0,659.9 1638.7,661.6 1641.3,663.3 1644.0,665.0 1646.6,666.7 1649.3,668.5 1651.9,670.2 1654.5,671.9 1657.2,673.6 1659.8,675.3 1662.4,677.0 1665.0,678.8 1667.6,680.5 1670.2,682.2 1672.7,684.0 1675.3,685.7 1677.8,687.5 1680.3,689.2 1682.8,691.0 1685.2,692.7 1687.6,694.5 1690.0,696.3 1692.5,698.2 1695.0,700.2 1697.4,702.1 1699.8,704.1 1702.1,706.0 1704.4,708.0 1706.7,709.9 1709.0,711.9 1711.2,713.9 1713.4,715.9 1715.7,717.8 1717.9,719.8 1720.1,721.8 1722.4,723.8 1724.7,725.8 1727.0,727.8 1729.4,729.8 1731.8,731.9 1734.2,733.9 1736.8,735.9 1739.3,738.0 1742.0,740.0 1744.2,741.7 1746.4,743.3 1748.7,745.0 1751.0,746.7 1753.3,748.4 1755.7,750.0 1758.1,751.7 1760.5,753.4 1763.0,755.1 1765.4,756.8 1767.9,758.6 1770.4,760.3 1773.0,762.0 1775.5,763.7 1778.1,765.4 1780.6,767.1 1783.2,768.9 1785.8,770.6 1788.4,772.3 1791.0,774.1 1793.6,775.8 1796.2,777.5 1798.8,779.3 1801.4,781.0 1804.0,782.7 1806.6,784.4 1809.2,786.2 1811.8,787.9 1813.5,789.0"/>
<polygon points="1810.8,792.9 1824.5,796.5 1816.1,785.2"/>
<path d="M1633.0,651.2 1763.3,709.1"/>
<polygon points="1761.4,713.4 1775.5,714.5 1765.2,704.8"/>
<path d="M1661.8,651.2 1858.7,710.7"/>
<polygon points="1857.4,715.1 1871.5,714.5 1860.1,706.2"/>
<path d="M2196.2,651.2 2075.8,708.8"/>
<polygon points="2073.8,704.5 2063.8,714.5 2077.8,713.0"/>
<path d="M2210.0,651.2 2155.7,705.1"/>
<polygon points="2152.4,701.8 2146.2,714.5 2159.0,708.4"/>
<path d="M2233.8,651.2 2273.2,703.8"/>
<polygon points="2269.5,706.6 2281.2,714.5 2277.0,701.0"/>
<path d="M2430.4,650.5 2477.7,704.5"/>
<polygon points="2474.2,707.6 2486.5,714.5 2481.2,701.4"/>
<path d="M2457.5,650.5 2460.4,651.6 2463.3,652.7 2466.2,653.8 2469.1,654.9 2472.1,656.0 2475.0,657.1 2478.0,658.2 2481.0,659.3 2484.0,660.5 2487.0,661.6 2490.0,662.7 2493.0,663.8 2496.0,664.9 2499.0,666.0 2502.0,667.2 2504.9,668.3 2507.9,669.4 2510.9,670.5 2513.8,671.6 2516.7,672.7 2519.7,673.8 2522.5,674.9 2525.4,676.0 2528.3,677.1 2531.1,678.2 2533.9,679.3 2536.6,680.3 2539.4,681.4 2542.1,682.5 2544.7,683.5 2547.4,684.6 2550.0,685.6 2552.5,686.7 2555.0,687.7 2558.1,689.0 2561.1,690.3 2564.1,691.5 2566.9,692.8 2569.8,694.0 2572.6,695.3 2575.4,696.5 2578.1,697.7 2580.8,698.9 2583.4,700.2 2586.1,701.4 2588.7,702.6 2591.3,703.8 2593.9,705.0 2596.5,706.2 2599.2,707.4 2600.4,708.0"/>
<polygon points="2598.4,712.2 2612.5,713.5 2602.3,703.7"/>
<path d="M856.5,740.0 808.5,787.2"/>
<polygon points="805.2,783.8 799.0,796.5 811.8,790.5"/>
<path d="M884.0,740.0 933.1,787.3"/>
<polygon points="929.9,790.6 942.8,796.5 936.4,783.9"/>
<path d="M921.5,740.0 924.5,740.5 927.5,741.0 930.5,741.5 933.4,742.1 936.4,742.6 939.4,743.1 942.3,743.7 945.2,744.2 948.2,744.7 951.1,745.3 954.0,745.8 956.9,746.3 959.9,746.9 962.8,747.4 965.7,748.0 968.6,748.5 971.5,749.0 974.4,749.6 977.3,750.1 980.2,750.7 983.1,751.2 986.1,751.7 989.0,752.3 991.9,752.8 994.8,753.3 997.8,753.9 1000.7,754.4 1003.7,754.9 1006.6,755.5 1009.6,756.0 1012.6,756.5 1015.6,757.0 1018.6,757.5 1021.6,758.0 1024.7,758.5 1027.7,759.0 1030.8,759.5 1033.9,760.0 1037.0,760.5 1040.1,761.0 1043.2,761.4 1046.4,761.9 1049.5,762.4 1052.7,762.8 1055.9,763.3 1059.2,763.7 1062.4,764.2 1065.7,764.6 1069.0,765.0 1071.7,765.3 1074.4,765.7 1077.2,766.0 1080.0,766.3 1082.8,766.6 1085.6,767.0 1088.4,767.3 1091.3,767.6 1094.1,767.9 1097.0,768.2 1099.9,768.5 1102.8,768.8 1105.8,769.1 1108.7,769.4 1111.7,769.7 1114.7,769.9 1117.7,770.2 1120.7,770.5 1123.7,770.8 1126.7,771.1 1129.8,771.3 1132.8,771.6 1135.9,771.8 1138.9,772.1 1142.0,772.4 1145.1,772.6 1148.2,772.9 1151.3,773.1 1154.4,773.4 1157.5,773.6 1160.6,773.9 1163.7,774.1 1166.8,774.4 1170.0,774.6 1173.1,774.8 1176.2,775.1 1179.4,775.3 1182.5,775.5 1185.6,775.8 1188.8,776.0 1191.9,776.2 1195.0,776.4 1198.1,776.7 1201.3,776.9 1204.4,777.1 1207.5,777.3 1210.6,777.5 1213.7,777.8 1216.8,778.0 1219.9,778.2 1223.0,778.4 1226.1,778.6 1229.2,778.8 1232.2,779.0 1235.3,779.2 1238.3,779.5 1241.4,779.7 1244.4,779.9 1247.4,780.1 1250.4,780.3 1253.4,780.5 1256.4,780.7 1259.3,780.9 1262.3,781.1 1265.2,781.3 1268.1,781.5 1271.0,781.7 1273.9,782.0 1276.7,782.2 1279.6,782.4 1282.4,782.6 1285.2,782.8 1288.0,783.0 1291.2,783.2 1294.4,783.5 1297.5,783.7 1300.6,784.0 1303.7,784.2 1306.8,784.4 1309.8,784.7 1312.8,784.9 1315.8,785.1 1318.7,785.3 1321.7,785.6 1324.6,785.8 1327.5,786.0 1330.4,786.2 1333.3,786.4 1336.1,786.6 1339.0,786.9 1341.8,787.1 1344.6,787.3 1347.5,787.5 1350.3,787.7 1353.1,787.9 1355.9,788.1 1358.7,788.3 1361.5,788.5 1364.3,788.7 1367.2,788.9 1370.0,789.1 1372.8,789.3 1375.6,789.5 1378.5,789.7 1381.3,789.9 1384.2,790.1 1387.1,790.3 1390.0,790.5 1392.9,790.7 1395.8,790.9 1398.8,791.1 1401.8,791.3 1404.8,791.5 1407.8,791.7 1410.9,791.9 1413.9,792.1 1417.0,792.3 1420.2,792.5 1423.3,792.6 1426.5,792.8 1429.8,793.0 1433.0,793.2 1436.4,793.4 1439.7,793.6 1443.1,793.8 1446.5,794.0 1450.0,794.2 1452.5,794.3 1455.1,794.5 1457.6,794.6 1460.2,794.8 1462.8,794.9 1465.4,795.0 1468.0,795.2 1470.7,795.3 1473.3,795.4 1476.0,795.6 1478.7,795.7 1481.4,795.8 1484.1,796.0 1486.9,796.1 1489.6,796.3 1492.4,796.4 1495.2,796.5 1498.0,796.7 1500.8,796.8 1503.7,796.9 1506.5,797.0 1509.4,797.2 1512.2,797.3 1515.1,797.4 1518.0,797.6 1520.9,797.7 1523.8,797.8 1526.8,798.0 1529.7,798.1 1532.7,798.2 1535.6,798.3 1538.6,798.5 1541.6,798.6 1544.6,798.7 1547.6,798.9 1550.6,799.0 1553.6,799.1 1556.6,799.2 1559.7,799.4 1562.7,799.5 1565.8,799.6 1568.9,799.7 1571.9,799.9 1575.0,800.0 1578.1,800.1 1581.2,800.3 1584.3,800.4 1587.4,800.5 1590.5,800.6 1593.6,800.8 1596.8,800.9 1599.9,801.0 1603.0,801.1 1606.2,801.2 1609.3,801.4 1612.4,801.5 1615.6,801.6 1618.8,801.7 1621.9,801.9 1625.1,802.0 1628.2,802.1 1631.4,802.2 1634.6,802.4 1637.7,802.5 1640.9,802.6 1644.1,802.7 1647.3,802.9 1650.4,803.0 1653.6,803.1 1656.8,803.2 1660.0,803.4 1663.1,803.5 1666.3,803.6 1669.5,803.7 1672.7,803.8 1675.8,804.0 1679.0,804.1 1682.2,804.2 1685.3,804.3 1688.5,804.5 1691.7,804.6 1694.8,804.7 1698.0,804.8 1701.1,805.0 1704.3,805.1 1707.4,805.2 1710.6,805.3 1713.7,805.5 1716.8,805.6 1719.9,805.7 1723.1,805.8 1726.2,806.0 1729.3,806.1 1732.4,806.2 1735.5,806.3 1738.6,806.5 1741.6,806.6 1744.7,806.7 1747.8,806.8 1750.8,807.0 1752.7,807.0"/>
<polygon points="1752.5,811.7 1766.0,807.6 1752.9,802.4"/>
<path d="M1009.0,740.0 1006.0,740.4 1003.0,740.8 1000.0,741.2 996.9,741.6 993.9,742.0 990.8,742.4 987.7,742.8 984.6,743.2 981.5,743.6 978.4,744.0 975.3,744.4 972.1,744.8 969.0,745.2 965.8,745.6 962.7,746.0 959.5,746.4 956.3,746.9 953.1,747.3 949.9,747.7 946.7,748.1 943.5,748.5 940.2,749.0 937.0,749.4 933.7,749.8 930.5,750.2 927.2,750.6 924.0,751.1 920.7,751.5 917.5,751.9 914.2,752.3 910.9,752.8 907.6,753.2 904.3,753.6 901.1,754.0 897.8,754.5 894.5,754.9 891.2,755.3 887.9,755.8 884.6,756.2 881.3,756.6 878.0,757.0 874.7,757.5 871.4,757.9 868.1,758.3 864.8,758.8 861.6,759.2 858.3,759.6 855.0,760.0 851.7,760.5 848.4,760.9 845.1,761.3 841.9,761.8 838.6,762.2 835.3,762.6 832.1,763.0 828.8,763.5 825.6,763.9 822.3,764.3 819.1,764.7 815.9,765.1 812.6,765.6 809.4,766.0 806.2,766.4 803.0,766.8 799.8,767.2 796.6,767.6 793.5,768.1 790.3,768.5 787.1,768.9 784.0,769.3 780.9,769.7 777.8,770.1 774.6,770.5 771.5,770.9 768.5,771.3 765.4,771.7 762.3,772.1 759.3,772.5 756.3,772.9 753.2,773.3 750.2,773.7 747.2,774.1 744.3,774.5 741.3,774.8 738.4,775.2 735.4,775.6 732.5,776.0 729.6,776.4 726.8,776.7 723.9,777.1 721.1,777.5 718.2,777.8 715.4,778.2 712.7,778.6 709.9,778.9 707.1,779.3 704.4,779.6 701.7,780.0 699.0,780.3 696.4,780.7 693.7,781.0 691.1,781.4 688.5,781.7 686.0,782.0 683.4,782.4 680.9,782.7 678.4,783.0 675.9,783.4 673.5,783.7 671.0,784.0 668.6,784.3 666.3,784.6 663.9,784.9 661.6,785.2 659.3,785.5 657.0,785.8 654.8,786.1 652.6,786.4 650.4,786.7 648.2,787.0 646.1,787.2 644.0,787.5 640.1,788.0 636.2,788.5 632.4,789.0 628.7,789.5 625.1,790.0 621.5,790.4 618.0,790.9 614.6,791.4 611.2,791.8 607.9,792.2 604.7,792.7 601.5,793.1 598.3,793.5 595.3,793.9 592.2,794.3 589.2,794.7 586.3,795.1 583.4,795.5 580.5,795.9 577.7,796.2 574.8,796.6 572.1,797.0 569.3,797.3 566.6,797.7 563.9,798.0 561.2,798.4 558.5,798.7 555.8,799.0 553.2,799.4 550.6,799.7 547.9,800.0 545.3,800.4 542.6,800.7 540.0,801.0 536.6,801.4 533.3,801.8 530.0,802.2 526.8,802.6 523.6,803.0 520.5,803.4 517.4,803.8 514.4,804.2 511.4,804.6 508.4,805.0 505.4,805.3 502.5,805.6 499.6,806.0 496.8,806.3 493.9,806.6 491.1,806.8 488.3,807.1 485.5,807.3 482.8,807.5 480.0,807.7 476.7,807.9 473.5,808.0 470.3,808.1 467.1,808.2 464.0,808.2 461.0,808.2 457.9,808.2 454.9,808.2 451.9,808.2 450.0,808.2"/>
<polygon points="450.0,803.5 436.7,808.2 450.0,812.9"/>
<path d="M1134.0,740.0 1137.0,740.4 1140.0,740.8 1143.1,741.3 1146.1,741.7 1149.1,742.1 1152.1,742.6 1155.1,743.0 1158.1,743.4 1161.1,743.9 1164.1,744.3 1167.1,744.7 1170.1,745.2 1173.2,745.6 1176.2,746.0 1179.2,746.5 1182.2,746.9 1185.2,747.3 1188.2,747.8 1191.2,748.2 1194.2,748.6 1197.2,749.1 1200.2,749.5 1203.2,750.0 1206.2,750.4 1209.2,750.8 1212.2,751.3 1215.3,751.7 1218.3,752.1 1221.3,752.5 1224.3,753.0 1227.3,753.4 1230.3,753.8 1233.3,754.3 1236.4,754.7 1239.4,755.1 1242.4,755.5 1245.4,755.9 1248.4,756.3 1251.5,756.8 1254.5,757.2 1257.5,757.6 1260.6,758.0 1263.6,758.4 1266.6,758.8 1269.7,759.2 1272.7,759.6 1275.8,760.0 1278.8,760.4 1281.9,760.7 1284.9,761.1 1288.0,761.5 1291.0,761.9 1293.9,762.2 1296.8,762.6 1299.7,762.9 1302.6,763.3 1305.5,763.6 1308.4,764.0 1311.3,764.3 1314.1,764.6 1317.0,765.0 1319.8,765.3 1322.7,765.6 1325.5,766.0 1328.3,766.3 1331.2,766.6 1334.0,766.9 1336.8,767.2 1339.7,767.5 1342.5,767.9 1345.3,768.2 1348.2,768.5 1351.0,768.8 1353.9,769.1 1356.7,769.4 1359.6,769.7 1362.5,770.0 1365.4,770.3 1368.2,770.6 1371.1,770.9 1374.1,771.2 1377.0,771.5 1379.9,771.8 1382.9,772.1 1385.9,772.4 1388.8,772.8 1391.8,773.1 1394.9,773.4 1397.9,773.7 1401.0,774.0 1404.1,774.3 1407.2,774.6 1410.3,774.9 1413.4,775.2 1416.6,775.5 1419.8,775.8 1423.1,776.1 1426.3,776.4 1429.6,776.8 1432.9,777.1 1436.3,777.4 1439.7,777.7 1443.1,778.0 1446.5,778.4 1450.0,778.7 1452.5,778.9 1455.1,779.2 1457.6,779.4 1460.2,779.7 1462.8,779.9 1465.4,780.1 1468.0,780.4 1470.7,780.6 1473.3,780.8 1476.0,781.1 1478.7,781.3 1481.4,781.6 1484.1,781.8 1486.9,782.1 1489.6,782.3 1492.4,782.5 1495.2,782.8 1498.0,783.0 1500.8,783.3 1503.6,783.5 1506.5,783.8 1509.3,784.0 1512.2,784.3 1515.1,784.5 1518.0,784.7 1520.9,785.0 1523.8,785.2 1526.7,785.5 1529.7,785.7 1532.6,786.0 1535.6,786.2 1538.6,786.5 1541.6,786.7 1544.6,787.0 1547.6,787.2 1550.6,787.5 1553.6,787.7 1556.6,788.0 1559.7,788.2 1562.7,788.5 1565.8,788.7 1568.9,789.0 1571.9,789.2 1575.0,789.5 1578.1,789.7 1581.2,790.0 1584.3,790.2 1587.4,790.5 1590.5,790.7 1593.6,791.0 1596.8,791.2 1599.9,791.5 1603.0,791.7 1606.2,792.0 1609.3,792.2 1612.4,792.5 1615.6,792.7 1618.8,793.0 1621.9,793.2 1625.1,793.5 1628.2,793.7 1631.4,794.0 1634.6,794.2 1637.7,794.5 1640.9,794.7 1644.1,795.0 1647.3,795.3 1650.4,795.5 1653.6,795.8 1656.8,796.0 1660.0,796.3 1663.1,796.5 1666.3,796.8 1669.5,797.0 1672.7,797.3 1675.8,797.5 1679.0,797.8 1682.2,798.0 1685.3,798.3 1688.5,798.5 1691.7,798.8 1694.8,799.0 1698.0,799.3 1701.1,799.5 1704.3,799.8 1707.4,800.0 1710.6,800.3 1713.7,800.5 1716.8,800.8 1719.9,801.0 1723.1,801.3 1726.2,801.6 1729.3,801.8 1732.4,802.1 1735.5,802.3 1738.6,802.6 1741.6,802.8 1744.7,803.1 1747.8,803.3 1750.8,803.6 1752.7,803.7"/>
<polygon points="1752.3,808.4 1766.0,804.8 1753.1,799.1"/>
<path d="M1165.5,740.0 1168.5,740.3 1171.5,740.6 1174.5,740.9 1177.4,741.2 1180.4,741.4 1183.3,741.7 1186.3,742.0 1189.2,742.3 1192.2,742.6 1195.1,742.9 1198.0,743.2 1201.0,743.5 1203.9,743.8 1206.8,744.1 1209.7,744.3 1212.7,744.6 1215.6,744.9 1218.5,745.2 1221.5,745.5 1224.4,745.8 1227.4,746.1 1230.3,746.4 1233.3,746.7 1236.3,747.0 1239.2,747.2 1242.2,747.5 1245.2,747.8 1248.3,748.1 1251.3,748.4 1254.3,748.7 1257.4,749.0 1260.5,749.3 1263.5,749.6 1266.6,749.9 1269.8,750.1 1272.9,750.4 1276.1,750.7 1279.3,751.0 1282.5,751.3 1285.7,751.6 1288.5,751.9 1291.3,752.1 1294.1,752.4 1297.0,752.6 1299.8,752.9 1302.6,753.1 1305.5,753.4 1308.3,753.6 1311.2,753.9 1314.1,754.1 1316.9,754.4 1319.8,754.6 1322.7,754.9 1325.6,755.2 1328.5,755.4 1331.4,755.7 1334.4,755.9 1337.3,756.2 1340.2,756.4 1343.2,756.7 1346.1,757.0 1349.1,757.2 1352.1,757.5 1355.1,757.7 1358.1,758.0 1361.1,758.2 1364.1,758.5 1367.1,758.8 1370.2,759.0 1373.2,759.3 1376.3,759.5 1379.3,759.8 1382.4,760.0 1385.5,760.3 1388.6,760.5 1391.7,760.8 1394.9,761.0 1398.0,761.3 1401.1,761.5 1404.3,761.8 1407.5,762.0 1410.7,762.3 1413.9,762.5 1417.1,762.8 1420.3,763.0 1423.6,763.3 1426.8,763.5 1430.1,763.8 1433.4,764.0 1436.7,764.2 1440.0,764.5 1443.3,764.7 1446.6,765.0 1450.0,765.2 1452.7,765.4 1455.4,765.6 1458.2,765.8 1460.9,766.0 1463.7,766.1 1466.4,766.3 1469.2,766.5 1472.0,766.7 1474.8,766.9 1477.6,767.1 1480.5,767.3 1483.3,767.5 1486.2,767.6 1489.1,767.8 1491.9,768.0 1494.8,768.2 1497.7,768.4 1500.6,768.6 1503.6,768.8 1506.5,768.9 1509.4,769.1 1512.4,769.3 1515.3,769.5 1518.3,769.7 1521.3,769.9 1524.3,770.0 1527.3,770.2 1530.3,770.4 1533.3,770.6 1536.3,770.8 1539.3,771.0 1542.3,771.1 1545.4,771.3 1548.4,771.5 1551.5,771.7 1554.5,771.9 1557.6,772.0 1560.6,772.2 1563.7,772.4 1566.8,772.6 1569.9,772.7 1573.0,772.9 1576.0,773.1 1579.1,773.3 1582.2,773.4 1585.3,773.6 1588.4,773.8 1591.5,774.0 1594.6,774.1 1597.7,774.3 1600.9,774.5 1604.0,774.7 1607.1,774.8 1610.2,775.0 1613.3,775.2 1616.4,775.4 1619.6,775.5 1622.7,775.7 1625.8,775.9 1628.9,776.0 1632.0,776.2 1635.1,776.4 1638.3,776.5 1641.4,776.7 1644.5,776.9 1647.6,777.0 1650.7,777.2 1653.8,777.4 1656.9,777.5 1660.0,777.7 1663.1,777.9 1666.2,778.0 1669.3,778.2 1672.4,778.4 1675.5,778.5 1678.6,778.7 1681.6,778.8 1684.7,779.0 1687.8,779.2 1690.8,779.3 1693.9,779.5 1697.0,779.6 1700.0,779.8 1703.0,780.0 1706.0,780.1 1708.9,780.3 1711.9,780.4 1714.9,780.6 1717.8,780.7 1720.8,780.9 1723.7,781.0 1726.6,781.2 1729.6,781.3 1732.5,781.5 1735.4,781.6 1738.3,781.8 1741.2,781.9 1744.1,782.1 1747.0,782.2 1749.9,782.3 1752.8,782.5 1755.7,782.6 1758.6,782.8 1761.5,782.9 1764.4,783.1 1767.3,783.2 1770.1,783.3 1773.0,783.5 1775.9,783.6 1778.8,783.8 1781.7,783.9 1784.6,784.0 1787.4,784.2 1790.3,784.3 1793.2,784.4 1796.1,784.6 1799.0,784.7 1801.9,784.9 1804.8,785.0 1807.7,785.1 1810.6,785.3 1813.5,785.4 1816.4,785.5 1819.3,785.7 1822.2,785.8 1825.1,785.9 1828.1,786.1 1831.0,786.2 1833.9,786.3 1836.9,786.5 1839.8,786.6 1842.8,786.7 1845.8,786.9 1848.7,787.0 1851.7,787.1 1854.7,787.3 1857.7,787.4 1860.7,787.5 1863.7,787.7 1866.7,787.8 1869.8,787.9 1872.8,788.1 1875.9,788.2 1878.9,788.3 1882.0,788.5 1885.1,788.6 1888.2,788.7 1891.3,788.9 1894.4,789.0 1897.6,789.1 1900.7,789.3 1903.9,789.4 1907.1,789.5 1910.3,789.7 1913.5,789.8 1916.7,789.9 1919.9,790.1 1923.2,790.2 1926.4,790.3 1929.7,790.5 1933.0,790.6 1936.3,790.7 1939.7,790.9 1943.0,791.0 1946.4,791.1 1949.7,791.3 1953.1,791.4 1956.6,791.6 1960.0,791.7 1962.6,791.8 1965.2,791.9 1967.8,792.0 1970.4,792.1 1973.0,792.2 1975.7,792.3 1978.3,792.4 1981.0,792.5 1983.7,792.6 1986.4,792.7 1989.0,792.8 1991.7,792.9 1994.5,793.0 1997.2,793.2 1999.9,793.3 2002.7,793.4 2005.4,793.5 2008.2,793.6 2010.9,793.7 2013.7,793.8 2016.5,793.9 2019.3,794.0 2022.1,794.1 2024.9,794.2 2027.7,794.3 2030.5,794.4 2033.4,794.5 2036.2,794.6 2039.1,794.7 2041.9,794.8 2044.8,794.9 2047.7,795.0 2050.6,795.1 2053.5,795.2 2056.4,795.3 2059.3,795.4 2062.2,795.5 2065.1,795.6 2068.0,795.8 2071.0,795.9 2073.9,796.0 2076.8,796.1 2079.8,796.2 2082.8,796.3 2085.7,796.4 2088.7,796.5 2091.7,796.6 2094.7,796.7 2097.6,796.8 2100.6,796.9 2103.6,797.0 2106.6,797.1 2109.7,797.2 2112.7,797.3 2115.7,797.4 2118.7,797.5 2121.8,797.6 2124.8,797.7 2127.8,797.8 2130.9,797.9 2133.9,798.0 2137.0,798.1 2140.0,798.2 2143.1,798.3 2146.2,798.5 2149.2,798.6 2152.3,798.7 2155.4,798.8 2158.5,798.9 2161.6,799.0 2164.7,799.1 2167.8,799.2 2170.8,799.3 2173.9,799.4 2177.0,799.5 2180.2,799.6 2183.3,799.7 2186.4,799.8 2189.5,799.9 2192.6,800.0 2195.7,800.1 2198.8,800.2 2202.0,800.3 2205.1,800.4 2208.2,800.5 2211.3,800.6 2214.5,800.7 2217.6,800.8 2220.7,800.9 2223.9,801.1 2227.0,801.2 2230.1,801.3 2233.3,801.4 2236.4,801.5 2239.6,801.6 2242.7,801.7 2245.8,801.8 2249.0,801.9 2252.1,802.0 2255.3,802.1 2258.4,802.2 2261.5,802.3 2264.7,802.4 2267.8,802.5 2271.0,802.6 2274.1,802.7 2277.2,802.8 2280.4,802.9 2283.5,803.0 2286.7,803.1 2289.8,803.2 2292.9,803.3 2296.1,803.4 2299.2,803.5 2302.3,803.7 2305.5,803.8 2308.6,803.9 2311.7,804.0 2314.8,804.1 2318.0,804.2 2321.1,804.3 2324.2,804.4 2327.3,804.5 2330.4,804.6 2333.6,804.7 2336.7,804.8 2339.8,804.9 2342.9,805.0 2346.0,805.1 2349.1,805.2 2352.2,805.3 2355.3,805.4 2358.3,805.5 2361.4,805.6 2364.5,805.7 2367.6,805.8 2370.7,805.9 2373.7,806.0 2376.8,806.1 2379.9,806.3 2382.9,806.4 2386.0,806.5 2389.0,806.6 2392.1,806.7 2395.1,806.8 2398.1,806.9 2401.2,807.0 2402.9,807.0"/>
<polygon points="2402.8,811.7 2416.2,807.5 2403.1,802.4"/>
<path d="M2441.2,740.0 2438.3,740.5 2435.3,741.0 2432.4,741.4 2429.5,741.9 2426.5,742.4 2423.6,742.9 2420.7,743.4 2417.7,743.9 2414.8,744.4 2411.9,744.9 2409.0,745.4 2406.1,745.9 2403.2,746.4 2400.3,746.9 2397.4,747.4 2394.5,747.9 2391.7,748.4 2388.8,748.9 2385.9,749.4 2383.0,749.9 2380.1,750.4 2377.3,750.9 2374.4,751.4 2371.5,751.9 2368.6,752.4 2365.7,752.9 2362.9,753.4 2360.0,753.9 2357.1,754.4 2354.2,754.9 2351.3,755.4 2348.5,755.9 2345.6,756.4 2342.7,756.9 2339.8,757.4 2336.9,757.9 2334.0,758.4 2331.1,758.9 2328.2,759.4 2325.3,759.9 2322.4,760.4 2319.4,760.9 2316.5,761.4 2313.6,761.9 2310.6,762.4 2307.7,762.8 2304.8,763.3 2301.8,763.8 2298.8,764.3 2295.9,764.8 2292.9,765.2 2289.9,765.7 2286.9,766.2 2283.9,766.7 2280.9,767.1 2277.9,767.6 2274.9,768.0 2271.8,768.5 2268.8,769.0 2265.7,769.4 2262.7,769.9 2259.6,770.3 2256.5,770.7 2253.4,771.2 2250.3,771.6 2247.2,772.1 2244.1,772.5 2240.9,772.9 2237.8,773.3 2234.6,773.8 2231.4,774.2 2228.2,774.6 2225.0,775.0 2222.2,775.3 2219.5,775.7 2216.7,776.0 2213.9,776.4 2211.1,776.7 2208.3,777.0 2205.4,777.4 2202.6,777.7 2199.8,778.0 2196.9,778.3 2194.1,778.7 2191.2,779.0 2188.3,779.3 2185.4,779.6 2182.5,779.9 2179.6,780.2 2176.7,780.5 2173.8,780.8 2170.9,781.1 2168.0,781.4 2165.0,781.7 2162.1,782.0 2159.1,782.3 2156.2,782.6 2153.2,782.9 2150.2,783.2 2147.2,783.5 2144.3,783.8 2141.3,784.1 2138.3,784.3 2135.3,784.6 2132.3,784.9 2129.3,785.2 2126.2,785.4 2123.2,785.7 2120.2,786.0 2117.2,786.3 2114.1,786.5 2111.1,786.8 2108.0,787.1 2105.0,787.3 2101.9,787.6 2098.9,787.9 2095.8,788.1 2092.8,788.4 2089.7,788.6 2086.6,788.9 2083.6,789.2 2080.5,789.4 2077.4,789.7 2074.3,789.9 2071.2,790.2 2068.1,790.4 2065.1,790.7 2062.0,790.9 2058.9,791.2 2055.8,791.5 2052.7,791.7 2049.6,792.0 2046.5,792.2 2043.4,792.5 2040.3,792.7 2037.2,793.0 2034.1,793.2 2031.0,793.5 2027.9,793.7 2024.8,794.0 2021.7,794.2 2018.6,794.5 2015.5,794.7 2012.4,795.0 2009.3,795.2 2006.2,795.5 2003.1,795.7 2000.0,796.0 1996.9,796.2 1993.8,796.5 1990.7,796.7 1987.6,797.0 1984.5,797.2 1981.5,797.5 1978.4,797.7 1975.3,798.0 1972.2,798.3 1969.1,798.5 1966.1,798.8 1963.0,799.0 1959.9,799.3 1956.9,799.6 1953.8,799.8 1950.7,800.1 1947.7,800.3 1944.6,800.6 1941.6,800.9 1938.5,801.1 1936.7,801.3"/>
<polygon points="1936.3,796.7 1923.4,802.5 1937.1,806.0"/>
</g>
<g class="n">
<rect x="978.67" y="6.00" width="197.34" height="40.00" fill="#bfbfbf" stroke="#000000"/>
<text x="989.97" y="21.90" textLength="130.83" lengthAdjust="spacingAndGlyphs">GaudiKernel/include</text>
<text x="989.97" y="37.10" textLength="175.58" lengthAdjust="spacingAndGlyphs">/GaudiKernel/IClassIDSvc.h</text>
<rect x="378.67" y="796.67" width="58.66" height="25.33" fill="#ffffff" stroke="#bfbfbf"/>
<text x="408.00" y="812.34" text-anchor="middle" textLength="37.42" lengthAdjust="spacingAndGlyphs">string</text>
<rect x="233.33" y="95.33" width="169.34" height="25.34" fill="#ffffff" stroke="#000000"/>
<text x="318.00" y="111.00" text-anchor="middle" textLength="148.03" lengthAdjust="spacingAndGlyphs">GaudiKernel/IService.h</text>
<rect x="1508.67" y="625.33" width="190.66" height="25.34" fill="#ffffff" stroke="#000000"/>
<text x="1604.00" y="641.00" text-anchor="middle" textLength="170.92" lengthAdjust="spacingAndGlyphs">GaudiKernel/StatusCode.h</text>
<rect x="2227.33" y="170.00" width="166.66" height="25.33" fill="#ffffff" stroke="#000000"/>
<text x="2310.66" y="185.67" text-anchor="middle" textLength="144.19" lengthAdjust="spacingAndGlyphs">GaudiKernel/ClassID.h</text>
<rect x="93.33" y="468.67" width="226.66" height="25.33" fill="#ffffff" stroke="#000000"/>
<text x="206.66" y="484.34" text-anchor="middle" textLength="204.95" lengthAdjust="spacingAndGlyphs">GaudiKernel/INamedInterface.h</text>
<rect x="308.67" y="170.00" width="172.00" height="25.33" fill="#ffffff" stroke="#000000"/>
<text x="394.67" y="185.67" text-anchor="middle" textLength="150.83" lengthAdjust="spacingAndGlyphs">GaudiKernel/IStateful.h</text>
<rect x="894.00" y="543.33" width="178.66" height="25.34" fill="#ffffff" stroke="#000000"/>
<text x="983.33" y="559.00" text-anchor="middle" textLength="158.22" lengthAdjust="spacingAndGlyphs">GaudiKernel/IInterface.h</text>
<rect x="546.67" y="625.33" width="194.66" height="25.34" fill="#ffffff" stroke="#000000"/>
<text x="644.00" y="641.00" text-anchor="middle" textLength="173.13" lengthAdjust="spacingAndGlyphs">GaudiKernel/implements.h</text>
<rect x="638.00" y="714.67" width="76.00" height="25.33" fill="#ffffff" stroke="#bfbfbf"/>
<text x="676.00" y="730.34" text-anchor="middle" textLength="53.57" lengthAdjust="spacingAndGlyphs">typeinfo</text>
<rect x="816.67" y="618.00" width="150.66" height="40.00" fill="#ffffff" stroke="#000000"/>
<text x="892.00" y="633.90" text-anchor="middle" textLength="128.78" lengthAdjust="spacingAndGlyphs">GaudiKernel/extend</text>
<text x="892.00" y="649.10" text-anchor="middle" textLength="83.86" lengthAdjust="spacingAndGlyphs">_interfaces.h</text>
<rect x="990.67" y="625.33" width="169.34" height="25.34" fill="#ffffff" stroke="#000000"/>
<text x="1075.34" y="641.00" text-anchor="middle" textLength="147.97" lengthAdjust="spacingAndGlyphs">GaudiKernel/extends.h</text>
<rect x="1184.67" y="625.33" width="166.66" height="25.34" fill="#ffffff" stroke="#000000"/>
<text x="1268.00" y="641.00" text-anchor="middle" textLength="144.62" lengthAdjust="spacingAndGlyphs">GaudiKernel/System.h</text>
<rect x="1764.67" y="796.67" width="158.66" height="25.33" fill="#ffffff" stroke="#000000"/>
<text x="1844.00" y="812.34" text-anchor="middle" textLength="136.96" lengthAdjust="spacingAndGlyphs">GaudiKernel/Kernel.h</text>
<rect x="1291.33" y="714.67" width="92.00" height="25.33" fill="#ffffff" stroke="#bfbfbf"/>
<text x="1337.33" y="730.34" text-anchor="middle" textLength="69.63" lengthAdjust="spacingAndGlyphs">type_traits</text>
<rect x="1764.00" y="714.67" width="76.00" height="25.33" fill="#ffffff" stroke="#bfbfbf"/>
<text x="1802.00" y="730.34" text-anchor="middle" textLength="53.66" lengthAdjust="spacingAndGlyphs">ostream</text>
<rect x="546.67" y="714.67" width="66.66" height="25.33" fill="#ffffff" stroke="#bfbfbf"/>
<text x="580.00" y="730.34" text-anchor="middle" textLength="44.57" lengthAdjust="spacingAndGlyphs">atomic</text>
<rect x="788.67" y="714.67" width="162.66" height="25.33" fill="#ffffff" stroke="#000000"/>
<text x="870.00" y="730.34" text-anchor="middle" textLength="140.05" lengthAdjust="spacingAndGlyphs">GaudiKernel/Timing.h</text>
<rect x="974.67" y="714.67" width="190.66" height="25.33" fill="#ffffff" stroke="#000000"/>
<text x="1070.00" y="730.34" text-anchor="middle" textLength="167.85" lengthAdjust="spacingAndGlyphs">GaudiKernel/ModuleInfo.h</text>
<rect x="2416.67" y="796.67" width="62.66" height="25.33" fill="#ffffff" stroke="#bfbfbf"/>
<text x="2448.00" y="812.34" text-anchor="middle" textLength="41.35" lengthAdjust="spacingAndGlyphs">vector</text>
<rect x="687.33" y="796.67" width="198.66" height="25.33" fill="#ffffff" stroke="#000000"/>
<text x="786.66" y="812.34" text-anchor="middle" textLength="176.37" lengthAdjust="spacingAndGlyphs">GaudiKernel/SystemBase.h</text>
<rect x="909.33" y="796.67" width="90.66" height="25.33" fill="#ffffff" stroke="#bfbfbf"/>
<text x="954.66" y="812.34" text-anchor="middle" textLength="67.55" lengthAdjust="spacingAndGlyphs">sys/time.h</text>
<rect x="1406.67" y="714.67" width="86.66" height="25.33" fill="#ffffff" stroke="#bfbfbf"/>
<text x="1450.00" y="730.34" text-anchor="middle" textLength="64.87" lengthAdjust="spacingAndGlyphs">functional</text>
<rect x="1518.67" y="707.33" width="170.66" height="40.00" fill="#ffffff" stroke="#bfbfbf"/>
<text x="1529.97" y="723.23" textLength="125.33" lengthAdjust="spacingAndGlyphs">boost/preprocessor</text>
<text x="1529.97" y="738.43" textLength="148.83" lengthAdjust="spacingAndGlyphs">/facilities/overload.hpp</text>
<rect x="1864.67" y="714.67" width="60.00" height="25.33" fill="#ffffff" stroke="#bfbfbf"/>
<text x="1894.67" y="730.34" text-anchor="middle" textLength="37.07" lengthAdjust="spacingAndGlyphs">utility</text>
<rect x="740.67" y="244.67" width="206.66" height="25.33" fill="#ffffff" stroke="#000000"/>
<text x="844.00" y="260.33" text-anchor="middle" textLength="185.09" lengthAdjust="spacingAndGlyphs">GaudiKernel/StateMachine.h</text>
<rect x="1142.67" y="319.33" width="218.66" height="25.34" fill="#ffffff" stroke="#000000"/>
<text x="1252.00" y="335.00" text-anchor="middle" textLength="198.42" lengthAdjust="spacingAndGlyphs">GaudiKernel/GaudiException.h</text>
<rect x="1046.00" y="394.00" width="86.66" height="25.33" fill="#ffffff" stroke="#bfbfbf"/>
<text x="1089.33" y="409.66" text-anchor="middle" textLength="63.71" lengthAdjust="spacingAndGlyphs">exception</text>
<rect x="1156.67" y="394.00" width="190.66" height="25.33" fill="#ffffff" stroke="#000000"/>
<text x="1252.00" y="409.66" text-anchor="middle" textLength="169.49" lengthAdjust="spacingAndGlyphs">GaudiKernel/MsgStream.h</text>
<rect x="1230.67" y="543.33" width="80.00" height="25.34" fill="#ffffff" stroke="#bfbfbf"/>
<text x="1270.67" y="559.00" text-anchor="middle" textLength="57.28" lengthAdjust="spacingAndGlyphs">iostream</text>
<rect x="882.67" y="468.67" width="202.66" height="25.33" fill="#ffffff" stroke="#000000"/>
<text x="984.00" y="484.34" text-anchor="middle" textLength="180.15" lengthAdjust="spacingAndGlyphs">GaudiKernel/IMessageSvc.h</text>
<rect x="1108.67" y="468.67" width="61.34" height="25.33" fill="#ffffff" stroke="#bfbfbf"/>
<text x="1139.34" y="484.34" text-anchor="middle" textLength="38.94" lengthAdjust="spacingAndGlyphs">cstdio</text>
<rect x="1194.67" y="468.67" width="74.66" height="25.33" fill="#ffffff" stroke="#bfbfbf"/>
<text x="1232.00" y="484.34" text-anchor="middle" textLength="52.45" lengthAdjust="spacingAndGlyphs">iomanip</text>
<rect x="1293.33" y="468.67" width="74.66" height="25.33" fill="#ffffff" stroke="#bfbfbf"/>
<text x="1330.66" y="484.34" text-anchor="middle" textLength="52.48" lengthAdjust="spacingAndGlyphs">sstream</text>
<rect x="1901.33" y="468.67" width="196.00" height="25.33" fill="#ffffff" stroke="#000000"/>
<text x="1999.33" y="484.34" text-anchor="middle" textLength="174.88" lengthAdjust="spacingAndGlyphs">GaudiKernel/SerializeSTL.h</text>
<rect x="1839.33" y="543.33" width="56.00" height="25.34" fill="#ffffff" stroke="#bfbfbf"/>
<text x="1867.33" y="559.00" text-anchor="middle" textLength="34.18" lengthAdjust="spacingAndGlyphs">array</text>
<rect x="1920.00" y="543.33" width="42.66" height="25.34" fill="#ffffff" stroke="#bfbfbf"/>
<text x="1941.33" y="559.00" text-anchor="middle" textLength="19.15" lengthAdjust="spacingAndGlyphs">list</text>
<rect x="2086.00" y="543.33" width="178.66" height="25.34" fill="#ffffff" stroke="#000000"/>
<text x="2175.33" y="559.00" text-anchor="middle" textLength="156.36" lengthAdjust="spacingAndGlyphs">GaudiKernel/HashMap.h</text>
<rect x="2346.00" y="625.33" width="145.34" height="25.34" fill="#ffffff" stroke="#000000"/>
<text x="2418.67" y="641.00" text-anchor="middle" textLength="123.52" lengthAdjust="spacingAndGlyphs">GaudiKernel/Map.h</text>
<rect x="2610.67" y="714.67" width="50.66" height="25.33" fill="#ffffff" stroke="#bfbfbf"/>
<text x="2636.00" y="730.34" text-anchor="middle" textLength="28.96" lengthAdjust="spacingAndGlyphs">map</text>
<rect x="2000.00" y="625.33" width="124.00" height="25.34" fill="#ffffff" stroke="#bfbfbf"/>
<text x="2062.00" y="641.00" text-anchor="middle" textLength="102.78" lengthAdjust="spacingAndGlyphs">unordered_map</text>
<rect x="2148.67" y="625.33" width="150.66" height="25.34" fill="#ffffff" stroke="#000000"/>
<text x="2224.00" y="641.00" text-anchor="middle" textLength="128.85" lengthAdjust="spacingAndGlyphs">GaudiKernel/Hash.h</text>
<rect x="2000.67" y="714.67" width="70.66" height="25.33" fill="#ffffff" stroke="#bfbfbf"/>
<text x="2036.00" y="730.34" text-anchor="middle" textLength="48.23" lengthAdjust="spacingAndGlyphs">cstddef</text>
<rect x="2096.00" y="714.67" width="74.66" height="25.33" fill="#ffffff" stroke="#bfbfbf"/>
<text x="2133.33" y="730.34" text-anchor="middle" textLength="53.39" lengthAdjust="spacingAndGlyphs">numeric</text>
<rect x="2195.33" y="714.67" width="190.66" height="25.33" fill="#ffffff" stroke="#bfbfbf"/>
<text x="2290.66" y="730.34" text-anchor="middle" textLength="170.04" lengthAdjust="spacingAndGlyphs">boost/functional/hash.hpp</text>
<rect x="2410.00" y="714.67" width="177.34" height="25.33" fill="#ffffff" stroke="#000000"/>
<text x="2498.67" y="730.34" text-anchor="middle" textLength="155.26" lengthAdjust="spacingAndGlyphs">GaudiKernel/MapBase.h</text>
</g>
</svg>
</body></html>
